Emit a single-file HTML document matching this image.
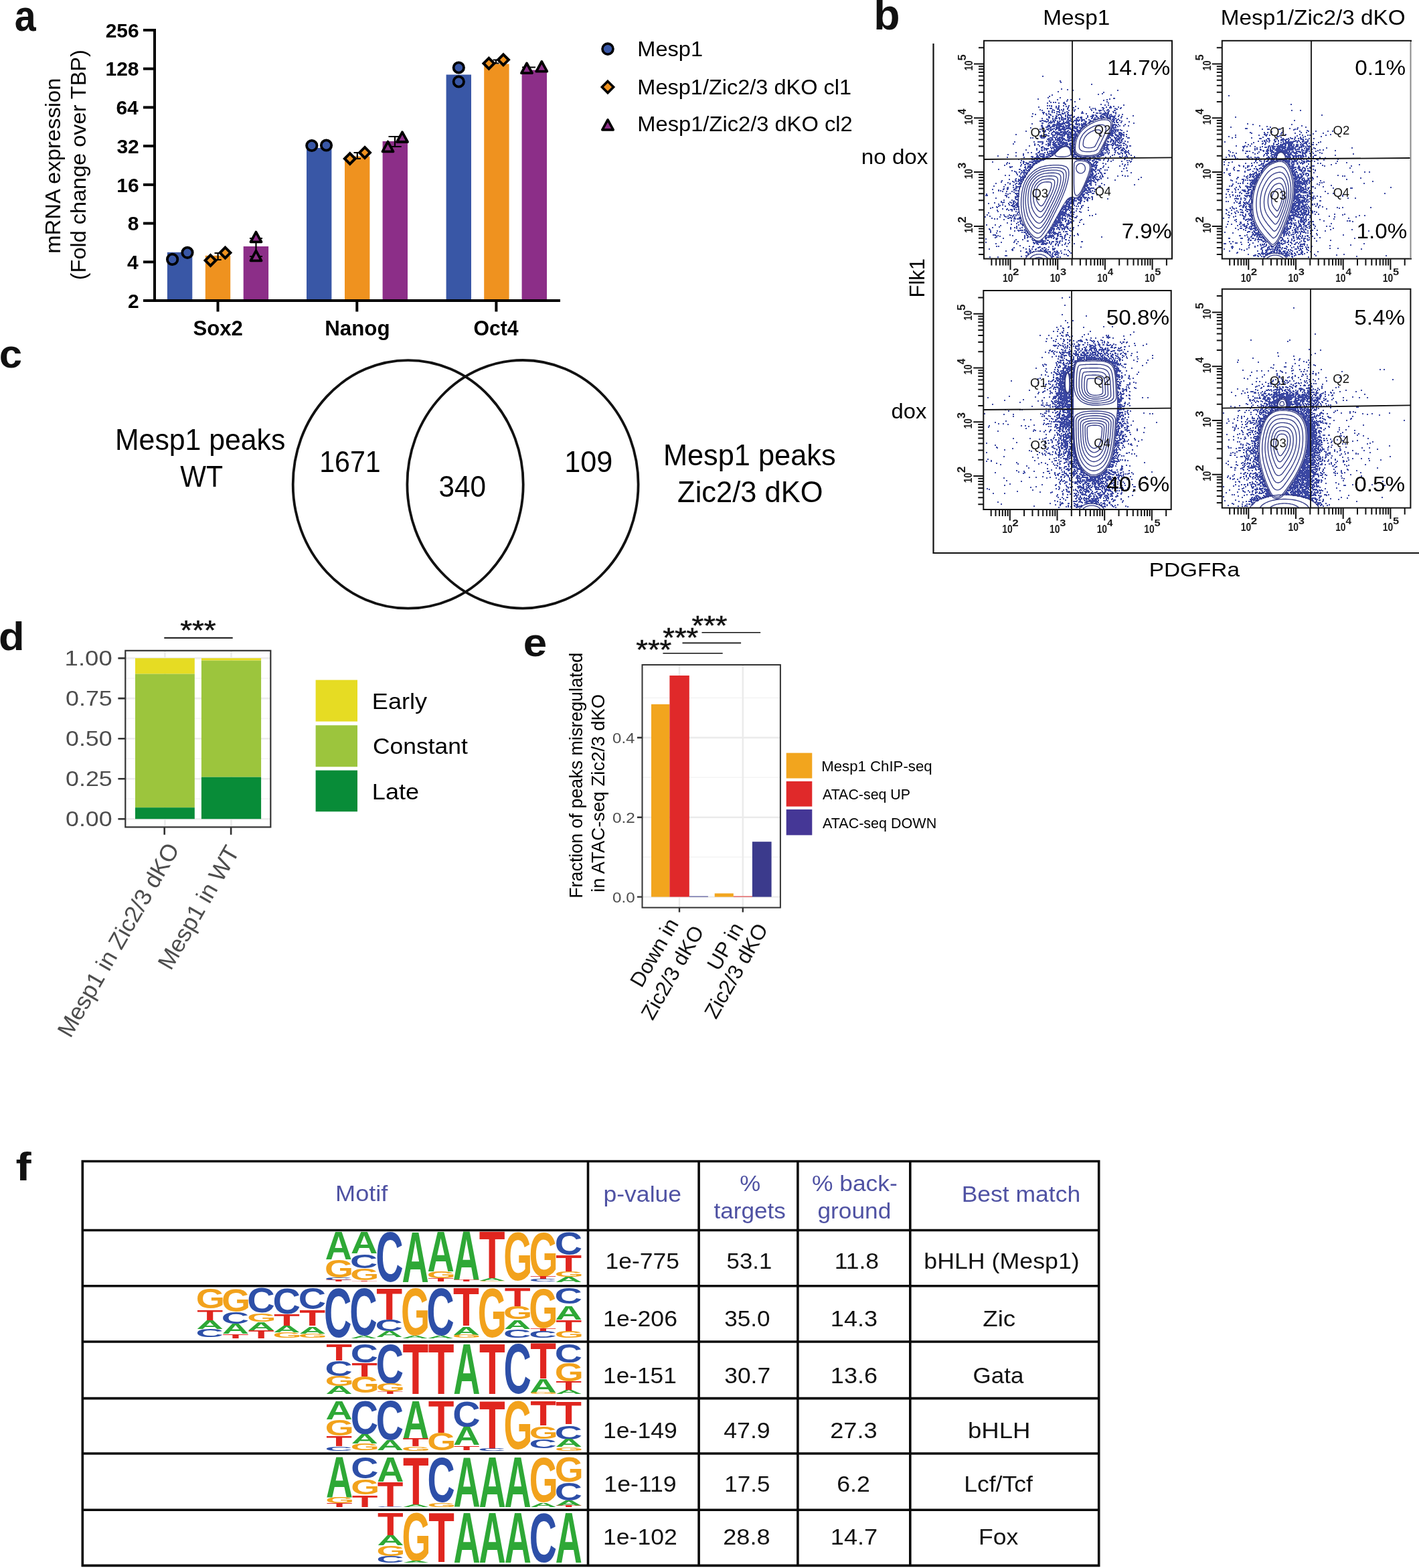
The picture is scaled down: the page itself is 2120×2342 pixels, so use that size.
<!DOCTYPE html>
<html><head><meta charset="utf-8"><title>Figure</title>
<style>html,body{margin:0;padding:0;background:#fff;width:2120px;height:2342px;overflow:hidden}svg{display:block}text{font-family:"Liberation Sans",Arial,Helvetica,sans-serif}</style>
</head><body>
<svg width="2120" height="2342" viewBox="0 0 2120 2342" font-family="'Liberation Sans', Arial, Helvetica, sans-serif">
<rect width="2120" height="2342" fill="#fff"/>
<text x="21.72" y="45.60" font-size="64.00" font-weight="bold" fill="#111" textLength="31.92" lengthAdjust="spacingAndGlyphs">a</text>
<g stroke="#000" stroke-width="4" fill="none" stroke-linecap="butt">
<path d="M231 43 V449"/>
<path d="M214 449 H837"/>
<path d="M214 45.0 H231"/>
<path d="M214 102.7 H231"/>
<path d="M214 160.4 H231"/>
<path d="M214 218.1 H231"/>
<path d="M214 275.9 H231"/>
<path d="M214 333.6 H231"/>
<path d="M214 391.3 H231"/>
<path d="M325.5 449 V465.5"/>
<path d="M533.3 449 V465.5"/>
<path d="M741.4 449 V465.5"/>
</g>
<text x="157.63" y="55.75" font-size="30.00" font-weight="bold" fill="#000">256</text>
<text x="157.47" y="113.46" font-size="30.00" font-weight="bold" fill="#000">128</text>
<text x="173.39" y="171.18" font-size="30.00" font-weight="bold" fill="#000">64</text>
<text x="174.43" y="228.89" font-size="30.00" font-weight="bold" fill="#000">32</text>
<text x="174.31" y="286.61" font-size="30.00" font-weight="bold" fill="#000">16</text>
<text x="190.84" y="344.32" font-size="30.00" font-weight="bold" fill="#000">8</text>
<text x="190.08" y="402.04" font-size="30.00" font-weight="bold" fill="#000">4</text>
<text x="191.12" y="459.75" font-size="30.00" font-weight="bold" fill="#000">2</text>
<text x="288.40" y="500.70" font-size="30.50" font-weight="bold" fill="#000" textLength="74.44" lengthAdjust="spacingAndGlyphs">Sox2</text>
<text x="485.21" y="500.70" font-size="30.50" font-weight="bold" fill="#000" textLength="97.39" lengthAdjust="spacingAndGlyphs">Nanog</text>
<text x="707.46" y="500.70" font-size="30.50" font-weight="bold" fill="#000" textLength="67.20" lengthAdjust="spacingAndGlyphs">Oct4</text>
<rect x="249.9" y="376.8" width="37.4" height="70.2" fill="#3957a6"/>
<rect x="306.8" y="381.8" width="37.4" height="65.2" fill="#ef921f"/>
<rect x="363.7" y="368.0" width="37.4" height="79.0" fill="#8c2e88"/>
<rect x="458.0" y="221.0" width="37.4" height="226.0" fill="#3957a6"/>
<rect x="515.0" y="233.5" width="37.4" height="213.5" fill="#ef921f"/>
<rect x="571.6" y="211.0" width="37.4" height="236.0" fill="#8c2e88"/>
<rect x="666.6" y="111.5" width="37.4" height="335.5" fill="#3957a6"/>
<rect x="723.2" y="95.5" width="37.4" height="351.5" fill="#ef921f"/>
<rect x="779.6" y="104.6" width="37.4" height="342.4" fill="#8c2e88"/>
<g stroke="#000" stroke-width="2.2" fill="none">
<path d="M382.5 356 V383 M373 356 H392 M373 383 H392"/>
<path d="M590 204 V219 M580.5 204 H599.7 M580.5 219 H599.7"/>
<path d="M790 100.5 V102.5 M780 100.5 H800"/>
<path d="M325.6 378 V388 M320.5 378 H330.7 M320.5 388 H330.7"/>
<path d="M533.8 228 V237 M528.5 228 H539 M528.5 237 H539"/>
<path d="M741 89.5 V94.5 M736.5 89.5 H745.5 M736.5 94.5 H745.5"/>
</g>
<circle cx="257.6" cy="387.4" r="7.7" fill="#3957a6" stroke="#000" stroke-width="3.8"/>
<circle cx="280.0" cy="377.3" r="7.7" fill="#3957a6" stroke="#000" stroke-width="3.8"/>
<path d="M314.5 381.1L322.4 389.0L314.5 396.9L306.6 389.0Z" fill="#ef921f" stroke="#000" stroke-width="4.0" stroke-linejoin="miter"/>
<path d="M336.5 369.6L344.4 377.5L336.5 385.4L328.6 377.5Z" fill="#ef921f" stroke="#000" stroke-width="4.0" stroke-linejoin="miter"/>
<path d="M382.5 346.6L390.5 361.3L374.5 361.3Z" fill="#8c2e88" stroke="#000" stroke-width="3.8" stroke-linejoin="round"/>
<path d="M382.5 374.6L390.5 389.3L374.5 389.3Z" fill="#8c2e88" stroke="#000" stroke-width="3.8" stroke-linejoin="round"/>
<circle cx="465.8" cy="217.5" r="7.7" fill="#3957a6" stroke="#000" stroke-width="3.8"/>
<circle cx="487.5" cy="217.0" r="7.7" fill="#3957a6" stroke="#000" stroke-width="3.8"/>
<path d="M522.8 229.1L530.7 237.0L522.8 244.9L514.9 237.0Z" fill="#ef921f" stroke="#000" stroke-width="4.0" stroke-linejoin="miter"/>
<path d="M545.0 220.0L552.9 227.9L545.0 235.8L537.1 227.9Z" fill="#ef921f" stroke="#000" stroke-width="4.0" stroke-linejoin="miter"/>
<path d="M579.5 211.6L587.5 226.3L571.5 226.3Z" fill="#8c2e88" stroke="#000" stroke-width="3.8" stroke-linejoin="round"/>
<path d="M601.0 197.3L609.0 212.0L593.0 212.0Z" fill="#8c2e88" stroke="#000" stroke-width="3.8" stroke-linejoin="round"/>
<circle cx="685.3" cy="101.0" r="7.7" fill="#3957a6" stroke="#000" stroke-width="3.8"/>
<circle cx="685.3" cy="122.0" r="7.7" fill="#3957a6" stroke="#000" stroke-width="3.8"/>
<path d="M730.4 86.8L738.3 94.7L730.4 102.6L722.5 94.7Z" fill="#ef921f" stroke="#000" stroke-width="4.0" stroke-linejoin="miter"/>
<path d="M752.0 81.4L759.9 89.3L752.0 97.2L744.1 89.3Z" fill="#ef921f" stroke="#000" stroke-width="4.0" stroke-linejoin="miter"/>
<path d="M787.0 94.5L795.0 109.2L779.0 109.2Z" fill="#8c2e88" stroke="#000" stroke-width="3.8" stroke-linejoin="round"/>
<path d="M809.3 92.0L817.3 106.7L801.3 106.7Z" fill="#8c2e88" stroke="#000" stroke-width="3.8" stroke-linejoin="round"/>
<g transform="translate(90.2 376.6) rotate(-90)">
<text x="-2.16" y="0.00" font-size="31.00" fill="#000" textLength="262.28" lengthAdjust="spacingAndGlyphs">mRNA expression</text>
</g>
<g transform="translate(128.0 416.2) rotate(-90)">
<text x="-2.01" y="0.00" font-size="31.00" fill="#000" textLength="344.02" lengthAdjust="spacingAndGlyphs">(Fold change over TBP)</text>
</g>
<circle cx="908.0" cy="73.1" r="8.0" fill="#3957a6" stroke="#000" stroke-width="3.6"/>
<path d="M908.0 121.4L916.6 130.0L908.0 138.6L899.4 130.0Z" fill="#ef921f" stroke="#000" stroke-width="3.6" stroke-linejoin="miter"/>
<path d="M908.0 178.9L916.2 193.9L899.8 193.9Z" fill="#8c2e88" stroke="#000" stroke-width="3.6" stroke-linejoin="round"/>
<text x="952.33" y="84.20" font-size="32.00" fill="#000" textLength="97.76" lengthAdjust="spacingAndGlyphs">Mesp1</text>
<text x="952.33" y="141.00" font-size="32.00" fill="#000" textLength="319.75" lengthAdjust="spacingAndGlyphs">Mesp1/Zic2/3 dKO cl1</text>
<text x="952.32" y="196.40" font-size="32.00" fill="#000" textLength="321.32" lengthAdjust="spacingAndGlyphs">Mesp1/Zic2/3 dKO cl2</text>
<text x="1305.36" y="44.00" font-size="64.00" font-weight="bold" fill="#111" textLength="39.28" lengthAdjust="spacingAndGlyphs">b</text>
<text x="1558.27" y="37.30" font-size="32.00" fill="#000" textLength="99.96" lengthAdjust="spacingAndGlyphs">Mesp1</text>
<text x="1823.87" y="37.30" font-size="32.00" fill="#000" textLength="275.72" lengthAdjust="spacingAndGlyphs">Mesp1/Zic2/3 dKO</text>
<text x="1286.80" y="244.50" font-size="32.00" fill="#000" textLength="99.56" lengthAdjust="spacingAndGlyphs">no dox</text>
<text x="1331.63" y="625.00" font-size="32.00" fill="#000" textLength="52.72" lengthAdjust="spacingAndGlyphs">dox</text>
<text x="1716.77" y="861.00" font-size="30.00" fill="#000" textLength="135.23" lengthAdjust="spacingAndGlyphs">PDGFRa</text>
<g transform="translate(1380.5 442) rotate(-90)">
<text x="-2.54" y="0.00" font-size="32.00" fill="#000" textLength="58.56" lengthAdjust="spacingAndGlyphs">Flk1</text>
</g>
<path d="M1394.5 65 V826 H2120" stroke="#111" stroke-width="2.2" fill="none"/>
<clipPath id="fc0"><rect x="1470.0" y="60.8" width="281.0" height="325.7"/></clipPath><g clip-path="url(#fc0)">
<path d="M1557 114h2m24 7h2m-1 2h2m44 3h2m-47 7h2m7 1h2m6 1h2m65 0h2m-91 2h2m66 1h2m-4 2h2m-8 1h2m-71 1h2m86 0h2m-94 2h2m-4 2h2m16 0h2m78 1h2m-1 0h2m-116 1h2m60 0h2m43 0h2m-80 1h2m13 0h2m3 0h2m52 0h2m-7 1h2m-83 1h2m24 0h2m10 1h2m46 0h2m-86 1h2m2 0h2m1 0h2m11 0h2m-27 1h2m15 0h2m5 0h2m65 0h2m-67 1h2m-1 1h2m51 0h2m4 1h2m3 0h2m21 0h2m-116 1h2m1 0h2m1 0h2m9 0h2m5 0h2m6 0h2m-28 1h2m5 0h2m13 0h2m12 0h2m50 0h2m3 0h2m-114 1h2m28 0h2m12 0h2m30 0h2m23 0h2m5 0h2m9 0h2m-95 1h2m1 0h2m13 0h2m6 0h2m41 0h2m-1 0h2m8 0h2m0 0h2m13 0h2m-112 1h2m2 0h2m0 0h2m22 0h2m14 0h2m20 0h2m1 0h2m11 0h2m15 0h2m6 0h2m-96 1h2m-1 0h2m-1 0h2m5 0h2m4 0h2m33 0h2m36 0h2m-1 0h2m-117 1h2m17 0h2m11 0h2m1 0h2m12 0h2m1 0h2m29 0h2m9 0h2m5 0h2m-1 0h2m-101 1h2m16 0h2m6 0h2m12 0h2m32 0h2m9 0h2m-1 0h2m0 0h2m7 0h2m9 0h2m-1 0h2m-101 1h2m3 0h2m14 0h2m15 0h2m36 0h2m5 0h2m5 0h2m-92 1h2m10 0h2m-1 0h2m0 0h2m10 0h2m21 0h2m37 0h2m5 0h2m-107 1h2m-1 0h2m-1 0h2m10 0h2m1 0h2m6 0h2m6 0h2m3 0h2m36 0h2m16 0h2m1 0h2m-1 0h2m6 0h2m1 0h2m-82 1h2m2 0h2m9 0h2m12 0h2m0 0h2m18 0h2m0 0h2m1 0h2m0 0h2m3 0h2m3 0h2m-1 0h2m9 0h2m-126 1h2m14 0h2m2 0h2m2 0h2m10 0h2m6 0h2m0 0h2m4 0h2m26 0h2m23 0h2m0 0h2m0 0h2m-1 0h2m1 0h2m9 0h2m-122 1h2m20 0h2m11 0h2m0 0h2m10 0h2m49 0h2m0 0h2m3 0h2m-1 0h2m3 0h2m15 0h2m-115 1h2m4 0h2m9 0h2m2 0h2m5 0h2m3 0h2m1 0h2m-1 0h2m-1 0h2m28 0h2m0 0h2m1 0h2m6 0h2m3 0h2m-1 0h2m1 0h2m2 0h2m12 0h2m-96 1h2m15 0h2m1 0h2m-1 0h2m24 0h2m11 0h2m5 0h2m5 0h2m1 0h2m4 0h2m3 0h2m25 0h2m-153 1h2m23 0h2m4 0h2m4 0h2m5 0h2m4 0h2m11 0h2m23 0h2m-1 0h2m0 0h2m3 0h2m-1 0h2m3 0h2m1 0h2m-1 0h2m3 0h2m-1 0h2m2 0h2m0 0h2m0 0h2m-1 0h2m0 0h2m4 0h2m3 0h2m-110 1h2m8 0h2m15 0h2m7 0h2m5 0h2m2 0h2m-1 0h2m7 0h2m12 0h2m4 0h2m1 0h2m-1 0h2m3 0h2m-1 0h2m2 0h2m2 0h2m-1 0h2m-99 1h2m-1 0h2m7 0h2m-1 0h2m2 0h2m-1 0h2m1 0h2m0 0h2m5 0h2m0 0h2m0 0h2m9 0h2m-1 0h2m1 0h2m0 0h2m14 0h2m2 0h2m3 0h2m2 0h2m10 0h2m-1 0h2m4 0h2m-1 0h2m8 0h2m-120 1h2m14 0h2m3 0h2m-1 0h2m5 0h2m3 0h2m-1 0h2m14 0h2m6 0h2m5 0h2m6 0h2m13 0h2m7 0h2m2 0h2m3 0h2m1 0h2m15 0h2m-122 1h2m7 0h2m1 0h2m5 0h2m4 0h2m-1 0h2m0 0h2m2 0h2m2 0h2m32 0h2m0 0h2m1 0h2m21 0h2m-1 0h2m6 0h2m-107 1h2m18 0h2m-1 0h2m-1 0h2m5 0h2m11 0h2m-1 0h2m-1 0h2m1 0h2m1 0h2m0 0h2m0 0h2m5 0h2m8 0h2m24 0h2m0 0h2m2 0h2m-114 1h2m-1 0h2m14 0h2m1 0h2m18 0h2m0 0h2m4 0h2m0 0h2m0 0h2m1 0h2m3 0h2m10 0h2m32 0h2m-1 0h2m2 0h2m3 0h2m-121 1h2m-1 0h2m3 0h2m0 0h2m2 0h2m2 0h2m1 0h2m-1 0h2m-1 0h2m3 0h2m1 0h2m-1 0h2m3 0h2m3 0h2m1 0h2m1 0h2m9 0h2m3 0h2m3 0h2m8 0h2m0 0h2m28 0h2m-1 0h2m10 0h2m-115 1h2m-1 0h2m4 0h2m22 0h2m-1 0h2m7 0h2m2 0h2m13 0h2m3 0h2m-1 0h2m33 0h2m2 0h2m17 0h2m-121 1h2m0 0h2m0 0h2m1 0h2m3 0h2m0 0h2m5 0h2m1 0h2m-1 0h2m2 0h2m23 0h2m3 0h2m-1 0h2m35 0h2m2 0h2m-1 0h2m3 0h2m-120 1h2m-1 0h2m7 0h2m1 0h2m9 0h2m0 0h2m2 0h2m-1 0h2m-1 0h2m0 0h2m1 0h2m0 0h2m10 0h2m9 0h2m-1 0h2m0 0h2m3 0h2m65 0h2m-154 1h2m35 0h2m-1 0h2m0 0h2m1 0h2m0 0h2m-1 0h2m0 0h2m6 0h2m7 0h2m0 0h2m1 0h2m2 0h2m2 0h2m-48 1h2m0 0h2m1 0h2m1 0h2m-1 0h2m2 0h2m8 0h2m0 0h2m-1 0h2m6 0h2m0 0h2m1 0h2m1 0h2m-1 0h2m0 0h2m-1 0h2m-1 0h2m-1 0h2m40 0h2m0 0h2m3 0h2m8 0h2m-126 1h2m7 0h2m0 0h2m3 0h2m1 0h2m-1 0h2m2 0h2m2 0h2m5 0h2m2 0h2m5 0h2m16 0h2m0 0h2m38 0h2m-1 0h2m2 0h2m-114 1h2m10 0h2m4 0h2m-1 0h2m2 0h2m1 0h2m0 0h2m3 0h2m3 0h2m0 0h2m-1 0h2m-1 0h2m12 0h2m2 0h2m0 0h2m47 0h2m4 0h2m4 0h2m5 0h2m-131 1h2m6 0h2m-1 0h2m0 0h2m2 0h2m-1 0h2m-1 0h2m-1 0h2m2 0h2m2 0h2m0 0h2m0 0h2m-1 0h2m3 0h2m9 0h2m0 0h2m1 0h2m6 0h2m-1 0h2m-1 0h2m-1 0h2m41 0h2m5 0h2m-115 1h2m-1 0h2m3 0h2m0 0h2m2 0h2m-1 0h2m6 0h2m-1 0h2m0 0h2m0 0h2m4 0h2m0 0h2m3 0h2m-1 0h2m7 0h2m2 0h2m5 0h2m-1 0h2m42 0h2m2 0h2m-128 1h2m16 0h2m10 0h2m6 0h2m1 0h2m0 0h2m3 0h2m4 0h2m3 0h2m3 0h2m2 0h2m-1 0h2m2 0h2m-1 0h2m0 0h2m-1 0h2m43 0h2m-1 0h2m-1 0h2m1 0h2m-112 1h2m8 0h2m6 0h2m2 0h2m-1 0h2m-1 0h2m0 0h2m2 0h2m0 0h2m-1 0h2m1 0h2m0 0h2m-1 0h2m0 0h2m-1 0h2m2 0h2m1 0h2m0 0h2m6 0h2m-64 1h2m8 0h2m-1 0h2m2 0h2m1 0h2m-1 0h2m3 0h2m4 0h2m0 0h2m0 0h2m1 0h2m-1 0h2m5 0h2m0 0h2m0 0h2m4 0h2m4 0h2m44 0h2m1 0h2m-1 0h2m-101 1h2m3 0h2m4 0h2m3 0h2m-1 0h2m4 0h2m0 0h2m16 0h2m-1 0h2m2 0h2m45 0h2m4 0h2m0 0h2m0 0h2m1 0h2m-118 1h2m2 0h2m6 0h2m10 0h2m0 0h2m-1 0h2m4 0h2m3 0h2m3 0h2m0 0h2m0 0h2m4 0h2m0 0h2m-1 0h2m47 0h2m1 0h2m-1 0h2m7 0h2m-145 1h2m23 0h2m1 0h2m-1 0h2m4 0h2m4 0h2m9 0h2m8 0h2m9 0h2m1 0h2m-1 0h2m0 0h2m-1 0h2m46 0h2m-1 0h2m-1 0h2m-1 0h2m1 0h2m1 0h2m12 0h2m-132 1h2m5 0h2m11 0h2m0 0h2m1 0h2m4 0h2m-1 0h2m0 0h2m0 0h2m0 0h2m-1 0h2m-1 0h2m-1 0h2m1 0h2m1 0h2m3 0h2m-1 0h2m1 0h2m55 0h2m-97 1h2m3 0h2m2 0h2m1 0h2m0 0h2m1 0h2m1 0h2m3 0h2m0 0h2m-1 0h2m0 0h2m3 0h2m3 0h2m46 0h2m0 0h2m1 0h2m5 0h2m0 0h2m3 0h2m-114 1h2m10 0h2m-1 0h2m1 0h2m6 0h2m0 0h2m12 0h2m51 0h2m1 0h2m11 0h2m-107 1h2m4 0h2m-1 0h2m2 0h2m-1 0h2m3 0h2m0 0h2m1 0h2m-1 0h2m0 0h2m1 0h2m-1 0h2m3 0h2m1 0h2m49 0h2m0 0h2m3 0h2m4 0h2m0 0h2m-1 0h2m-159 1h2m40 0h2m-1 0h2m0 0h2m7 0h2m6 0h2m0 0h2m-1 0h2m-1 0h2m0 0h2m3 0h2m4 0h2m2 0h2m1 0h2m-1 0h2m-1 0h2m1 0h2m47 0h2m-1 0h2m1 0h2m3 0h2m3 0h2m0 0h2m0 0h2m0 0h2m-1 0h2m2 0h2m-129 1h2m6 0h2m7 0h2m-1 0h2m0 0h2m6 0h2m-1 0h2m0 0h2m1 0h2m3 0h2m0 0h2m1 0h2m-1 0h2m-1 0h2m0 0h2m1 0h2m-1 0h2m48 0h2m0 0h2m0 0h2m3 0h2m0 0h2m3 0h2m0 0h2m-124 1h2m10 0h2m-1 0h2m10 0h2m6 0h2m0 0h2m-1 0h2m9 0h2m3 0h2m-1 0h2m0 0h2m50 0h2m-1 0h2m-1 0h2m6 0h2m1 0h2m3 0h2m-125 1h2m4 0h2m9 0h2m4 0h2m6 0h2m6 0h2m0 0h2m0 0h2m5 0h2m-1 0h2m48 0h2m10 0h2m-1 0h2m3 0h2m6 0h2m-130 1h2m2 0h2m0 0h2m12 0h2m2 0h2m2 0h2m0 0h2m9 0h2m0 0h2m0 0h2m1 0h2m0 0h2m0 0h2m49 0h2m5 0h2m5 0h2m-134 1h2m1 0h2m11 0h2m0 0h2m0 0h2m7 0h2m0 0h2m-1 0h2m3 0h2m3 0h2m-1 0h2m1 0h2m-1 0h2m-1 0h2m5 0h2m0 0h2m-1 0h2m-1 0h2m0 0h2m-1 0h2m-1 0h2m-1 0h2m-1 0h2m-1 0h2m-1 0h2m47 0h2m1 0h2m5 0h2m0 0h2m3 0h2m0 0h2m8 0h2m0 0h2m-139 1h2m15 0h2m3 0h2m6 0h2m0 0h2m2 0h2m-1 0h2m1 0h2m5 0h2m-1 0h2m4 0h2m-1 0h2m-1 0h2m48 0h2m8 0h2m-1 0h2m1 0h2m0 0h2m-1 0h2m3 0h2m-115 1h2m10 0h2m5 0h2m1 0h2m0 0h2m6 0h2m5 0h2m-1 0h2m-1 0h2m53 0h2m4 0h2m1 0h2m-1 0h2m4 0h2m-112 1h2m0 0h2m-1 0h2m-1 0h2m0 0h2m2 0h2m-1 0h2m0 0h2m-1 0h2m-1 0h2m-1 0h2m-1 0h2m2 0h2m1 0h2m-1 0h2m1 0h2m-1 0h2m2 0h2m2 0h2m-1 0h2m-1 0h2m52 0h2m0 0h2m5 0h2m-1 0h2m0 0h2m1 0h2m-97 1h2m0 0h2m-1 0h2m2 0h2m4 0h2m1 0h2m0 0h2m0 0h2m2 0h2m58 0h2m1 0h2m0 0h2m5 0h2m-114 1h2m1 0h2m1 0h2m3 0h2m7 0h2m0 0h2m8 0h2m-1 0h2m4 0h2m0 0h2m48 0h2m3 0h2m1 0h2m8 0h2m1 0h2m3 0h2m-167 1h2m27 0h2m4 0h2m-1 0h2m0 0h2m0 0h2m0 0h2m8 0h2m0 0h2m2 0h2m3 0h2m2 0h2m1 0h2m1 0h2m11 0h2m0 0h2m49 0h2m-1 0h2m1 0h2m3 0h2m1 0h2m1 0h2m13 0h2m-114 1h2m2 0h2m2 0h2m1 0h2m-1 0h2m-1 0h2m0 0h2m-1 0h2m-1 0h2m0 0h2m0 0h2m7 0h2m61 0h2m3 0h2m1 0h2m-1 0h2m-119 1h2m6 0h2m1 0h2m4 0h2m-1 0h2m6 0h2m0 0h2m5 0h2m-1 0h2m3 0h2m0 0h2m49 0h2m8 0h2m-1 0h2m1 0h2m5 0h2m3 0h2m0 0h2m-168 1h2m30 0h2m9 0h2m8 0h2m-1 0h2m4 0h2m5 0h2m-1 0h2m-1 0h2m2 0h2m-1 0h2m0 0h2m0 0h2m0 0h2m-1 0h2m1 0h2m-1 0h2m1 0h2m-1 0h2m-1 0h2m-1 0h2m47 0h2m9 0h2m-116 1h2m10 0h2m1 0h2m0 0h2m-1 0h2m2 0h2m0 0h2m0 0h2m-1 0h2m1 0h2m-1 0h2m5 0h2m2 0h2m-1 0h2m-1 0h2m1 0h2m-1 0h2m2 0h2m0 0h2m44 0h2m1 0h2m0 0h2m-1 0h2m1 0h2m1 0h2m2 0h2m1 0h2m10 0h2m-138 1h2m19 0h2m0 0h2m3 0h2m-1 0h2m7 0h2m0 0h2m-1 0h2m3 0h2m5 0h2m-1 0h2m1 0h2m46 0h2m-1 0h2m-1 0h2m7 0h2m-1 0h2m2 0h2m-1 0h2m-1 0h2m-1 0h2m1 0h2m-1 0h2m-1 0h2m2 0h2m-143 1h2m13 0h2m11 0h2m7 0h2m-1 0h2m-1 0h2m0 0h2m2 0h2m0 0h2m0 0h2m1 0h2m2 0h2m4 0h2m0 0h2m51 0h2m5 0h2m7 0h2m-1 0h2m10 0h2m2 0h2m-1 0h2m-133 1h2m18 0h2m-1 0h2m0 0h2m-1 0h2m0 0h2m-1 0h2m8 0h2m-1 0h2m2 0h2m0 0h2m-1 0h2m45 0h2m2 0h2m-100 1h2m12 0h2m1 0h2m1 0h2m0 0h2m-1 0h2m0 0h2m-1 0h2m-1 0h2m0 0h2m11 0h2m0 0h2m2 0h2m-1 0h2m43 0h2m1 0h2m13 0h2m0 0h2m2 0h2m-1 0h2m7 0h2m-130 1h2m-1 0h2m1 0h2m11 0h2m-1 0h2m4 0h2m18 0h2m2 0h2m46 0h2m0 0h2m-1 0h2m5 0h2m3 0h2m2 0h2m5 0h2m3 0h2m-136 1h2m10 0h2m0 0h2m0 0h2m-1 0h2m3 0h2m5 0h2m-1 0h2m1 0h2m-1 0h2m14 0h2m-1 0h2m0 0h2m-1 0h2m44 0h2m-1 0h2m13 0h2m-1 0h2m5 0h2m4 0h2m-106 1h2m1 0h2m0 0h2m0 0h2m17 0h2m2 0h2m42 0h2m-1 0h2m2 0h2m0 0h2m13 0h2m3 0h2m-1 0h2m1 0h2m-149 1h2m14 0h2m5 0h2m-1 0h2m1 0h2m1 0h2m-1 0h2m9 0h2m-1 0h2m-1 0h2m-1 0h2m1 0h2m17 0h2m3 0h2m45 0h2m-1 0h2m10 0h2m9 0h2m-121 1h2m12 0h2m2 0h2m0 0h2m0 0h2m-1 0h2m18 0h2m-1 0h2m1 0h2m42 0h2m7 0h2m8 0h2m6 0h2m-1 0h2m0 0h2m2 0h2m2 0h2m-135 1h2m13 0h2m0 0h2m-1 0h2m-1 0h2m-1 0h2m1 0h2m1 0h2m22 0h2m0 0h2m39 0h2m6 0h2m25 0h2m-130 1h2m10 0h2m4 0h2m2 0h2m24 0h2m-1 0h2m-1 0h2m-1 0h2m60 0h2m12 0h2m1 0h2m0 0h2m-169 1h2m16 0h2m3 0h2m8 0h2m-1 0h2m7 0h2m2 0h2m6 0h2m1 0h2m-1 0h2m22 0h2m-1 0h2m1 0h2m-1 0h2m38 0h2m-1 0h2m-1 0h2m1 0h2m1 0h2m1 0h2m7 0h2m2 0h2m3 0h2m4 0h2m-1 0h2m2 0h2m-120 1h2m-1 0h2m-1 0h2m-1 0h2m1 0h2m26 0h2m1 0h2m41 0h2m1 0h2m24 0h2m2 0h2m-154 1h2m17 0h2m-1 0h2m3 0h2m0 0h2m0 0h2m-1 0h2m5 0h2m2 0h2m0 0h2m0 0h2m30 0h2m-1 0h2m36 0h2m0 0h2m-1 0h2m6 0h2m13 0h2m0 0h2m2 0h2m8 0h2m-183 1h2m51 0h2m-1 0h2m2 0h2m1 0h2m3 0h2m28 0h2m0 0h2m-1 0h2m-1 0h2m0 0h2m33 0h2m-1 0h2m-1 0h2m2 0h2m14 0h2m16 0h2m-156 1h2m19 0h2m1 0h2m5 0h2m6 0h2m2 0h2m-1 0h2m28 0h2m-1 0h2m35 0h2m2 0h2m0 0h2m-1 0h2m12 0h2m26 0h2m-201 1h2m25 0h2m29 0h2m4 0h2m1 0h2m-1 0h2m5 0h2m1 0h2m-1 0h2m-1 0h2m31 0h2m3 0h2m-1 0h2m-1 0h2m26 0h2m-1 0h2m3 0h2m30 0h2m4 0h2m-144 1h2m0 0h2m6 0h2m2 0h2m-1 0h2m2 0h2m1 0h2m0 0h2m2 0h2m32 0h2m-1 0h2m-1 0h2m0 0h2m-1 0h2m1 0h2m0 0h2m-1 0h2m-1 0h2m18 0h2m2 0h2m0 0h2m-1 0h2m-1 0h2m14 0h2m12 0h2m6 0h2m1 0h2m9 0h2m-192 1h2m23 0h2m11 0h2m4 0h2m-1 0h2m0 0h2m4 0h2m3 0h2m0 0h2m41 0h2m4 0h2m-1 0h2m1 0h2m-1 0h2m0 0h2m5 0h2m3 0h2m1 0h2m14 0h2m21 0h2m-131 1h2m0 0h2m2 0h2m-1 0h2m5 0h2m-1 0h2m1 0h2m41 0h2m7 0h2m1 0h2m1 0h2m4 0h2m-1 0h2m-1 0h2m-91 1h2m5 0h2m1 0h2m1 0h2m2 0h2m-1 0h2m3 0h2m39 0h2m0 0h2m-1 0h2m-1 0h2m-1 0h2m-1 0h2m-1 0h2m0 0h2m2 0h2m-1 0h2m0 0h2m-1 0h2m0 0h2m1 0h2m0 0h2m5 0h2m12 0h2m4 0h2m23 0h2m-161 1h2m20 0h2m4 0h2m2 0h2m-1 0h2m-1 0h2m-1 0h2m-1 0h2m1 0h2m45 0h2m-1 0h2m-1 0h2m-1 0h2m1 0h2m-1 0h2m-1 0h2m-1 0h2m-1 0h2m-1 0h2m0 0h2m3 0h2m10 0h2m0 0h2m-1 0h2m-1 0h2m36 0h2m9 0h2m-151 1h2m1 0h2m2 0h2m3 0h2m2 0h2m-1 0h2m60 0h2m1 0h2m2 0h2m-1 0h2m3 0h2m-1 0h2m5 0h2m-1 0h2m-1 0h2m3 0h2m5 0h2m5 0h2m-139 1h2m19 0h2m-1 0h2m1 0h2m-1 0h2m-1 0h2m0 0h2m68 0h2m5 0h2m-1 0h2m49 0h2m1 0h2m-160 1h2m13 0h2m-1 0h2m-1 0h2m-1 0h2m0 0h2m-1 0h2m-1 0h2m0 0h2m72 0h2m4 0h2m2 0h2m-1 0h2m15 0h2m3 0h2m14 0h2m12 0h2m-209 1h2m44 0h2m-1 0h2m6 0h2m-1 0h2m-1 0h2m0 0h2m-1 0h2m2 0h2m0 0h2m0 0h2m-1 0h2m73 0h2m7 0h2m2 0h2m47 0h2m-186 1h2m18 0h2m6 0h2m7 0h2m3 0h2m-1 0h2m79 0h2m4 0h2m1 0h2m-1 0h2m44 0h2m-179 1h2m19 0h2m3 0h2m0 0h2m6 0h2m0 0h2m1 0h2m83 0h2m2 0h2m8 0h2m-146 1h2m29 0h2m0 0h2m5 0h2m-1 0h2m83 0h2m-1 0h2m1 0h2m16 0h2m23 0h2m-153 1h2m3 0h2m-1 0h2m5 0h2m-1 0h2m1 0h2m-1 0h2m85 0h2m0 0h2m-1 0h2m1 0h2m42 0h2m2 0h2m-186 1h2m129 0h2m0 0h2m-1 0h2m-1 0h2m0 0h2m-1 0h2m-116 1h2m9 0h2m-1 0h2m-1 0h2m-1 0h2m1 0h2m87 0h2m-1 0h2m1 0h2m12 0h2m22 0h2m5 0h2m-173 1h2m1 0h2m18 0h2m5 0h2m0 0h2m88 0h2m-1 0h2m-1 0h2m3 0h2m-131 1h2m-1 0h2m19 0h2m3 0h2m-1 0h2m1 0h2m0 0h2m92 0h2m10 0h2m6 0h2m-126 1h2m1 0h2m2 0h2m97 0h2m43 0h2m-145 1h2m90 0h2m3 0h2m5 0h2m-1 0h2m32 0h2m-189 1h2m29 0h2m-1 0h2m7 0h2m2 0h2m-1 0h2m91 0h2m1 0h2m1 0h2m-109 1h2m-1 0h2m4 0h2m-1 0h2m93 0h2m0 0h2m3 0h2m-1 0h2m-1 0h2m7 0h2m1 0h2m-144 1h2m12 0h2m1 0h2m0 0h2m1 0h2m-1 0h2m1 0h2m91 0h2m-1 0h2m1 0h2m6 0h2m39 0h2m-170 1h2m114 0h2m3 0h2m4 0h2m31 0h2m-160 1h2m3 0h2m3 0h2m1 0h2m97 0h2m5 0h2m-113 1h2m1 0h2m1 0h2m-1 0h2m-1 0h2m-1 0h2m95 0h2m10 0h2m-1 0h2m43 0h2m-173 1h2m9 0h2m101 0h2m6 0h2m7 0h2m-1 0h2m-128 1h2m3 0h2m1 0h2m-1 0h2m93 0h2m0 0h2m-1 0h2m4 0h2m6 0h2m-128 1h2m8 0h2m101 0h2m-133 1h2m4 0h2m21 0h2m97 0h2m0 0h2m2 0h2m-1 0h2m8 0h2m28 0h2m-156 1h2m-1 0h2m2 0h2m99 0h2m-1 0h2m-1 0h2m2 0h2m-1 0h2m6 0h2m24 0h2m9 0h2m2 0h2m-159 1h2m-1 0h2m-1 0h2m0 0h2m94 0h2m-1 0h2m2 0h2m-1 0h2m3 0h2m6 0h2m-1 0h2m-125 1h2m-1 0h2m2 0h2m-1 0h2m96 0h2m-1 0h2m1 0h2m-1 0h2m-1 0h2m-1 0h2m5 0h2m60 0h2m-179 1h2m-1 0h2m96 0h2m-1 0h2m-1 0h2m1 0h2m-1 0h2m2 0h2m6 0h2m8 0h2m-139 1h2m5 0h2m1 0h2m-1 0h2m103 0h2m1 0h2m6 0h2m-139 1h2m12 0h2m1 0h2m-1 0h2m-1 0h2m0 0h2m95 0h2m2 0h2m6 0h2m-1 0h2m-1 0h2m0 0h2m57 0h2m-186 1h2m5 0h2m0 0h2m1 0h2m95 0h2m0 0h2m0 0h2m3 0h2m29 0h2m-171 1h2m19 0h2m2 0h2m0 0h2m99 0h2m3 0h2m-1 0h2m0 0h2m5 0h2m-129 1h2m3 0h2m1 0h2m2 0h2m-1 0h2m97 0h2m0 0h2m-1 0h2m4 0h2m-140 1h2m17 0h2m10 0h2m96 0h2m-1 0h2m2 0h2m4 0h2m-132 1h2m15 0h2m-1 0h2m98 0h2m11 0h2m-151 1h2m19 0h2m8 0h2m5 0h2m100 0h2m0 0h2m14 0h2m-139 1h2m6 0h2m3 0h2m0 0h2m97 0h2m3 0h2m-128 1h2m120 0h2m-1 0h2m3 0h2m5 0h2m11 0h2m43 0h2m-183 1h2m107 0h2m-1 0h2m-1 0h2m3 0h2m-147 1h2m31 0h2m4 0h2m-1 0h2m95 0h2m0 0h2m16 0h2m0 0h2m-146 1h2m17 0h2m-1 0h2m-1 0h2m-1 0h2m-1 0h2m-1 0h2m95 0h2m1 0h2m-120 1h2m6 0h2m7 0h2m100 0h2m0 0h2m-124 1h2m10 0h2m0 0h2m2 0h2m96 0h2m3 0h2m2 0h2m0 0h2m0 0h2m-136 1h2m4 0h2m15 0h2m96 0h2m-1 0h2m-1 0h2m1 0h2m-1 0h2m0 0h2m-148 1h2m14 0h2m4 0h2m8 0h2m-1 0h2m105 0h2m11 0h2m0 0h2m-148 1h2m21 0h2m1 0h2m100 0h2m0 0h2m3 0h2m-1 0h2m-138 1h2m1 0h2m21 0h2m1 0h2m98 0h2m1 0h2m-1 0h2m2 0h2m1 0h2m-136 1h2m4 0h2m6 0h2m105 0h2m-1 0h2m7 0h2m4 0h2m-122 1h2m101 0h2m-1 0h2m5 0h2m0 0h2m0 0h2m-148 1h2m136 0h2m-1 0h2m-1 0h2m-1 0h2m-124 1h2m4 0h2m6 0h2m0 0h2m0 0h2m94 0h2m5 0h2m6 0h2m0 0h2m-162 1h2m30 0h2m14 0h2m92 0h2m-1 0h2m-1 0h2m0 0h2m-103 1h2m94 0h2m0 0h2m7 0h2m11 0h2m-168 1h2m0 0h2m25 0h2m0 0h2m14 0h2m97 0h2m-101 1h2m0 0h2m90 0h2m1 0h2m-115 1h2m11 0h2m-1 0h2m-1 0h2m0 0h2m90 0h2m-1 0h2m3 0h2m10 0h2m-1 0h2m-127 1h2m8 0h2m-1 0h2m82 0h2m7 0h2m-1 0h2m1 0h2m-1 0h2m1 0h2m0 0h2m-1 0h2m-1 0h2m1 0h2m-140 1h2m27 0h2m80 0h2m-1 0h2m-1 0h2m-1 0h2m1 0h2m-1 0h2m3 0h2m1 0h2m0 0h2m10 0h2m2 0h2m-37 1h2m1 0h2m-1 0h2m3 0h2m1 0h2m-1 0h2m9 0h2m2 0h2m28 0h2m-139 1h2m0 0h2m74 0h2m-1 0h2m0 0h2m2 0h2m0 0h2m4 0h2m-1 0h2m0 0h2m-1 0h2m7 0h2m6 0h2m-134 1h2m10 0h2m84 0h2m1 0h2m9 0h2m0 0h2m0 0h2m6 0h2m-1 0h2m-112 1h2m4 0h2m71 0h2m1 0h2m3 0h2m0 0h2m-1 0h2m-1 0h2m0 0h2m4 0h2m9 0h2m-131 1h2m16 0h2m-1 0h2m77 0h2m0 0h2m2 0h2m2 0h2m8 0h2m-1 0h2m3 0h2m-126 1h2m2 0h2m7 0h2m6 0h2m75 0h2m-1 0h2m-1 0h2m-1 0h2m3 0h2m-118 1h2m10 0h2m11 0h2m1 0h2m4 0h2m-1 0h2m70 0h2m3 0h2m0 0h2m0 0h2m0 0h2m5 0h2m0 0h2m-1 0h2m-139 1h2m28 0h2m6 0h2m2 0h2m-1 0h2m71 0h2m-1 0h2m-1 0h2m1 0h2m-1 0h2m0 0h2m11 0h2m-124 1h2m20 0h2m2 0h2m0 0h2m71 0h2m-1 0h2m0 0h2m6 0h2m4 0h2m-114 1h2m8 0h2m3 0h2m3 0h2m73 0h2m2 0h2m-1 0h2m-106 1h2m15 0h2m-1 0h2m2 0h2m1 0h2m0 0h2m68 0h2m0 0h2m7 0h2m1 0h2m11 0h2m-128 1h2m8 0h2m9 0h2m0 0h2m73 0h2m-1 0h2m-1 0h2m-1 0h2m0 0h2m0 0h2m-1 0h2m8 0h2m1 0h2m3 0h2m-129 1h2m23 0h2m-1 0h2m-1 0h2m2 0h2m0 0h2m65 0h2m2 0h2m1 0h2m2 0h2m-119 1h2m5 0h2m26 0h2m70 0h2m-1 0h2m5 0h2m2 0h2m12 0h2m8 0h2m-148 1h2m105 0h2m-1 0h2m1 0h2m-1 0h2m2 0h2m-1 0h2m0 0h2m1 0h2m-106 1h2m5 0h2m8 0h2m-1 0h2m4 0h2m63 0h2m-1 0h2m1 0h2m-1 0h2m-1 0h2m5 0h2m0 0h2m0 0h2m3 0h2m3 0h2m-112 1h2m4 0h2m0 0h2m2 0h2m1 0h2m1 0h2m62 0h2m1 0h2m-1 0h2m-1 0h2m-1 0h2m1 0h2m-1 0h2m-108 1h2m15 0h2m85 0h2m2 0h2m26 0h2m-116 1h2m71 0h2m1 0h2m2 0h2m7 0h2m5 0h2m-119 1h2m25 0h2m65 0h2m-1 0h2m0 0h2m3 0h2m5 0h2m11 0h2m-94 1h2m61 0h2m-1 0h2m0 0h2m1 0h2m0 0h2m6 0h2m1 0h2m0 0h2m8 0h2m-140 1h2m105 0h2m-1 0h2m-1 0h2m0 0h2m-1 0h2m-1 0h2m-1 0h2m6 0h2m0 0h2m-1 0h2m-84 1h2m61 0h2m0 0h2m-1 0h2m-1 0h2m0 0h2m1 0h2m-1 0h2m-13 1h2m-1 0h2m-1 0h2m-1 0h2m-1 0h2m0 0h2m0 0h2m4 0h2m6 0h2m31 0h2m-164 1h2m18 0h2m3 0h2m6 0h2m5 0h2m1 0h2m1 0h2m61 0h2m0 0h2m1 0h2m0 0h2m1 0h2m2 0h2m1 0h2m-93 1h2m-1 0h2m1 0h2m2 0h2m62 0h2m0 0h2m2 0h2m-1 0h2m0 0h2m3 0h2m30 0h2m2 0h2m-155 1h2m20 0h2m3 0h2m74 0h2m8 0h2m4 0h2m0 0h2m1 0h2m4 0h2m-139 1h2m20 0h2m7 0h2m8 0h2m1 0h2m62 0h2m1 0h2m-1 0h2m1 0h2m6 0h2m4 0h2m0 0h2m-96 1h2m-1 0h2m4 0h2m5 0h2m0 0h2m53 0h2m-1 0h2m-1 0h2m0 0h2m20 0h2m0 0h2m-128 1h2m22 0h2m-1 0h2m2 0h2m11 0h2m54 0h2m-1 0h2m2 0h2m0 0h2m-1 0h2m1 0h2m5 0h2m-114 1h2m2 0h2m23 0h2m0 0h2m1 0h2m-1 0h2m-1 0h2m0 0h2m-1 0h2m54 0h2m-1 0h2m-1 0h2m2 0h2m1 0h2m0 0h2m5 0h2m-101 1h2m76 0h2m3 0h2m-1 0h2m15 0h2m13 0h2m-107 1h2m65 0h2m1 0h2m-1 0h2m-1 0h2m-1 0h2m1 0h2m-1 0h2m3 0h2m1 0h2m16 0h2m-105 1h2m2 0h2m7 0h2m-1 0h2m50 0h2m0 0h2m-1 0h2m0 0h2m8 0h2m2 0h2m-1 0h2m5 0h2m-82 1h2m51 0h2m-1 0h2m-1 0h2m-1 0h2m1 0h2m-1 0h2m6 0h2m6 0h2m-81 1h2m53 0h2m1 0h2m0 0h2m0 0h2m1 0h2m8 0h2m1 0h2m12 0h2m-110 1h2m18 0h2m49 0h2m-1 0h2m1 0h2m0 0h2m0 0h2m12 0h2m1 0h2m-1 0h2m-85 1h2m4 0h2m52 0h2m4 0h2m7 0h2m0 0h2m-1 0h2m-88 1h2m14 0h2m46 0h2m0 0h2m-1 0h2m5 0h2m0 0h2m7 0h2m21 0h2m-147 1h2m11 0h2m33 0h2m5 0h2m43 0h2m-1 0h2m3 0h2m1 0h2m3 0h2m-1 0h2m3 0h2m-101 1h2m31 0h2m44 0h2m-1 0h2m-1 0h2m-1 0h2m1 0h2m3 0h2m-1 0h2m23 0h2m-94 1h2m52 0h2m-1 0h2m-1 0h2m0 0h2m0 0h2m3 0h2m3 0h2m2 0h2m-102 1h2m96 0h2m-1 0h2m1 0h2m-114 1h2m25 0h2m4 0h2m1 0h2m6 0h2m42 0h2m0 0h2m5 0h2m0 0h2m1 0h2m4 0h2m1 0h2m8 0h2m-87 1h2m3 0h2m47 0h2m-1 0h2m-1 0h2m10 0h2m0 0h2m0 0h2m2 0h2m2 0h2m2 0h2m-127 1h2m30 0h2m59 0h2m-1 0h2m-1 0h2m0 0h2m2 0h2m1 0h2m12 0h2m-119 1h2m50 0h2m36 0h2m3 0h2m-1 0h2m6 0h2m2 0h2m1 0h2m11 0h2m-84 1h2m1 0h2m0 0h2m0 0h2m1 0h2m36 0h2m0 0h2m1 0h2m22 0h2m-120 1h2m8 0h2m24 0h2m4 0h2m9 0h2m33 0h2m0 0h2m-1 0h2m1 0h2m24 0h2m-108 1h2m39 0h2m30 0h2m-1 0h2m-1 0h2m18 0h2m1 0h2m0 0h2m-116 1h2m45 0h2m1 0h2m0 0h2m35 0h2m2 0h2m-1 0h2m0 0h2m4 0h2m0 0h2m-97 1h2m44 0h2m30 0h2m-1 0h2m0 0h2m-1 0h2m4 0h2m-46 1h2m33 0h2m4 0h2m0 0h2m0 0h2m0 0h2m-1 0h2m11 0h2m14 0h2m-75 1h2m-1 0h2m36 0h2m2 0h2m-1 0h2m1 0h2m-1 0h2m8 0h2m13 0h2m-128 1h2m-1 0h2m0 0h2m20 0h2m23 0h2m33 0h2m1 0h2m6 0h2m10 0h2m8 0h2m7 0h2m-125 1h2m1 0h2m20 0h2m16 0h2m2 0h2m27 0h2m1 0h2m-1 0h2m-1 0h2m-1 0h2m0 0h2m0 0h2m5 0h2m8 0h2m6 0h2m4 0h2m-113 1h2m40 0h2m24 0h2m5 0h2m1 0h2m-1 0h2m-1 0h2m4 0h2m2 0h2m0 0h2m-99 1h2m40 0h2m3 0h2m1 0h2m-1 0h2m-1 0h2m23 0h2m0 0h2m0 0h2m15 0h2m2 0h2m53 0h2m-161 1h2m46 0h2m25 0h2m0 0h2m1 0h2m2 0h2m2 0h2m21 0h2m-101 1h2m30 0h2m41 0h2m2 0h2m0 0h2m5 0h2m1 0h2m-119 1h2m67 0h2m18 0h2m-1 0h2m22 0h2m13 0h2m-86 1h2m8 0h2m27 0h2m19 0h2m-1 0h2m11 0h2m-1 0h2m-52 1h2m0 0h2m-1 0h2m8 0h2m-1 0h2m-1 0h2m5 0h2m-1 0h2m29 0h2m3 0h2m-88 1h2m17 0h2m-1 0h2m9 0h2m-1 0h2m9 0h2m-1 0h2m0 0h2m20 0h2m1 0h2m-68 1h2m26 0h2m0 0h2m1 0h2m0 0h2m-1 0h2m0 0h2m7 0h2m2 0h2m0 0h2m2 0h2m0 0h2m1 0h2m31 0h2m-1 0h2m-146 1h2m21 0h2m17 0h2m27 0h2m2 0h2m2 0h2m-1 0h2m-1 0h2m24 0h2m1 0h2m13 0h2m-54 1h2m2 0h2m5 0h2m-1 0h2m0 0h2m1 0h2m-1 0h2m-1 0h2m1 0h2m1 0h2m10 0h2m7 0h2m-106 1h2m29 0h2m24 0h2m2 0h2m8 0h2m0 0h2m15 0h2m16 0h2m7 0h2m-56 1h2m3 0h2m-1 0h2m-1 0h2m-1 0h2m1 0h2m-1 0h2m5 0h2m5 0h2m2 0h2m8 0h2m-16 1h2m8 0h2m-65 1h2m55 0h2m-94 1h2m1 0h2m44 0h2m4 0h2m27 0h2m19 0h2m6 0h2m-61 1h2m8 0h2m-1 0h2m11 0h2m46 0h2m-102 1h2m12 0h2m20 0h2m-1 0h2m6 0h2m-1 0h2m-6 1h2m14 0h2m1 0h2m-100 1h2m33 0h2m18 0h2m3 0h2m2 0h2m4 0h2m8 0h2m3 0h2m10 0h2m-65 1h2m33 0h2m6 0h2m5 0h2m2 0h2m5 0h2m0 0h2m14 0h2m-80 1h2m24 0h2m19 0h2m34 0h2m-95 1h2m20 0h2m11 0h2m0 0h2m10 0h2m-1 0h2m-1 0h2m-1 0h2m0 0h2m2 0h2m-1 0h2m0 0h2m13 0h2m4 0h2m-53 1h2m8 0h2m16 0h2m-1 0h2m-1 0h2m1 0h2m-1 0h2m-1 0h2m4 0h2m-1 0h2m2 0h2m16 0h2m-67 1h2m-1 0h2m3 0h2m1 0h2m18 0h2m1 0h2m11 0h2m-1 0h2m-45 1h2m31 0h2m2 0h2m5 0h2m0 0h2m2 0h2m12 0h2m-66 1h2m28 0h2m9 0h2m-43 1h2m34 0h2m2 0h2m0 0h2m-1 0h2m9 0h2m1 0h2m-26 1h2m6 0h2m2 0h2m-81 1h2m0 0h2m27 0h2m37 0h2m21 0h2m-1 0h2m-72 1h2m46 0h2m-97 1h2m10 0h2m79 0h2m5 0h2m0 0h2m1 0h2" stroke="#3a47a2" stroke-width="2" fill="none"/>
<path d="M1544.0 356.5L1542.5 355.0L1540.9 353.3L1539.5 351.6L1538.0 349.8L1536.6 347.9L1535.2 346.0L1533.9 344.0L1532.6 341.8L1531.4 339.7L1530.2 337.5L1529.1 335.2L1528.1 333.0L1527.1 330.8L1526.2 328.5L1525.4 326.2L1524.6 324.0L1524.0 321.6L1523.4 319.3L1522.8 317.0L1522.4 314.7L1522.0 312.4L1521.7 310.1L1521.5 307.8L1521.3 305.5L1521.3 303.1L1521.2 300.9L1521.3 298.6L1521.3 296.4L1521.4 294.2L1521.6 292.1L1521.8 290.0L1522.1 288.0L1522.4 285.9L1522.8 283.9L1523.3 282.0L1523.8 280.0L1524.4 278.1L1525.1 276.2L1525.9 274.3L1526.8 272.4L1527.7 270.5L1528.7 268.7L1529.6 266.9L1530.6 265.2L1531.6 263.5L1532.7 261.8L1533.7 260.2L1534.8 258.6L1535.8 257.0L1536.9 255.5L1538.0 254.1L1539.1 252.7L1540.2 251.4L1541.2 250.2L1542.3 249.0L1543.4 247.8L1544.5 246.8L1545.6 245.7L1546.8 244.8L1548.0 243.9L1549.2 243.0L1550.5 242.2L1551.8 241.5L1553.2 240.8L1554.5 240.2L1555.9 239.6L1557.3 239.0L1558.7 238.4L1560.1 237.9L1561.5 237.3L1562.9 236.8L1564.3 236.3L1565.7 235.9L1567.1 235.2L1568.6 234.4L1570.1 233.4L1571.7 232.2L1573.3 230.9L1574.9 229.4L1576.5 227.7L1578.2 225.9L1579.9 224.2L1581.5 222.8L1583.0 221.5L1584.5 220.5L1585.9 219.6L1587.2 219.0L1588.5 218.6L1589.7 218.3L1590.9 218.2L1591.9 218.1L1592.9 218.2L1593.9 218.3L1594.7 218.6L1595.5 218.9L1596.2 219.4L1596.8 219.9L1597.4 220.6L1597.9 221.4L1598.4 222.3L1598.8 223.3L1599.2 224.5L1599.6 225.8L1599.9 227.2L1600.1 228.8L1600.4 230.2L1600.7 231.5L1601.1 232.6L1601.5 233.6L1601.9 234.5L1602.4 235.3L1602.9 235.9L1603.4 236.3L1604.1 236.8L1605.0 237.1L1606.1 237.4L1607.4 237.6L1608.9 237.8L1610.5 237.9L1612.3 238.0L1614.4 238.0L1616.3 238.1L1618.1 238.3L1619.8 238.7L1621.5 239.2L1623.0 239.7L1624.4 240.4L1625.8 241.2L1627.0 242.2L1628.1 243.2L1628.9 244.3L1629.6 245.5L1630.1 246.8L1630.3 248.2L1630.4 249.7L1630.3 251.4L1630.0 253.0L1629.6 254.8L1629.1 256.6L1628.6 258.5L1628.0 260.4L1627.3 262.4L1626.5 264.5L1625.6 266.6L1624.7 268.8L1623.7 270.9L1622.8 273.1L1621.9 275.2L1620.9 277.3L1620.0 279.4L1619.1 281.4L1618.2 283.4L1617.2 285.5L1616.3 287.3L1615.4 288.9L1614.5 290.3L1613.5 291.6L1612.6 292.6L1611.7 293.5L1610.8 294.1L1609.8 294.6L1609.0 294.9L1608.2 295.2L1607.4 295.4L1606.7 295.5L1606.1 295.5L1605.5 295.4L1604.9 295.2L1604.5 294.8L1603.9 294.6L1603.3 294.5L1602.7 294.4L1602.0 294.4L1601.2 294.5L1600.4 294.6L1599.6 294.8L1598.6 295.2L1597.7 295.6L1596.8 296.2L1595.9 296.9L1594.9 297.7L1594.0 298.7L1593.1 299.8L1592.2 301.1L1591.2 302.5L1590.3 304.0L1589.3 305.5L1588.3 307.2L1587.3 308.9L1586.3 310.6L1585.3 312.5L1584.2 314.4L1583.1 316.5L1582.0 318.5L1580.9 320.5L1579.7 322.6L1578.6 324.7L1577.4 326.8L1576.2 329.0L1575.0 331.1L1573.7 333.3L1572.5 335.4L1571.3 337.5L1570.0 339.6L1568.8 341.6L1567.5 343.6L1566.3 345.5L1565.0 347.4L1563.8 349.3L1562.5 351.0L1561.3 352.6L1560.0 354.1L1558.8 355.4L1557.5 356.6L1556.3 357.6L1555.1 358.5L1553.8 359.3L1552.6 359.8L1551.2 360.0L1549.9 359.9L1548.5 359.5L1547.0 358.8L1545.6 357.8ZM1604.7 224.5L1604.7 221.7L1604.8 219.1L1604.9 216.6L1605.2 214.2L1605.5 212.0L1605.9 210.0L1606.4 208.1L1607.0 206.3L1607.7 204.7L1608.4 203.1L1609.2 201.5L1610.1 200.0L1611.1 198.5L1612.1 197.0L1613.2 195.6L1614.4 194.2L1615.6 192.8L1616.9 191.5L1618.3 190.2L1619.7 189.0L1621.1 187.8L1622.6 186.6L1624.1 185.5L1625.7 184.5L1627.3 183.5L1628.9 182.6L1630.6 181.7L1632.2 180.9L1633.8 180.1L1635.4 179.4L1637.1 178.8L1638.7 178.2L1640.3 177.8L1641.9 177.3L1643.5 177.0L1645.0 176.7L1646.5 176.5L1648.0 176.3L1649.4 176.2L1650.8 176.2L1652.2 176.3L1653.5 176.4L1654.7 176.6L1655.8 176.9L1656.8 177.3L1657.8 177.8L1658.6 178.3L1659.4 178.9L1660.1 179.6L1660.7 180.4L1661.1 181.3L1661.5 182.3L1661.7 183.4L1661.8 184.6L1661.8 185.9L1661.6 187.2L1661.4 188.8L1661.1 190.3L1660.7 191.8L1660.2 193.4L1659.7 195.1L1659.1 196.7L1658.4 198.4L1657.7 200.1L1656.8 201.9L1656.0 203.6L1655.2 205.4L1654.4 207.1L1653.5 208.9L1652.7 210.6L1651.8 212.4L1650.9 214.1L1650.1 215.9L1649.2 217.6L1648.4 219.3L1647.5 221.0L1646.7 222.6L1645.9 224.2L1645.1 225.8L1644.4 227.3L1643.6 228.9L1642.4 230.2L1640.7 231.3L1638.5 232.3L1635.9 233.1L1632.8 233.6L1629.2 234.0L1625.1 234.2L1620.6 234.2L1616.6 233.9L1613.2 233.2L1610.4 232.1L1608.1 230.7L1606.4 229.0L1605.3 226.9ZM1541.4 350.6L1539.1 347.9L1537.0 345.1L1535.1 342.3L1533.4 339.5L1531.8 336.6L1530.5 333.6L1529.4 330.6L1528.5 327.6L1527.8 324.4L1527.2 321.4L1526.7 318.3L1526.3 315.2L1525.9 312.1L1525.7 308.9L1525.6 305.9L1525.6 302.8L1525.7 299.7L1525.8 296.6L1526.1 293.7L1526.4 290.9L1526.7 288.2L1527.1 285.6L1527.6 283.1L1528.2 280.7L1528.8 278.3L1529.5 276.1L1530.3 273.9L1531.3 271.8L1532.3 269.8L1533.4 267.9L1534.6 266.0L1535.9 264.2L1537.2 262.5L1538.7 260.9L1540.1 259.4L1541.5 258.0L1543.0 256.7L1544.5 255.5L1546.0 254.4L1547.5 253.3L1549.1 252.4L1550.7 251.5L1552.3 250.7L1554.1 250.0L1555.9 249.4L1557.7 248.9L1559.6 248.4L1561.5 248.0L1563.6 247.7L1565.6 247.4L1567.6 247.2L1569.6 247.0L1571.6 246.8L1573.6 246.7L1575.6 246.6L1577.6 246.6L1579.7 246.6L1581.6 246.7L1583.4 246.8L1585.1 247.0L1586.6 247.2L1588.1 247.5L1589.5 247.8L1590.8 248.3L1591.9 248.7L1593.0 249.3L1593.9 250.0L1594.7 250.8L1595.3 251.8L1595.9 252.8L1596.3 254.0L1596.6 255.3L1596.7 256.6L1596.8 258.1L1596.8 259.8L1596.7 261.5L1596.5 263.4L1596.2 265.3L1595.8 267.4L1595.4 269.6L1594.8 272.0L1594.2 274.3L1593.5 276.7L1592.8 279.2L1592.0 281.7L1591.1 284.2L1590.1 286.7L1589.1 289.3L1588.0 292.0L1586.9 294.6L1585.8 297.2L1584.6 299.8L1583.5 302.3L1582.3 304.9L1581.1 307.4L1579.9 309.9L1578.6 312.3L1577.4 314.9L1576.1 317.4L1574.8 320.0L1573.5 322.6L1572.2 325.3L1570.8 328.0L1569.4 330.8L1568.1 333.6L1566.6 336.3L1565.2 338.9L1563.7 341.5L1562.1 343.9L1560.5 346.3L1558.9 348.5L1557.2 350.7L1555.5 352.8L1553.7 354.3L1551.8 355.2L1549.9 355.5L1547.9 355.1L1545.8 354.2L1543.6 352.7ZM1543.1 343.9L1541.0 341.5L1539.1 339.0L1537.4 336.5L1535.9 333.9L1534.5 331.3L1533.3 328.6L1532.3 325.9L1531.5 323.2L1530.9 320.4L1530.3 317.6L1529.9 314.8L1529.5 312.0L1529.2 309.2L1529.0 306.5L1528.9 303.7L1528.9 300.9L1529.0 298.1L1529.1 295.4L1529.3 292.8L1529.6 290.2L1529.9 287.8L1530.3 285.4L1530.7 283.2L1531.2 281.0L1531.8 278.9L1532.4 276.9L1533.2 274.9L1534.0 273.0L1534.9 271.2L1535.9 269.5L1537.0 267.8L1538.1 266.2L1539.4 264.7L1540.6 263.3L1541.9 261.9L1543.2 260.6L1544.5 259.4L1545.9 258.3L1547.2 257.3L1548.6 256.4L1550.0 255.5L1551.5 254.8L1553.0 254.1L1554.5 253.4L1556.1 252.9L1557.8 252.4L1559.5 252.0L1561.2 251.6L1563.1 251.3L1564.9 251.1L1566.7 250.9L1568.5 250.7L1570.3 250.6L1572.1 250.4L1573.9 250.4L1575.7 250.3L1577.5 250.3L1579.3 250.4L1580.9 250.5L1582.4 250.7L1583.8 250.9L1585.2 251.1L1586.4 251.5L1587.5 251.8L1588.6 252.3L1589.5 252.8L1590.3 253.4L1591.1 254.2L1591.6 255.0L1592.1 255.9L1592.5 257.0L1592.8 258.1L1592.9 259.4L1593.0 260.7L1593.0 262.2L1592.9 263.8L1592.7 265.4L1592.4 267.2L1592.1 269.1L1591.7 271.1L1591.2 273.2L1590.6 275.3L1590.0 277.5L1589.3 279.7L1588.6 281.9L1587.8 284.2L1587.0 286.5L1586.0 288.8L1585.1 291.2L1584.1 293.5L1583.0 295.9L1582.0 298.2L1581.0 300.5L1579.9 302.8L1578.8 305.0L1577.7 307.3L1576.6 309.5L1575.5 311.8L1574.3 314.1L1573.2 316.4L1572.0 318.8L1570.8 321.2L1569.6 323.6L1568.3 326.1L1567.1 328.6L1565.8 331.1L1564.5 333.4L1563.1 335.7L1561.7 337.9L1560.3 340.0L1558.8 342.1L1557.3 344.0L1555.8 345.9L1554.2 347.3L1552.5 348.1L1550.8 348.3L1549.0 348.0L1547.1 347.2L1545.1 345.8ZM1544.8 337.3L1543.0 335.1L1541.3 332.9L1539.8 330.7L1538.4 328.4L1537.2 326.0L1536.1 323.7L1535.2 321.3L1534.5 318.8L1533.9 316.4L1533.4 313.9L1533.0 311.4L1532.7 308.9L1532.5 306.4L1532.3 304.0L1532.2 301.5L1532.2 299.0L1532.3 296.5L1532.4 294.1L1532.6 291.8L1532.8 289.5L1533.1 287.4L1533.4 285.3L1533.8 283.3L1534.2 281.3L1534.8 279.5L1535.3 277.7L1536.0 275.9L1536.7 274.3L1537.5 272.7L1538.4 271.1L1539.4 269.6L1540.4 268.2L1541.5 266.8L1542.6 265.6L1543.8 264.3L1544.9 263.2L1546.1 262.2L1547.3 261.2L1548.5 260.3L1549.7 259.5L1551.0 258.7L1552.2 258.0L1553.6 257.4L1555.0 256.8L1556.4 256.3L1557.9 255.9L1559.4 255.5L1560.9 255.2L1562.5 255.0L1564.2 254.7L1565.8 254.5L1567.4 254.4L1569.0 254.3L1570.6 254.2L1572.2 254.1L1573.8 254.1L1575.4 254.1L1577.0 254.1L1578.4 254.2L1579.7 254.4L1581.0 254.6L1582.2 254.8L1583.3 255.1L1584.3 255.4L1585.2 255.8L1586.1 256.3L1586.8 256.8L1587.4 257.5L1588.0 258.2L1588.4 259.1L1588.7 260.0L1589.0 261.0L1589.1 262.1L1589.1 263.3L1589.1 264.6L1589.0 266.0L1588.9 267.5L1588.7 269.1L1588.4 270.7L1588.0 272.5L1587.6 274.4L1587.1 276.3L1586.5 278.2L1585.9 280.1L1585.3 282.1L1584.6 284.1L1583.8 286.2L1583.0 288.3L1582.1 290.4L1581.2 292.5L1580.3 294.5L1579.4 296.6L1578.5 298.7L1577.5 300.7L1576.6 302.7L1575.6 304.7L1574.6 306.7L1573.6 308.7L1572.6 310.7L1571.5 312.8L1570.5 314.9L1569.4 317.1L1568.3 319.2L1567.3 321.4L1566.1 323.7L1565.0 325.8L1563.8 327.9L1562.6 330.0L1561.4 331.9L1560.1 333.8L1558.8 335.6L1557.5 337.4L1556.1 339.0L1554.7 340.2L1553.2 340.9L1551.6 341.2L1550.0 340.9L1548.3 340.2L1546.6 339.0ZM1546.7 330.0L1545.1 328.1L1543.7 326.2L1542.3 324.2L1541.2 322.3L1540.1 320.3L1539.2 318.2L1538.4 316.2L1537.8 314.0L1537.3 311.9L1536.9 309.8L1536.5 307.6L1536.3 305.5L1536.0 303.4L1535.9 301.2L1535.8 299.1L1535.8 296.9L1535.9 294.8L1536.0 292.7L1536.1 290.7L1536.3 288.8L1536.6 286.9L1536.9 285.1L1537.2 283.4L1537.6 281.7L1538.0 280.1L1538.5 278.5L1539.1 277.0L1539.7 275.6L1540.4 274.2L1541.2 272.9L1542.0 271.6L1542.9 270.4L1543.8 269.2L1544.8 268.1L1545.8 267.1L1546.8 266.1L1547.8 265.2L1548.8 264.3L1549.9 263.5L1550.9 262.8L1552.0 262.2L1553.1 261.6L1554.3 261.1L1555.4 260.6L1556.7 260.1L1557.9 259.8L1559.3 259.4L1560.6 259.2L1562.0 258.9L1563.4 258.8L1564.8 258.6L1566.2 258.5L1567.5 258.4L1568.9 258.3L1570.3 258.2L1571.7 258.2L1573.1 258.2L1574.4 258.2L1575.7 258.3L1576.8 258.4L1577.9 258.6L1578.9 258.8L1579.9 259.1L1580.8 259.3L1581.6 259.7L1582.3 260.1L1582.9 260.6L1583.5 261.1L1583.9 261.8L1584.3 262.5L1584.6 263.3L1584.8 264.2L1584.9 265.1L1584.9 266.2L1584.9 267.3L1584.8 268.5L1584.7 269.8L1584.5 271.1L1584.3 272.6L1583.9 274.1L1583.6 275.7L1583.1 277.3L1582.7 279.0L1582.1 280.7L1581.6 282.4L1581.0 284.1L1580.3 285.9L1579.6 287.7L1578.9 289.5L1578.1 291.3L1577.3 293.1L1576.5 294.9L1575.7 296.6L1574.9 298.4L1574.1 300.1L1573.2 301.8L1572.4 303.6L1571.5 305.3L1570.6 307.1L1569.8 308.8L1568.8 310.7L1567.9 312.5L1567.0 314.4L1566.1 316.3L1565.1 318.2L1564.1 320.1L1563.1 321.9L1562.1 323.7L1561.0 325.3L1559.9 327.0L1558.8 328.5L1557.6 330.0L1556.4 331.5L1555.2 332.5L1553.9 333.1L1552.6 333.3L1551.2 333.1L1549.7 332.5L1548.2 331.4ZM1548.8 322.0L1547.4 320.4L1546.2 318.8L1545.1 317.2L1544.2 315.6L1543.3 314.0L1542.6 312.3L1541.9 310.6L1541.4 308.8L1541.0 307.1L1540.6 305.3L1540.4 303.5L1540.1 301.8L1539.9 300.0L1539.8 298.2L1539.8 296.5L1539.8 294.7L1539.8 292.9L1539.9 291.2L1540.0 289.6L1540.2 288.0L1540.4 286.4L1540.6 284.9L1540.9 283.5L1541.2 282.1L1541.6 280.8L1542.0 279.5L1542.5 278.3L1543.0 277.1L1543.5 275.9L1544.2 274.8L1544.9 273.8L1545.6 272.7L1546.4 271.8L1547.2 270.9L1548.0 270.0L1548.8 269.2L1549.7 268.4L1550.5 267.7L1551.4 267.1L1552.2 266.5L1553.1 266.0L1554.0 265.5L1555.0 265.0L1556.0 264.6L1557.0 264.3L1558.0 264.0L1559.1 263.7L1560.2 263.5L1561.4 263.3L1562.5 263.1L1563.7 263.0L1564.8 262.9L1566.0 262.8L1567.1 262.7L1568.3 262.7L1569.4 262.7L1570.6 262.7L1571.6 262.7L1572.7 262.8L1573.6 262.9L1574.5 263.0L1575.4 263.2L1576.2 263.4L1576.9 263.6L1577.6 263.9L1578.1 264.2L1578.7 264.6L1579.1 265.1L1579.5 265.6L1579.8 266.2L1580.0 266.9L1580.2 267.6L1580.3 268.4L1580.3 269.3L1580.3 270.2L1580.3 271.2L1580.2 272.2L1580.0 273.4L1579.8 274.6L1579.5 275.8L1579.2 277.1L1578.9 278.5L1578.5 279.9L1578.0 281.2L1577.6 282.7L1577.1 284.1L1576.5 285.6L1575.9 287.0L1575.3 288.5L1574.7 290.0L1574.0 291.5L1573.4 293.0L1572.7 294.4L1572.1 295.9L1571.4 297.3L1570.7 298.7L1570.0 300.2L1569.3 301.6L1568.5 303.0L1567.8 304.5L1567.0 306.0L1566.3 307.6L1565.5 309.1L1564.7 310.7L1563.9 312.3L1563.1 313.8L1562.3 315.3L1561.4 316.8L1560.6 318.1L1559.6 319.5L1558.7 320.8L1557.8 322.0L1556.8 323.2L1555.8 324.1L1554.7 324.6L1553.6 324.7L1552.5 324.6L1551.3 324.0L1550.0 323.2ZM1550.8 314.0L1549.8 312.8L1548.8 311.5L1548.0 310.2L1547.2 309.0L1546.5 307.7L1545.9 306.3L1545.4 305.0L1545.0 303.6L1544.7 302.2L1544.4 300.8L1544.2 299.4L1544.0 298.0L1543.8 296.6L1543.8 295.2L1543.7 293.8L1543.7 292.4L1543.7 291.0L1543.8 289.7L1543.9 288.4L1544.0 287.1L1544.2 285.9L1544.4 284.7L1544.6 283.6L1544.9 282.5L1545.1 281.5L1545.5 280.4L1545.8 279.5L1546.2 278.5L1546.7 277.6L1547.2 276.7L1547.7 275.9L1548.3 275.1L1548.9 274.3L1549.6 273.6L1550.2 272.9L1550.9 272.3L1551.5 271.7L1552.2 271.2L1552.9 270.7L1553.6 270.2L1554.3 269.8L1555.0 269.4L1555.7 269.0L1556.5 268.7L1557.3 268.4L1558.1 268.2L1559.0 268.0L1559.9 267.8L1560.8 267.7L1561.7 267.5L1562.6 267.4L1563.5 267.3L1564.4 267.3L1565.3 267.2L1566.2 267.2L1567.1 267.2L1568.0 267.2L1568.9 267.2L1569.7 267.3L1570.5 267.3L1571.2 267.4L1571.8 267.6L1572.5 267.7L1573.0 267.9L1573.5 268.1L1574.0 268.4L1574.4 268.7L1574.8 269.1L1575.1 269.5L1575.3 270.0L1575.5 270.5L1575.6 271.1L1575.7 271.7L1575.7 272.4L1575.7 273.1L1575.7 273.9L1575.6 274.7L1575.5 275.6L1575.3 276.5L1575.1 277.5L1574.8 278.6L1574.6 279.6L1574.3 280.7L1573.9 281.8L1573.6 282.9L1573.2 284.1L1572.7 285.2L1572.3 286.4L1571.8 287.6L1571.3 288.8L1570.8 289.9L1570.3 291.1L1569.7 292.2L1569.2 293.4L1568.7 294.5L1568.1 295.6L1567.6 296.8L1567.0 297.9L1566.4 299.0L1565.8 300.2L1565.2 301.4L1564.6 302.6L1564.0 303.8L1563.4 305.1L1562.8 306.3L1562.2 307.5L1561.5 308.7L1560.8 309.9L1560.1 311.0L1559.4 312.0L1558.7 313.0L1557.9 314.0L1557.1 315.0L1556.3 315.6L1555.5 316.0L1554.6 316.2L1553.7 316.0L1552.8 315.6L1551.8 314.9ZM1552.9 306.0L1552.1 305.1L1551.4 304.2L1550.8 303.2L1550.2 302.3L1549.7 301.3L1549.3 300.4L1548.9 299.4L1548.6 298.4L1548.4 297.3L1548.2 296.3L1548.0 295.3L1547.9 294.3L1547.8 293.3L1547.7 292.2L1547.6 291.2L1547.6 290.2L1547.7 289.2L1547.7 288.2L1547.8 287.2L1547.9 286.3L1548.0 285.4L1548.2 284.5L1548.3 283.7L1548.5 282.9L1548.7 282.1L1548.9 281.4L1549.2 280.7L1549.5 280.0L1549.8 279.3L1550.2 278.7L1550.6 278.1L1551.0 277.5L1551.5 276.9L1552.0 276.4L1552.4 275.9L1552.9 275.4L1553.4 275.0L1553.9 274.6L1554.4 274.2L1554.9 273.9L1555.4 273.6L1555.9 273.3L1556.5 273.0L1557.0 272.8L1557.6 272.6L1558.2 272.4L1558.9 272.3L1559.5 272.1L1560.2 272.0L1560.8 271.9L1561.5 271.9L1562.2 271.8L1562.8 271.7L1563.5 271.7L1564.2 271.7L1564.8 271.7L1565.5 271.7L1566.1 271.7L1566.7 271.7L1567.3 271.8L1567.8 271.9L1568.3 272.0L1568.7 272.1L1569.1 272.2L1569.5 272.4L1569.9 272.6L1570.2 272.8L1570.4 273.1L1570.7 273.4L1570.8 273.7L1571.0 274.1L1571.1 274.5L1571.1 275.0L1571.1 275.5L1571.1 276.0L1571.1 276.6L1571.0 277.2L1570.9 277.8L1570.8 278.5L1570.7 279.3L1570.5 280.0L1570.3 280.8L1570.1 281.6L1569.8 282.4L1569.5 283.2L1569.2 284.1L1568.9 284.9L1568.6 285.8L1568.2 286.6L1567.9 287.5L1567.5 288.4L1567.1 289.2L1566.7 290.0L1566.3 290.9L1566.0 291.7L1565.6 292.5L1565.1 293.4L1564.7 294.2L1564.3 295.0L1563.9 295.9L1563.4 296.8L1563.0 297.6L1562.6 298.5L1562.1 299.4L1561.7 300.4L1561.2 301.3L1560.7 302.1L1560.2 303.0L1559.7 303.8L1559.2 304.5L1558.6 305.3L1558.1 306.0L1557.5 306.7L1556.9 307.2L1556.3 307.5L1555.7 307.6L1555.0 307.5L1554.3 307.2L1553.6 306.7ZM1612.0 240.0L1614.0 240.0L1615.9 240.1L1617.6 240.3L1619.3 240.6L1620.8 240.9L1622.2 241.4L1623.5 242.0L1624.7 242.6L1625.8 243.4L1626.7 244.2L1627.4 245.2L1627.9 246.3L1628.3 247.5L1628.5 248.8L1628.5 250.2L1628.4 251.7L1628.1 253.3L1627.7 255.0L1627.3 256.8L1626.7 258.6L1626.1 260.4L1625.5 262.4L1624.7 264.4L1623.9 266.4L1623.1 268.6L1622.2 270.6L1621.3 272.7L1620.4 274.7L1619.6 276.7L1618.7 278.6L1617.8 280.5L1616.9 282.3L1616.1 284.2L1615.2 285.8L1614.4 287.2L1613.5 288.5L1612.7 289.5L1611.9 290.4L1611.1 291.1L1610.4 291.6L1609.6 291.9L1608.9 292.1L1608.3 292.0L1607.7 291.9L1607.2 291.5L1606.7 291.0L1606.3 290.3L1605.9 289.5L1605.6 288.5L1605.3 287.1L1605.1 285.2L1604.9 283.0L1604.7 280.3L1604.6 277.2L1604.5 273.6L1604.5 269.7L1604.5 265.3L1604.5 261.3L1604.5 257.7L1604.5 254.5L1604.6 251.7L1604.6 249.3L1604.7 247.3L1604.7 245.6L1604.8 244.4L1605.1 243.3L1605.6 242.3L1606.4 241.6L1607.5 240.9L1608.7 240.5L1610.2 240.2ZM1577.2 228.2L1578.8 226.5L1580.3 225.0L1581.8 223.7L1583.2 222.5L1584.6 221.5L1585.9 220.6L1587.2 220.0L1588.5 219.5L1589.7 219.1L1590.9 218.9L1591.9 218.8L1592.9 218.9L1593.9 219.0L1594.7 219.3L1595.5 219.7L1596.2 220.2L1596.8 220.8L1597.4 221.5L1597.9 222.4L1598.4 223.3L1598.8 224.3L1599.1 225.4L1599.4 226.6L1599.6 227.9L1599.8 229.3L1599.5 230.5L1598.7 231.6L1597.5 232.4L1595.8 233.1L1593.6 233.7L1591.0 234.0L1587.9 234.2L1584.3 234.2L1581.4 234.0L1579.1 233.6L1577.4 232.9L1576.4 232.1L1576.0 231.0L1576.3 229.7ZM1606.5 224.0L1606.5 221.5L1606.6 219.2L1606.7 217.0L1607.0 214.9L1607.3 212.9L1607.7 211.0L1608.1 209.2L1608.7 207.5L1609.3 206.0L1610.0 204.4L1610.8 202.9L1611.6 201.5L1612.5 200.0L1613.5 198.6L1614.5 197.2L1615.7 195.9L1616.8 194.6L1618.1 193.3L1619.4 192.1L1620.7 190.9L1622.1 189.8L1623.5 188.7L1625.0 187.7L1626.5 186.7L1628.0 185.8L1629.6 184.9L1631.2 184.1L1632.7 183.3L1634.3 182.6L1635.8 181.9L1637.4 181.3L1639.0 180.8L1640.5 180.2L1642.1 179.8L1643.5 179.5L1645.0 179.2L1646.4 179.0L1647.8 178.8L1649.1 178.7L1650.4 178.7L1651.6 178.8L1652.8 178.9L1653.9 179.1L1654.9 179.4L1655.8 179.7L1656.6 180.1L1657.3 180.6L1658.0 181.2L1658.5 181.8L1659.0 182.5L1659.4 183.3L1659.6 184.2L1659.8 185.2L1659.8 186.2L1659.8 187.4L1659.6 188.6L1659.4 189.9L1659.1 191.3L1658.7 192.6L1658.2 194.1L1657.8 195.5L1657.2 197.1L1656.6 198.6L1655.9 200.2L1655.1 201.8L1654.4 203.5L1653.6 205.1L1652.8 206.8L1652.0 208.5L1651.1 210.2L1650.3 211.9L1649.4 213.6L1648.6 215.4L1647.7 217.1L1646.9 218.7L1646.0 220.3L1645.2 221.9L1644.4 223.4L1643.6 224.9L1642.9 226.3L1642.1 227.7L1641.0 228.9L1639.4 229.9L1637.3 230.8L1634.9 231.5L1632.0 232.0L1628.8 232.3L1625.1 232.5L1620.9 232.5L1617.3 232.2L1614.2 231.6L1611.7 230.7L1609.6 229.5L1608.0 227.9L1607.0 226.1ZM1612.4 220.2L1612.4 218.4L1612.4 216.7L1612.6 215.0L1612.7 213.4L1613.0 211.9L1613.3 210.5L1613.6 209.2L1614.0 207.9L1614.5 206.7L1615.0 205.6L1615.6 204.5L1616.2 203.4L1616.9 202.3L1617.6 201.2L1618.4 200.2L1619.2 199.2L1620.1 198.2L1621.1 197.2L1622.0 196.3L1623.0 195.5L1624.0 194.6L1625.1 193.8L1626.2 193.0L1627.4 192.3L1628.5 191.6L1629.7 190.9L1630.9 190.3L1632.0 189.7L1633.2 189.2L1634.4 188.7L1635.6 188.2L1636.7 187.8L1637.9 187.4L1639.0 187.1L1640.2 186.8L1641.2 186.6L1642.3 186.5L1643.3 186.4L1644.3 186.3L1645.3 186.3L1646.2 186.3L1647.1 186.4L1647.9 186.6L1648.6 186.8L1649.3 187.1L1649.9 187.4L1650.5 187.7L1651.0 188.1L1651.4 188.6L1651.7 189.1L1652.0 189.7L1652.2 190.4L1652.3 191.1L1652.4 191.9L1652.3 192.8L1652.2 193.7L1652.0 194.7L1651.8 195.7L1651.5 196.7L1651.2 197.8L1650.8 198.9L1650.4 200.0L1649.9 201.2L1649.4 202.4L1648.8 203.6L1648.3 204.8L1647.7 206.1L1647.1 207.3L1646.5 208.6L1645.9 209.9L1645.2 211.2L1644.6 212.5L1643.9 213.8L1643.3 215.1L1642.6 216.3L1642.0 217.5L1641.4 218.7L1640.8 219.8L1640.2 220.9L1639.7 222.0L1639.1 223.0L1638.2 223.9L1637.0 224.7L1635.5 225.3L1633.7 225.9L1631.5 226.2L1629.1 226.5L1626.3 226.6L1623.2 226.6L1620.5 226.4L1618.2 225.9L1616.2 225.3L1614.7 224.3L1613.5 223.2L1612.8 221.8ZM1618.2 216.5L1618.2 215.3L1618.3 214.1L1618.4 213.0L1618.5 211.9L1618.6 210.9L1618.8 210.0L1619.1 209.1L1619.3 208.3L1619.7 207.5L1620.0 206.7L1620.4 206.0L1620.8 205.2L1621.3 204.5L1621.7 203.8L1622.3 203.1L1622.8 202.5L1623.4 201.8L1624.0 201.2L1624.7 200.6L1625.3 200.0L1626.0 199.4L1626.7 198.9L1627.5 198.4L1628.2 197.9L1629.0 197.4L1629.8 196.9L1630.6 196.5L1631.4 196.1L1632.1 195.8L1632.9 195.5L1633.7 195.2L1634.5 194.9L1635.3 194.6L1636.0 194.4L1636.8 194.2L1637.5 194.1L1638.2 194.0L1638.9 193.9L1639.5 193.9L1640.2 193.9L1640.8 193.9L1641.4 194.0L1641.9 194.1L1642.4 194.2L1642.9 194.4L1643.3 194.6L1643.7 194.8L1644.0 195.1L1644.3 195.4L1644.5 195.8L1644.7 196.2L1644.8 196.6L1644.9 197.1L1644.9 197.6L1644.9 198.2L1644.8 198.8L1644.7 199.5L1644.5 200.1L1644.3 200.8L1644.1 201.5L1643.9 202.3L1643.6 203.0L1643.3 203.8L1642.9 204.6L1642.6 205.4L1642.2 206.2L1641.8 207.1L1641.4 207.9L1641.0 208.7L1640.6 209.6L1640.1 210.4L1639.7 211.3L1639.3 212.2L1638.9 213.0L1638.4 213.9L1638.0 214.7L1637.6 215.5L1637.2 216.2L1636.8 216.9L1636.4 217.7L1636.1 218.3L1635.5 218.9L1634.7 219.5L1633.7 219.9L1632.5 220.2L1631.0 220.5L1629.4 220.7L1627.5 220.8L1625.5 220.8L1623.7 220.6L1622.1 220.3L1620.8 219.8L1619.8 219.2L1619.0 218.5L1618.5 217.6ZM1621.4 251.5L1621.2 253.1L1620.8 254.6L1620.0 256.0L1619.0 257.1L1617.8 258.0L1616.4 258.6L1615.0 258.9L1613.5 258.8L1612.1 258.4L1610.8 257.6L1609.7 256.6L1608.8 255.3L1608.2 253.9L1607.8 252.3L1607.8 250.7L1608.2 249.1L1608.8 247.7L1609.7 246.4L1610.8 245.4L1612.1 244.6L1613.5 244.2L1615.0 244.1L1616.4 244.4L1617.8 245.0L1619.0 245.9L1620.0 247.0L1620.8 248.4L1621.2 249.9L1621.4 251.5ZM1531.0 392.0L1531.1 390.6L1531.3 389.3L1531.6 387.9L1532.1 386.6L1532.7 385.3L1533.4 384.1L1534.3 382.9L1535.2 381.8L1536.3 380.7L1537.5 379.7L1538.7 378.8L1540.1 378.0L1541.5 377.3L1543.0 376.6L1544.6 376.1L1546.2 375.7L1547.8 375.3L1549.5 375.1L1551.2 375.0L1552.8 375.0L1554.5 375.1L1556.2 375.3L1557.8 375.7L1559.4 376.1L1561.0 376.6L1562.5 377.3L1563.9 378.0L1565.3 378.8L1566.5 379.7L1567.7 380.7L1568.8 381.8L1569.7 382.9L1570.6 384.1L1571.3 385.3L1571.9 386.6L1572.4 387.9L1572.7 389.3L1572.9 390.6L1573.0 392.0M1536.9 392.0L1536.9 391.0L1537.1 390.0L1537.3 389.1L1537.7 388.1L1538.1 387.2L1538.6 386.3L1539.2 385.5L1539.9 384.6L1540.7 383.9L1541.5 383.2L1542.4 382.5L1543.4 381.9L1544.4 381.4L1545.5 380.9L1546.6 380.6L1547.8 380.2L1549.0 380.0L1550.2 379.8L1551.4 379.8L1552.6 379.8L1553.8 379.8L1555.0 380.0L1556.2 380.2L1557.4 380.6L1558.5 380.9L1559.6 381.4L1560.6 381.9L1561.6 382.5L1562.5 383.2L1563.3 383.9L1564.1 384.6L1564.8 385.5L1565.4 386.3L1565.9 387.2L1566.3 388.1L1566.7 389.1L1566.9 390.0L1567.1 391.0L1567.1 392.0M1542.8 392.0L1542.8 391.4L1542.9 390.8L1543.0 390.2L1543.2 389.6L1543.5 389.1L1543.8 388.5L1544.2 388.0L1544.6 387.5L1545.1 387.0L1545.6 386.6L1546.2 386.2L1546.8 385.8L1547.4 385.5L1548.0 385.2L1548.7 385.0L1549.4 384.8L1550.2 384.7L1550.9 384.6L1551.6 384.5L1552.4 384.5L1553.1 384.6L1553.8 384.7L1554.6 384.8L1555.3 385.0L1556.0 385.2L1556.6 385.5L1557.2 385.8L1557.8 386.2L1558.4 386.6L1558.9 387.0L1559.4 387.5L1559.8 388.0L1560.2 388.5L1560.5 389.1L1560.8 389.6L1561.0 390.2L1561.1 390.8L1561.2 391.4L1561.2 392.0" stroke="#323a86" stroke-width="1.35" fill="none"/>
</g>
<rect x="1470.0" y="60.8" width="281.0" height="325.7" fill="none" stroke="#111" stroke-width="2"/>
<path d="M1602.0 60.8V386.5M1470.0 238.0L1751.0 235.3" stroke="#111" stroke-width="1.8" fill="none"/>
<path d="M1462.0 380.1H1470.0M1462.0 370.1H1470.0M1462.0 362.2H1470.0M1462.0 355.8H1470.0M1462.0 350.4H1470.0M1462.0 345.7H1470.0M1462.0 341.6H1470.0M1455.0 337.9H1470.0M1462.0 313.6H1470.0M1462.0 299.3H1470.0M1462.0 289.3H1470.0M1462.0 281.4H1470.0M1462.0 275.0H1470.0M1462.0 269.6H1470.0M1462.0 264.9H1470.0M1462.0 260.8H1470.0M1455.0 257.1H1470.0M1462.0 232.8H1470.0M1462.0 218.5H1470.0M1462.0 208.5H1470.0M1462.0 200.6H1470.0M1462.0 194.2H1470.0M1462.0 188.8H1470.0M1462.0 184.1H1470.0M1462.0 180.0H1470.0M1455.0 176.3H1470.0M1462.0 152.0H1470.0M1462.0 137.7H1470.0M1462.0 127.7H1470.0M1462.0 119.8H1470.0M1462.0 113.4H1470.0M1462.0 108.0H1470.0M1462.0 103.3H1470.0M1462.0 99.2H1470.0M1455.0 95.5H1470.0M1462.0 71.2H1470.0M1481.4 386.5V396.5M1488.2 386.5V396.5M1493.8 386.5V396.5M1498.5 386.5V396.5M1502.6 386.5V396.5M1506.3 386.5V396.5M1509.5 386.5V403.0M1530.8 386.5V396.5M1543.2 386.5V396.5M1552.1 386.5V396.5M1558.9 386.5V396.5M1564.5 386.5V396.5M1569.2 386.5V396.5M1573.3 386.5V396.5M1577.0 386.5V396.5M1580.2 386.5V403.0M1601.5 386.5V396.5M1613.9 386.5V396.5M1622.8 386.5V396.5M1629.6 386.5V396.5M1635.2 386.5V396.5M1639.9 386.5V396.5M1644.0 386.5V396.5M1647.7 386.5V396.5M1650.9 386.5V403.0M1672.2 386.5V396.5M1684.6 386.5V396.5M1693.5 386.5V396.5M1700.3 386.5V396.5M1705.9 386.5V396.5M1710.6 386.5V396.5M1714.7 386.5V396.5M1718.4 386.5V396.5M1721.6 386.5V403.0M1742.9 386.5V396.5" stroke="#111" stroke-width="2" fill="none"/>
<g transform="translate(1452.7 347.1) rotate(-90)">
<text x="-0.85" y="0.00" font-size="16.50" font-weight="bold" fill="#1a1a1a" textLength="15.00" lengthAdjust="spacingAndGlyphs">10</text>
<text x="14.10" y="-10.20" font-size="16.50" font-weight="bold" fill="#1a1a1a" textLength="9.59" lengthAdjust="spacingAndGlyphs">2</text>
</g>
<g transform="translate(1452.7 266.3) rotate(-90)">
<text x="-0.85" y="0.00" font-size="16.50" font-weight="bold" fill="#1a1a1a" textLength="15.00" lengthAdjust="spacingAndGlyphs">10</text>
<text x="14.32" y="-10.20" font-size="16.50" font-weight="bold" fill="#1a1a1a" textLength="9.29" lengthAdjust="spacingAndGlyphs">3</text>
</g>
<g transform="translate(1452.7 185.5) rotate(-90)">
<text x="-0.85" y="0.00" font-size="16.50" font-weight="bold" fill="#1a1a1a" textLength="15.00" lengthAdjust="spacingAndGlyphs">10</text>
<text x="14.47" y="-10.20" font-size="16.50" font-weight="bold" fill="#1a1a1a" textLength="8.62" lengthAdjust="spacingAndGlyphs">4</text>
</g>
<g transform="translate(1452.7 104.7) rotate(-90)">
<text x="-0.85" y="0.00" font-size="16.50" font-weight="bold" fill="#1a1a1a" textLength="15.00" lengthAdjust="spacingAndGlyphs">10</text>
<text x="14.19" y="-10.20" font-size="16.50" font-weight="bold" fill="#1a1a1a" textLength="9.28" lengthAdjust="spacingAndGlyphs">5</text>
</g>
<text x="1497.93" y="421.10" font-size="16.00" font-weight="bold" fill="#1a1a1a" textLength="15.44" lengthAdjust="spacingAndGlyphs">10</text>
<text x="1513.01" y="411.20" font-size="14.00" font-weight="bold" fill="#1a1a1a" textLength="9.47" lengthAdjust="spacingAndGlyphs">2</text>
<text x="1568.63" y="421.10" font-size="16.00" font-weight="bold" fill="#1a1a1a" textLength="15.44" lengthAdjust="spacingAndGlyphs">10</text>
<text x="1583.92" y="411.20" font-size="14.00" font-weight="bold" fill="#1a1a1a" textLength="9.17" lengthAdjust="spacingAndGlyphs">3</text>
<text x="1639.33" y="421.10" font-size="16.00" font-weight="bold" fill="#1a1a1a" textLength="15.44" lengthAdjust="spacingAndGlyphs">10</text>
<text x="1654.77" y="411.20" font-size="14.00" font-weight="bold" fill="#1a1a1a" textLength="8.51" lengthAdjust="spacingAndGlyphs">4</text>
<text x="1710.03" y="421.10" font-size="16.00" font-weight="bold" fill="#1a1a1a" textLength="15.44" lengthAdjust="spacingAndGlyphs">10</text>
<text x="1725.19" y="411.20" font-size="14.00" font-weight="bold" fill="#1a1a1a" textLength="9.17" lengthAdjust="spacingAndGlyphs">5</text>
<clipPath id="fc1"><rect x="1825.8" y="60.8" width="282.2" height="325.7"/></clipPath><g clip-path="url(#fc1)">
<path d="M1835 143h2m91 13h2m-1 9h2m11 0h2m30 7h2m-131 3h2m86 5h2m-72 5h2m6 1h2m56 0h2m-50 2h2m61 0h2m-54 1h2m-56 1h2m57 0h2m51 0h2m-14 1h2m-80 1h2m0 0h2m62 0h2m-43 1h2m6 0h2m-1 0h2m-1 0h2m13 0h2m-1 0h2m21 0h2m1 0h2m-7 1h2m18 1h2m-38 1h2m23 0h2m11 0h2m9 0h2m16 0h2m5 0h2m-93 1h2m-34 1h2m19 0h2m3 0h2m3 0h2m14 0h2m27 0h2m6 0h2m-84 1h2m63 0h2m40 0h2m-89 1h2m22 0h2m46 0h2m-75 1h2m-1 0h2m1 0h2m26 0h2m19 0h2m44 0h2m-144 1h2m33 0h2m8 0h2m4 0h2m21 0h2m24 0h2m6 0h2m1 0h2m22 0h2m-91 1h2m14 0h2m2 0h2m24 0h2m-104 1h2m70 0h2m0 0h2m38 0h2m22 0h2m-130 1h2m39 0h2m25 0h2m19 0h2m6 0h2m2 0h2m-108 1h2m27 0h2m56 0h2m5 0h2m-55 1h2m0 0h2m8 0h2m0 0h2m19 0h2m6 0h2m3 0h2m-1 0h2m7 0h2m1 0h2m-1 0h2m10 0h2m5 0h2m-69 1h2m7 0h2m1 0h2m5 0h2m-1 0h2m0 0h2m2 0h2m-1 0h2m9 0h2m8 0h2m-1 0h2m0 0h2m2 0h2m-61 1h2m2 0h2m6 0h2m8 0h2m-1 0h2m-1 0h2m-1 0h2m1 0h2m4 0h2m26 0h2m-67 1h2m6 0h2m5 0h2m4 0h2m2 0h2m1 0h2m1 0h2m-1 0h2m2 0h2m9 0h2m2 0h2m5 0h2m-69 1h2m4 0h2m1 0h2m-1 0h2m1 0h2m11 0h2m2 0h2m9 0h2m10 0h2m0 0h2m1 0h2m1 0h2m3 0h2m0 0h2m4 0h2m-126 1h2m64 0h2m7 0h2m10 0h2m4 0h2m-1 0h2m-1 0h2m0 0h2m0 0h2m0 0h2m-1 0h2m12 0h2m3 0h2m0 0h2m18 0h2m-114 1h2m10 0h2m16 0h2m21 0h2m5 0h2m-1 0h2m4 0h2m1 0h2m5 0h2m3 0h2m5 0h2m10 0h2m6 0h2m-85 1h2m2 0h2m10 0h2m5 0h2m6 0h2m0 0h2m0 0h2m-1 0h2m-1 0h2m-1 0h2m-1 0h2m-1 0h2m0 0h2m-1 0h2m-1 0h2m15 0h2m0 0h2m0 0h2m2 0h2m1 0h2m-91 1h2m14 0h2m15 0h2m12 0h2m-1 0h2m1 0h2m2 0h2m1 0h2m-1 0h2m-1 0h2m13 0h2m5 0h2m-89 1h2m23 0h2m11 0h2m2 0h2m0 0h2m2 0h2m-1 0h2m-1 0h2m0 0h2m1 0h2m5 0h2m4 0h2m2 0h2m0 0h2m2 0h2m1 0h2m-1 0h2m11 0h2m0 0h2m3 0h2m-56 1h2m-1 0h2m5 0h2m2 0h2m-1 0h2m0 0h2m-1 0h2m-1 0h2m21 0h2m-108 1h2m11 0h2m6 0h2m26 0h2m-1 0h2m1 0h2m0 0h2m6 0h2m-1 0h2m-1 0h2m0 0h2m-1 0h2m-1 0h2m2 0h2m3 0h2m-1 0h2m-1 0h2m0 0h2m-1 0h2m1 0h2m2 0h2m-1 0h2m-1 0h2m3 0h2m-1 0h2m-1 0h2m0 0h2m6 0h2m-101 1h2m0 0h2m2 0h2m10 0h2m9 0h2m7 0h2m4 0h2m0 0h2m0 0h2m1 0h2m-1 0h2m2 0h2m0 0h2m0 0h2m-1 0h2m7 0h2m1 0h2m-1 0h2m3 0h2m0 0h2m8 0h2m1 0h2m1 0h2m0 0h2m-1 0h2m-76 1h2m5 0h2m0 0h2m4 0h2m3 0h2m4 0h2m-1 0h2m0 0h2m0 0h2m0 0h2m-1 0h2m1 0h2m-1 0h2m1 0h2m-1 0h2m0 0h2m2 0h2m-1 0h2m7 0h2m-1 0h2m-1 0h2m0 0h2m4 0h2m-95 1h2m18 0h2m15 0h2m4 0h2m-1 0h2m-1 0h2m4 0h2m0 0h2m2 0h2m0 0h2m-1 0h2m-1 0h2m-1 0h2m3 0h2m-1 0h2m0 0h2m0 0h2m1 0h2m0 0h2m4 0h2m13 0h2m5 0h2m17 0h2m36 0h2m-147 1h2m21 0h2m4 0h2m1 0h2m-1 0h2m0 0h2m0 0h2m3 0h2m0 0h2m-1 0h2m1 0h2m0 0h2m3 0h2m0 0h2m1 0h2m12 0h2m1 0h2m0 0h2m0 0h2m7 0h2m-89 1h2m3 0h2m9 0h2m6 0h2m3 0h2m0 0h2m1 0h2m-1 0h2m1 0h2m9 0h2m-1 0h2m0 0h2m0 0h2m1 0h2m1 0h2m0 0h2m-1 0h2m2 0h2m6 0h2m1 0h2m2 0h2m-105 1h2m16 0h2m6 0h2m-1 0h2m7 0h2m0 0h2m1 0h2m-1 0h2m4 0h2m-1 0h2m0 0h2m0 0h2m1 0h2m0 0h2m3 0h2m-1 0h2m-1 0h2m0 0h2m-1 0h2m0 0h2m0 0h2m-1 0h2m-1 0h2m3 0h2m7 0h2m-1 0h2m4 0h2m0 0h2m3 0h2m11 0h2m3 0h2m-143 1h2m19 0h2m28 0h2m-1 0h2m3 0h2m0 0h2m4 0h2m4 0h2m-1 0h2m0 0h2m-1 0h2m0 0h2m1 0h2m0 0h2m0 0h2m1 0h2m20 0h2m1 0h2m1 0h2m-1 0h2m15 0h2m24 0h2m-135 1h2m0 0h2m1 0h2m19 0h2m2 0h2m4 0h2m-1 0h2m0 0h2m7 0h2m-1 0h2m0 0h2m0 0h2m1 0h2m-1 0h2m-1 0h2m-1 0h2m0 0h2m1 0h2m4 0h2m3 0h2m-1 0h2m-1 0h2m0 0h2m8 0h2m0 0h2m1 0h2m1 0h2m5 0h2m-130 1h2m41 0h2m11 0h2m4 0h2m-1 0h2m0 0h2m3 0h2m-1 0h2m0 0h2m1 0h2m1 0h2m0 0h2m0 0h2m0 0h2m1 0h2m-1 0h2m1 0h2m0 0h2m3 0h2m2 0h2m0 0h2m1 0h2m12 0h2m-120 1h2m28 0h2m26 0h2m1 0h2m1 0h2m-1 0h2m0 0h2m-1 0h2m10 0h2m1 0h2m6 0h2m-1 0h2m-1 0h2m-1 0h2m5 0h2m2 0h2m1 0h2m-1 0h2m-1 0h2m18 0h2m-127 1h2m12 0h2m16 0h2m10 0h2m0 0h2m0 0h2m2 0h2m4 0h2m-1 0h2m0 0h2m9 0h2m0 0h2m-1 0h2m-1 0h2m-1 0h2m-1 0h2m1 0h2m-1 0h2m3 0h2m0 0h2m0 0h2m6 0h2m0 0h2m7 0h2m3 0h2m11 0h2m-102 1h2m30 0h2m15 0h2m-1 0h2m0 0h2m-1 0h2m6 0h2m12 0h2m6 0h2m62 0h2m-188 1h2m51 0h2m2 0h2m5 0h2m0 0h2m-1 0h2m-1 0h2m0 0h2m0 0h2m10 0h2m2 0h2m-1 0h2m1 0h2m-1 0h2m5 0h2m8 0h2m11 0h2m-117 1h2m47 0h2m9 0h2m0 0h2m-1 0h2m-1 0h2m10 0h2m5 0h2m2 0h2m3 0h2m2 0h2m-1 0h2m0 0h2m2 0h2m2 0h2m11 0h2m0 0h2m27 0h2m-160 1h2m2 0h2m22 0h2m21 0h2m9 0h2m6 0h2m12 0h2m-1 0h2m1 0h2m6 0h2m-1 0h2m0 0h2m0 0h2m5 0h2m11 0h2m-115 1h2m16 0h2m30 0h2m4 0h2m1 0h2m1 0h2m13 0h2m-1 0h2m-1 0h2m-1 0h2m0 0h2m3 0h2m6 0h2m1 0h2m2 0h2m-1 0h2m1 0h2m9 0h2m-132 1h2m30 0h2m3 0h2m4 0h2m2 0h2m-1 0h2m14 0h2m3 0h2m-1 0h2m1 0h2m-1 0h2m-1 0h2m14 0h2m-1 0h2m-1 0h2m-1 0h2m0 0h2m3 0h2m1 0h2m-1 0h2m4 0h2m-1 0h2m9 0h2m15 0h2m-128 1h2m18 0h2m9 0h2m2 0h2m10 0h2m-1 0h2m1 0h2m1 0h2m-1 0h2m4 0h2m14 0h2m1 0h2m-1 0h2m3 0h2m-1 0h2m5 0h2m4 0h2m8 0h2m4 0h2m16 0h2m-133 1h2m20 0h2m19 0h2m2 0h2m5 0h2m-1 0h2m1 0h2m13 0h2m-1 0h2m2 0h2m1 0h2m12 0h2m0 0h2m16 0h2m-128 1h2m13 0h2m1 0h2m13 0h2m7 0h2m2 0h2m4 0h2m8 0h2m0 0h2m-1 0h2m-1 0h2m1 0h2m11 0h2m4 0h2m0 0h2m-1 0h2m2 0h2m4 0h2m1 0h2m-1 0h2m-1 0h2m2 0h2m2 0h2m13 0h2m30 0h2m-170 1h2m43 0h2m-1 0h2m16 0h2m2 0h2m0 0h2m5 0h2m1 0h2m-1 0h2m4 0h2m2 0h2m2 0h2m-1 0h2m1 0h2m2 0h2m-1 0h2m1 0h2m29 0h2m7 0h2m-98 1h2m5 0h2m3 0h2m3 0h2m-1 0h2m-1 0h2m0 0h2m2 0h2m0 0h2m6 0h2m-1 0h2m-1 0h2m-1 0h2m0 0h2m-1 0h2m-1 0h2m-1 0h2m7 0h2m-1 0h2m-1 0h2m7 0h2m6 0h2m0 0h2m2 0h2m-1 0h2m-86 1h2m6 0h2m6 0h2m0 0h2m4 0h2m-1 0h2m0 0h2m-1 0h2m-1 0h2m13 0h2m1 0h2m1 0h2m3 0h2m0 0h2m0 0h2m0 0h2m8 0h2m0 0h2m1 0h2m0 0h2m-1 0h2m0 0h2m5 0h2m32 0h2m-171 1h2m10 0h2m46 0h2m6 0h2m-1 0h2m-1 0h2m-1 0h2m-1 0h2m18 0h2m-1 0h2m-1 0h2m0 0h2m-1 0h2m-1 0h2m1 0h2m-1 0h2m8 0h2m5 0h2m2 0h2m-118 1h2m36 0h2m2 0h2m16 0h2m0 0h2m-1 0h2m29 0h2m1 0h2m3 0h2m4 0h2m-1 0h2m2 0h2m61 0h2m-153 1h2m7 0h2m13 0h2m1 0h2m5 0h2m0 0h2m26 0h2m16 0h2m2 0h2m20 0h2m2 0h2m21 0h2m-113 1h2m-1 0h2m-1 0h2m4 0h2m1 0h2m29 0h2m1 0h2m1 0h2m3 0h2m-1 0h2m5 0h2m7 0h2m-128 1h2m53 0h2m5 0h2m-1 0h2m-1 0h2m31 0h2m3 0h2m-1 0h2m-1 0h2m54 0h2m40 0h2m-198 1h2m14 0h2m18 0h2m8 0h2m-1 0h2m4 0h2m36 0h2m3 0h2m43 0h2m-126 1h2m4 0h2m4 0h2m0 0h2m2 0h2m14 0h2m0 0h2m0 0h2m-1 0h2m35 0h2m0 0h2m0 0h2m6 0h2m-1 0h2m10 0h2m6 0h2m0 0h2m14 0h2m38 0h2m-163 1h2m16 0h2m49 0h2m3 0h2m6 0h2m-1 0h2m9 0h2m-110 1h2m18 0h2m22 0h2m-1 0h2m39 0h2m-1 0h2m1 0h2m0 0h2m2 0h2m0 0h2m3 0h2m8 0h2m-1 0h2m-99 1h2m20 0h2m0 0h2m1 0h2m38 0h2m-1 0h2m-1 0h2m0 0h2m-1 0h2m4 0h2m8 0h2m6 0h2m-1 0h2m57 0h2m-186 1h2m8 0h2m29 0h2m1 0h2m3 0h2m2 0h2m42 0h2m-1 0h2m-1 0h2m7 0h2m3 0h2m2 0h2m2 0h2m3 0h2m-93 1h2m9 0h2m6 0h2m42 0h2m2 0h2m-1 0h2m5 0h2m5 0h2m10 0h2m-131 1h2m9 0h2m18 0h2m0 0h2m10 0h2m-1 0h2m5 0h2m53 0h2m2 0h2m18 0h2m-118 1h2m0 0h2m31 0h2m0 0h2m42 0h2m0 0h2m0 0h2m7 0h2m3 0h2m0 0h2m2 0h2m0 0h2m7 0h2m-107 1h2m10 0h2m7 0h2m47 0h2m0 0h2m-1 0h2m2 0h2m6 0h2m1 0h2m6 0h2m0 0h2m-100 1h2m15 0h2m6 0h2m45 0h2m2 0h2m10 0h2m71 0h2m16 0h2m5 0h2m-219 1h2m44 0h2m7 0h2m45 0h2m1 0h2m2 0h2m6 0h2m15 0h2m-127 1h2m34 0h2m1 0h2m2 0h2m52 0h2m14 0h2m0 0h2m-119 1h2m30 0h2m2 0h2m4 0h2m52 0h2m0 0h2m6 0h2m0 0h2m1 0h2m-1 0h2m1 0h2m2 0h2m-90 1h2m-1 0h2m0 0h2m1 0h2m3 0h2m-1 0h2m-1 0h2m-1 0h2m-1 0h2m48 0h2m1 0h2m-1 0h2m1 0h2m3 0h2m1 0h2m2 0h2m-116 1h2m-1 0h2m28 0h2m6 0h2m1 0h2m-1 0h2m-1 0h2m50 0h2m4 0h2m-1 0h2m13 0h2m42 0h2m-142 1h2m3 0h2m6 0h2m4 0h2m54 0h2m0 0h2m6 0h2m0 0h2m5 0h2m4 0h2m45 0h2m1 0h2m-149 1h2m4 0h2m1 0h2m1 0h2m1 0h2m0 0h2m-1 0h2m54 0h2m0 0h2m-1 0h2m-1 0h2m26 0h2m-121 1h2m-1 0h2m15 0h2m4 0h2m5 0h2m53 0h2m3 0h2m-1 0h2m-1 0h2m-1 0h2m0 0h2m14 0h2m-100 1h2m-1 0h2m10 0h2m-1 0h2m-1 0h2m54 0h2m-1 0h2m-1 0h2m0 0h2m1 0h2m0 0h2m3 0h2m4 0h2m1 0h2m1 0h2m71 0h2m-187 1h2m24 0h2m57 0h2m-1 0h2m0 0h2m-1 0h2m-1 0h2m2 0h2m2 0h2m7 0h2m5 0h2m-108 1h2m0 0h2m14 0h2m0 0h2m-1 0h2m58 0h2m2 0h2m2 0h2m2 0h2m61 0h2m-175 1h2m20 0h2m1 0h2m1 0h2m1 0h2m0 0h2m4 0h2m55 0h2m3 0h2m4 0h2m1 0h2m2 0h2m-1 0h2m-1 0h2m-1 0h2m2 0h2m-121 1h2m15 0h2m8 0h2m1 0h2m0 0h2m0 0h2m-1 0h2m-1 0h2m56 0h2m1 0h2m0 0h2m-1 0h2m4 0h2m2 0h2m20 0h2m-104 1h2m0 0h2m0 0h2m-1 0h2m-1 0h2m56 0h2m-1 0h2m1 0h2m1 0h2m0 0h2m3 0h2m-1 0h2m0 0h2m-1 0h2m2 0h2m92 0h2m-206 1h2m8 0h2m11 0h2m-1 0h2m63 0h2m0 0h2m0 0h2m6 0h2m-1 0h2m0 0h2m0 0h2m1 0h2m20 0h2m-111 1h2m1 0h2m0 0h2m0 0h2m56 0h2m-1 0h2m3 0h2m0 0h2m-1 0h2m-1 0h2m0 0h2m1 0h2m1 0h2m2 0h2m14 0h2m1 0h2m-127 1h2m1 0h2m2 0h2m5 0h2m2 0h2m1 0h2m0 0h2m0 0h2m57 0h2m2 0h2m1 0h2m0 0h2m0 0h2m0 0h2m-1 0h2m2 0h2m2 0h2m80 0h2m-198 1h2m24 0h2m2 0h2m0 0h2m-1 0h2m57 0h2m-1 0h2m-1 0h2m1 0h2m1 0h2m1 0h2m-1 0h2m0 0h2m0 0h2m1 0h2m13 0h2m-102 1h2m0 0h2m62 0h2m-1 0h2m5 0h2m2 0h2m2 0h2m19 0h2m-132 1h2m94 0h2m0 0h2m0 0h2m8 0h2m36 0h2m-154 1h2m1 0h2m10 0h2m7 0h2m0 0h2m4 0h2m-1 0h2m0 0h2m61 0h2m-1 0h2m-1 0h2m-1 0h2m-1 0h2m2 0h2m-1 0h2m5 0h2m6 0h2m-96 1h2m0 0h2m5 0h2m59 0h2m-1 0h2m1 0h2m-1 0h2m-1 0h2m0 0h2m-1 0h2m4 0h2m8 0h2m-1 0h2m-1 0h2m13 0h2m-132 1h2m4 0h2m8 0h2m2 0h2m-1 0h2m-1 0h2m1 0h2m-1 0h2m61 0h2m-1 0h2m-1 0h2m0 0h2m2 0h2m-1 0h2m0 0h2m7 0h2m120 0h2m-216 1h2m6 0h2m64 0h2m-1 0h2m2 0h2m-1 0h2m-1 0h2m4 0h2m1 0h2m9 0h2m25 0h2m24 0h2m0 0h2m-177 1h2m26 0h2m60 0h2m1 0h2m-1 0h2m6 0h2m-1 0h2m1 0h2m2 0h2m2 0h2m-128 1h2m-1 0h2m-1 0h2m-1 0h2m12 0h2m13 0h2m0 0h2m0 0h2m1 0h2m-1 0h2m61 0h2m2 0h2m-1 0h2m-1 0h2m-1 0h2m-1 0h2m3 0h2m0 0h2m-107 1h2m8 0h2m0 0h2m0 0h2m4 0h2m4 0h2m61 0h2m0 0h2m-1 0h2m1 0h2m1 0h2m0 0h2m-1 0h2m4 0h2m-97 1h2m0 0h2m3 0h2m3 0h2m65 0h2m2 0h2m-1 0h2m-1 0h2m-1 0h2m0 0h2m9 0h2m-124 1h2m22 0h2m0 0h2m1 0h2m4 0h2m63 0h2m-1 0h2m0 0h2m-1 0h2m3 0h2m2 0h2m0 0h2m-1 0h2m3 0h2m22 0h2m-141 1h2m3 0h2m5 0h2m14 0h2m-1 0h2m63 0h2m2 0h2m-1 0h2m1 0h2m0 0h2m3 0h2m-100 1h2m11 0h2m-1 0h2m68 0h2m0 0h2m7 0h2m0 0h2m-1 0h2m-1 0h2m0 0h2m1 0h2m0 0h2m1 0h2m-108 1h2m5 0h2m0 0h2m-1 0h2m2 0h2m0 0h2m61 0h2m20 0h2m26 0h2m6 0h2m75 0h2m-239 1h2m35 0h2m-1 0h2m63 0h2m3 0h2m0 0h2m13 0h2m-122 1h2m3 0h2m26 0h2m62 0h2m3 0h2m-1 0h2m-1 0h2m-1 0h2m9 0h2m-1 0h2m-114 1h2m5 0h2m1 0h2m6 0h2m1 0h2m0 0h2m0 0h2m0 0h2m64 0h2m1 0h2m0 0h2m2 0h2m1 0h2m1 0h2m54 0h2m-162 1h2m1 0h2m1 0h2m7 0h2m5 0h2m-1 0h2m63 0h2m-1 0h2m0 0h2m4 0h2m-1 0h2m1 0h2m4 0h2m-1 0h2m0 0h2m5 0h2m3 0h2m36 0h2m-170 1h2m23 0h2m2 0h2m65 0h2m-1 0h2m0 0h2m0 0h2m6 0h2m9 0h2m-1 0h2m12 0h2m24 0h2m-169 1h2m35 0h2m68 0h2m-1 0h2m-1 0h2m0 0h2m0 0h2m0 0h2m0 0h2m2 0h2m6 0h2m-1 0h2m-117 1h2m5 0h2m3 0h2m73 0h2m-1 0h2m0 0h2m0 0h2m-1 0h2m5 0h2m0 0h2m10 0h2m2 0h2m47 0h2m9 0h2m-182 1h2m1 0h2m0 0h2m9 0h2m5 0h2m66 0h2m-1 0h2m0 0h2m8 0h2m-1 0h2m-1 0h2m4 0h2m3 0h2m-110 1h2m14 0h2m62 0h2m3 0h2m0 0h2m-1 0h2m5 0h2m3 0h2m-96 1h2m5 0h2m68 0h2m-1 0h2m-1 0h2m1 0h2m1 0h2m-1 0h2m-1 0h2m3 0h2m0 0h2m4 0h2m-116 1h2m22 0h2m61 0h2m6 0h2m-1 0h2m1 0h2m-1 0h2m1 0h2m21 0h2m-1 0h2m-143 1h2m1 0h2m16 0h2m11 0h2m2 0h2m63 0h2m-1 0h2m1 0h2m1 0h2m0 0h2m-1 0h2m1 0h2m2 0h2m2 0h2m-110 1h2m3 0h2m3 0h2m2 0h2m2 0h2m69 0h2m1 0h2m0 0h2m0 0h2m1 0h2m1 0h2m-1 0h2m1 0h2m-112 1h2m6 0h2m6 0h2m2 0h2m4 0h2m62 0h2m2 0h2m1 0h2m-1 0h2m0 0h2m-1 0h2m-96 1h2m0 0h2m4 0h2m2 0h2m-1 0h2m3 0h2m61 0h2m-1 0h2m-1 0h2m-1 0h2m-1 0h2m2 0h2m0 0h2m2 0h2m20 0h2m-109 1h2m2 0h2m-1 0h2m-1 0h2m63 0h2m-1 0h2m-1 0h2m-1 0h2m3 0h2m4 0h2m-1 0h2m2 0h2m0 0h2m6 0h2m1 0h2m-108 1h2m7 0h2m63 0h2m0 0h2m-1 0h2m3 0h2m0 0h2m6 0h2m9 0h2m5 0h2m-116 1h2m3 0h2m7 0h2m-1 0h2m62 0h2m0 0h2m-1 0h2m0 0h2m-1 0h2m6 0h2m0 0h2m-1 0h2m20 0h2m-122 1h2m3 0h2m3 0h2m2 0h2m0 0h2m61 0h2m0 0h2m3 0h2m0 0h2m-1 0h2m1 0h2m-1 0h2m-1 0h2m-1 0h2m3 0h2m1 0h2m9 0h2m-127 1h2m15 0h2m1 0h2m4 0h2m-1 0h2m61 0h2m3 0h2m6 0h2m0 0h2m0 0h2m-1 0h2m19 0h2m4 0h2m-121 1h2m2 0h2m4 0h2m-1 0h2m62 0h2m1 0h2m2 0h2m0 0h2m1 0h2m4 0h2m1 0h2m1 0h2m12 0h2m26 0h2m6 0h2m40 0h2m-212 1h2m2 0h2m3 0h2m13 0h2m5 0h2m59 0h2m0 0h2m0 0h2m2 0h2m0 0h2m0 0h2m1 0h2m2 0h2m0 0h2m-1 0h2m3 0h2m42 0h2m-159 1h2m86 0h2m4 0h2m-1 0h2m1 0h2m3 0h2m5 0h2m26 0h2m-152 1h2m19 0h2m-1 0h2m7 0h2m-1 0h2m0 0h2m0 0h2m-1 0h2m-1 0h2m59 0h2m1 0h2m1 0h2m-1 0h2m0 0h2m-1 0h2m3 0h2m0 0h2m-117 1h2m5 0h2m14 0h2m3 0h2m4 0h2m0 0h2m59 0h2m1 0h2m-1 0h2m-1 0h2m1 0h2m4 0h2m3 0h2m0 0h2m-1 0h2m1 0h2m1 0h2m-112 1h2m18 0h2m59 0h2m-1 0h2m4 0h2m5 0h2m-1 0h2m2 0h2m1 0h2m7 0h2m-99 1h2m-1 0h2m2 0h2m61 0h2m-1 0h2m1 0h2m0 0h2m0 0h2m1 0h2m4 0h2m1 0h2m-1 0h2m1 0h2m4 0h2m1 0h2m-130 1h2m7 0h2m3 0h2m2 0h2m-1 0h2m0 0h2m70 0h2m3 0h2m-1 0h2m2 0h2m-1 0h2m2 0h2m3 0h2m0 0h2m3 0h2m9 0h2m-112 1h2m9 0h2m60 0h2m0 0h2m1 0h2m9 0h2m0 0h2m5 0h2m4 0h2m-131 1h2m6 0h2m4 0h2m18 0h2m64 0h2m1 0h2m0 0h2m1 0h2m3 0h2m-1 0h2m0 0h2m0 0h2m-91 1h2m3 0h2m1 0h2m64 0h2m-1 0h2m-1 0h2m1 0h2m-1 0h2m1 0h2m-1 0h2m3 0h2m0 0h2m-1 0h2m0 0h2m8 0h2m3 0h2m22 0h2m13 0h2m-176 1h2m16 0h2m1 0h2m72 0h2m-1 0h2m-1 0h2m0 0h2m2 0h2m-1 0h2m-1 0h2m1 0h2m1 0h2m1 0h2m1 0h2m0 0h2m50 0h2m-171 1h2m18 0h2m2 0h2m4 0h2m-1 0h2m0 0h2m-1 0h2m54 0h2m0 0h2m-1 0h2m-1 0h2m0 0h2m-1 0h2m-1 0h2m1 0h2m3 0h2m2 0h2m3 0h2m3 0h2m72 0h2m6 0h2m-195 1h2m10 0h2m8 0h2m58 0h2m3 0h2m1 0h2m9 0h2m9 0h2m26 0h2m-145 1h2m14 0h2m-1 0h2m8 0h2m54 0h2m0 0h2m8 0h2m0 0h2m-1 0h2m8 0h2m41 0h2m30 0h2m-192 1h2m32 0h2m55 0h2m4 0h2m6 0h2m-1 0h2m0 0h2m0 0h2m-1 0h2m2 0h2m4 0h2m-131 1h2m28 0h2m66 0h2m-1 0h2m-1 0h2m-1 0h2m-1 0h2m0 0h2m-1 0h2m9 0h2m-1 0h2m4 0h2m62 0h2m-159 1h2m-1 0h2m4 0h2m1 0h2m1 0h2m53 0h2m0 0h2m3 0h2m10 0h2m1 0h2m9 0h2m32 0h2m-148 1h2m13 0h2m-1 0h2m2 0h2m-1 0h2m-1 0h2m57 0h2m-1 0h2m-1 0h2m11 0h2m3 0h2m-1 0h2m0 0h2m2 0h2m2 0h2m11 0h2m-129 1h2m14 0h2m3 0h2m1 0h2m-1 0h2m54 0h2m1 0h2m-1 0h2m3 0h2m6 0h2m0 0h2m2 0h2m1 0h2m5 0h2m-37 1h2m4 0h2m8 0h2m3 0h2m0 0h2m29 0h2m33 0h2m1 0h2m-1 0h2m-184 1h2m10 0h2m15 0h2m6 0h2m-1 0h2m68 0h2m0 0h2m0 0h2m2 0h2m4 0h2m2 0h2m-1 0h2m57 0h2m-170 1h2m-1 0h2m14 0h2m52 0h2m-1 0h2m1 0h2m10 0h2m2 0h2m1 0h2m0 0h2m4 0h2m-88 1h2m-1 0h2m2 0h2m47 0h2m3 0h2m0 0h2m1 0h2m1 0h2m18 0h2m1 0h2m-107 1h2m8 0h2m5 0h2m-1 0h2m-1 0h2m48 0h2m-1 0h2m-1 0h2m-1 0h2m2 0h2m1 0h2m6 0h2m5 0h2m-1 0h2m38 0h2m-157 1h2m4 0h2m10 0h2m5 0h2m4 0h2m3 0h2m-1 0h2m1 0h2m47 0h2m4 0h2m-1 0h2m2 0h2m7 0h2m2 0h2m5 0h2m-1 0h2m-1 0h2m4 0h2m-107 1h2m12 0h2m1 0h2m60 0h2m4 0h2m4 0h2m13 0h2m-116 1h2m8 0h2m2 0h2m6 0h2m0 0h2m0 0h2m46 0h2m9 0h2m5 0h2m1 0h2m4 0h2m0 0h2m4 0h2m-106 1h2m3 0h2m-1 0h2m0 0h2m5 0h2m3 0h2m51 0h2m0 0h2m6 0h2m2 0h2m0 0h2m-1 0h2m10 0h2m7 0h2m15 0h2m3 0h2m-157 1h2m33 0h2m1 0h2m50 0h2m-1 0h2m15 0h2m6 0h2m1 0h2m-91 1h2m-1 0h2m10 0h2m0 0h2m41 0h2m6 0h2m3 0h2m3 0h2m-1 0h2m4 0h2m6 0h2m2 0h2m-113 1h2m5 0h2m0 0h2m4 0h2m3 0h2m1 0h2m2 0h2m48 0h2m0 0h2m1 0h2m6 0h2m1 0h2m15 0h2m6 0h2m26 0h2m-126 1h2m1 0h2m1 0h2m-1 0h2m-1 0h2m41 0h2m0 0h2m2 0h2m-1 0h2m8 0h2m5 0h2m0 0h2m0 0h2m1 0h2m-102 1h2m6 0h2m9 0h2m5 0h2m1 0h2m38 0h2m1 0h2m0 0h2m8 0h2m0 0h2m1 0h2m10 0h2m35 0h2m30 0h2m-161 1h2m13 0h2m-1 0h2m40 0h2m2 0h2m6 0h2m15 0h2m9 0h2m0 0h2m5 0h2m-97 1h2m-1 0h2m4 0h2m36 0h2m0 0h2m1 0h2m10 0h2m-1 0h2m6 0h2m8 0h2m2 0h2m20 0h2m63 0h2m-182 1h2m0 0h2m11 0h2m36 0h2m1 0h2m3 0h2m7 0h2m-1 0h2m0 0h2m1 0h2m1 0h2m0 0h2m1 0h2m-121 1h2m32 0h2m5 0h2m1 0h2m-1 0h2m4 0h2m36 0h2m11 0h2m3 0h2m8 0h2m0 0h2m-109 1h2m32 0h2m0 0h2m0 0h2m35 0h2m1 0h2m1 0h2m-1 0h2m1 0h2m6 0h2m2 0h2m2 0h2m6 0h2m1 0h2m3 0h2m-89 1h2m6 0h2m36 0h2m2 0h2m34 0h2m7 0h2m-96 1h2m1 0h2m-1 0h2m0 0h2m1 0h2m-1 0h2m34 0h2m4 0h2m4 0h2m0 0h2m8 0h2m-82 1h2m6 0h2m2 0h2m-1 0h2m3 0h2m-1 0h2m0 0h2m-1 0h2m31 0h2m-1 0h2m1 0h2m5 0h2m6 0h2m29 0h2m37 0h2m-157 1h2m-1 0h2m5 0h2m12 0h2m3 0h2m1 0h2m34 0h2m6 0h2m13 0h2m3 0h2m5 0h2m-1 0h2m-86 1h2m6 0h2m38 0h2m12 0h2m9 0h2m1 0h2m2 0h2m2 0h2m5 0h2m-99 1h2m3 0h2m7 0h2m1 0h2m0 0h2m0 0h2m0 0h2m43 0h2m-1 0h2m2 0h2m1 0h2m123 0h2m-183 1h2m1 0h2m-1 0h2m24 0h2m-1 0h2m22 0h2m4 0h2m9 0h2m14 0h2m-138 1h2m-1 0h2m15 0h2m0 0h2m8 0h2m3 0h2m0 0h2m5 0h2m5 0h2m-1 0h2m26 0h2m6 0h2m7 0h2m5 0h2m3 0h2m1 0h2m0 0h2m12 0h2m58 0h2m-160 1h2m8 0h2m11 0h2m25 0h2m12 0h2m6 0h2m1 0h2m-1 0h2m9 0h2m-90 1h2m12 0h2m0 0h2m-1 0h2m0 0h2m-1 0h2m29 0h2m-1 0h2m11 0h2m16 0h2m6 0h2m-93 1h2m1 0h2m-1 0h2m4 0h2m8 0h2m3 0h2m22 0h2m-1 0h2m8 0h2m3 0h2m2 0h2m18 0h2m32 0h2m-103 1h2m1 0h2m22 0h2m2 0h2m0 0h2m11 0h2m9 0h2m2 0h2m17 0h2m-132 1h2m3 0h2m36 0h2m5 0h2m-1 0h2m3 0h2m25 0h2m3 0h2m22 0h2m-1 0h2m-98 1h2m9 0h2m24 0h2m17 0h2m-1 0h2m7 0h2m1 0h2m-1 0h2m2 0h2m-1 0h2m7 0h2m2 0h2m-98 1h2m0 0h2m22 0h2m36 0h2m-1 0h2m-1 0h2m1 0h2m3 0h2m14 0h2m-109 1h2m0 0h2m6 0h2m48 0h2m17 0h2m-1 0h2m0 0h2m1 0h2m-1 0h2m1 0h2m10 0h2m8 0h2m6 0h2m-1 0h2m87 0h2m-185 1h2m10 0h2m14 0h2m1 0h2m1 0h2m1 0h2m22 0h2m7 0h2m7 0h2m-1 0h2m6 0h2m0 0h2m-1 0h2m-1 0h2m-62 1h2m20 0h2m1 0h2m29 0h2m4 0h2m2 0h2m63 0h2m-154 1h2m11 0h2m3 0h2m6 0h2m5 0h2m6 0h2m1 0h2m-1 0h2m-1 0h2m14 0h2m57 0h2m-148 1h2m32 0h2m13 0h2m4 0h2m1 0h2m-1 0h2m20 0h2m15 0h2m1 0h2m0 0h2m0 0h2m12 0h2m-122 1h2m0 0h2m31 0h2m11 0h2m10 0h2m0 0h2m2 0h2m-1 0h2m0 0h2m1 0h2m9 0h2m8 0h2m16 0h2m1 0h2m-90 1h2m17 0h2m-1 0h2m6 0h2m0 0h2m7 0h2m4 0h2m0 0h2m1 0h2m12 0h2m7 0h2m14 0h2m2 0h2m-120 1h2m63 0h2m1 0h2m8 0h2m0 0h2m17 0h2m1 0h2m1 0h2m4 0h2m33 0h2m10 0h2m-172 1h2m21 0h2m9 0h2m19 0h2m-1 0h2m7 0h2m1 0h2m1 0h2m-1 0h2m-1 0h2m1 0h2m1 0h2m5 0h2m5 0h2m11 0h2m0 0h2m13 0h2m80 0h2m-181 1h2m36 0h2m0 0h2m1 0h2m4 0h2m-1 0h2m2 0h2m1 0h2m11 0h2m1 0h2m13 0h2m-1 0h2m7 0h2m-96 1h2m25 0h2m3 0h2m14 0h2m2 0h2m12 0h2m2 0h2m10 0h2m12 0h2m-120 1h2m40 0h2m12 0h2m6 0h2m-1 0h2m0 0h2m2 0h2m3 0h2m3 0h2m0 0h2m9 0h2m12 0h2m-61 1h2m4 0h2m5 0h2m-1 0h2m1 0h2m6 0h2m-1 0h2m-1 0h2m2 0h2m4 0h2m2 0h2m9 0h2m5 0h2m-1 0h2m10 0h2m9 0h2m-122 1h2m40 0h2m5 0h2m0 0h2m1 0h2m-1 0h2m2 0h2m1 0h2m1 0h2m3 0h2m2 0h2m-1 0h2m12 0h2m4 0h2m0 0h2m5 0h2m-107 1h2m35 0h2m0 0h2m4 0h2m1 0h2m-1 0h2m0 0h2m-1 0h2m5 0h2m5 0h2m-1 0h2m2 0h2m0 0h2m6 0h2m-1 0h2m2 0h2m-56 1h2m0 0h2m1 0h2m2 0h2m-1 0h2m2 0h2m0 0h2m-1 0h2m12 0h2m4 0h2m2 0h2m0 0h2m1 0h2m7 0h2m7 0h2m-1 0h2m2 0h2m-86 1h2m20 0h2m2 0h2m-1 0h2m-1 0h2m34 0h2m0 0h2m7 0h2m0 0h2m2 0h2m16 0h2m42 0h2m-135 1h2m-1 0h2m5 0h2m6 0h2m0 0h2m25 0h2m0 0h2m0 0h2m-1 0h2m9 0h2m59 0h2m-126 1h2m0 0h2m2 0h2m40 0h2m3 0h2m6 0h2m30 0h2m103 0h2m-193 1h2m3 0h2m1 0h2m33 0h2m5 0h2m-1 0h2m94 0h2m-98 1h2m22 0h2" stroke="#3a47a2" stroke-width="2" fill="none"/>
<path d="M1902.5 241.5L1900.7 242.1L1899.0 242.9L1897.4 243.8L1895.7 244.9L1894.1 246.1L1892.5 247.4L1890.9 248.9L1889.4 250.5L1887.8 252.2L1886.3 254.1L1884.9 256.1L1883.4 258.2L1882.0 260.5L1880.6 262.9L1879.2 265.5L1877.9 268.2L1876.6 271.0L1875.4 273.9L1874.3 276.8L1873.3 279.8L1872.5 282.9L1871.7 286.0L1871.0 289.1L1870.5 292.3L1870.1 295.6L1869.8 298.8L1869.6 302.0L1869.4 305.2L1869.4 308.3L1869.6 311.5L1869.8 314.6L1870.1 317.6L1870.5 320.7L1871.0 323.6L1871.7 326.4L1872.5 329.1L1873.3 331.7L1874.3 334.2L1875.4 336.6L1876.6 338.9L1877.9 341.0L1879.3 343.2L1880.7 345.3L1882.2 347.4L1883.7 349.4L1885.3 351.4L1886.9 353.4L1888.6 355.4L1890.3 357.4L1891.9 359.2L1893.4 360.8L1894.7 362.2L1895.9 363.5L1897.0 364.7L1897.9 365.7L1898.7 366.5L1899.3 367.1L1900.0 367.6L1900.8 367.8L1901.6 367.8L1902.5 367.6L1903.4 367.1L1904.4 366.5L1905.4 365.6L1906.5 364.6L1907.6 363.2L1908.7 361.7L1909.9 359.9L1911.1 357.8L1912.3 355.5L1913.6 353.0L1914.9 350.2L1916.1 347.1L1917.4 344.0L1918.7 340.8L1920.0 337.5L1921.3 334.2L1922.6 330.7L1923.9 327.2L1925.2 323.6L1926.5 319.9L1927.7 316.3L1928.8 312.7L1929.7 309.2L1930.6 305.7L1931.4 302.3L1932.0 298.9L1932.6 295.6L1933.0 292.3L1933.4 289.1L1933.6 286.0L1933.7 282.9L1933.7 279.8L1933.6 276.8L1933.4 273.9L1933.0 271.0L1932.6 268.2L1932.1 265.5L1931.5 262.9L1930.9 260.5L1930.3 258.2L1929.6 256.1L1928.8 254.1L1928.0 252.2L1927.2 250.5L1926.3 248.9L1925.5 247.4L1924.6 246.1L1923.7 244.9L1922.9 243.8L1922.0 242.9L1921.1 242.1L1920.3 241.5L1919.4 240.9L1918.4 240.4L1917.5 240.0L1916.5 239.7L1915.5 239.4L1914.5 239.3L1913.4 239.2L1912.3 239.2L1911.1 239.3L1909.9 239.4L1908.6 239.7L1907.2 240.0L1905.7 240.4L1904.1 240.9ZM1906.9 233.5L1907.5 232.1L1908.1 230.8L1908.7 229.7L1909.4 228.7L1910.2 228.0L1911.0 227.4L1911.9 226.9L1912.8 226.7L1913.8 226.6L1914.7 226.7L1915.6 227.0L1916.5 227.5L1917.3 228.2L1918.1 229.1L1918.8 230.3L1919.5 231.6L1920.1 233.2L1920.4 234.5L1920.4 235.7L1920.0 236.7L1919.2 237.4L1918.1 238.0L1916.6 238.4L1914.8 238.6L1912.6 238.6L1910.8 238.4L1909.3 238.1L1908.1 237.5L1907.3 236.8L1906.8 235.9L1906.7 234.8ZM1902.8 243.5L1901.2 244.1L1899.6 244.9L1898.0 245.8L1896.5 246.8L1895.0 247.9L1893.5 249.2L1892.1 250.6L1890.7 252.0L1889.3 253.7L1887.9 255.4L1886.6 257.3L1885.2 259.3L1883.9 261.5L1882.6 263.8L1881.2 266.2L1879.9 268.8L1878.6 271.5L1877.4 274.3L1876.3 277.1L1875.3 280.0L1874.5 283.0L1873.7 286.1L1873.0 289.2L1872.5 292.4L1872.1 295.6L1871.8 298.8L1871.6 302.0L1871.4 305.1L1871.4 308.2L1871.6 311.2L1871.8 314.2L1872.1 317.2L1872.5 320.1L1873.0 322.9L1873.7 325.6L1874.4 328.2L1875.2 330.7L1876.2 333.1L1877.2 335.4L1878.4 337.6L1879.6 339.7L1880.9 341.8L1882.3 343.8L1883.7 345.8L1885.1 347.8L1886.6 349.7L1888.1 351.7L1889.7 353.6L1891.3 355.4L1892.8 357.1L1894.2 358.7L1895.4 360.1L1896.5 361.3L1897.5 362.4L1898.3 363.2L1899.0 364.0L1899.6 364.5L1900.2 364.9L1900.9 365.1L1901.6 365.1L1902.3 364.9L1903.1 364.5L1904.0 364.0L1904.8 363.2L1905.8 362.3L1906.7 361.1L1907.7 359.7L1908.8 358.0L1909.9 356.0L1911.0 353.8L1912.2 351.4L1913.4 348.7L1914.6 345.8L1915.9 342.8L1917.1 339.6L1918.4 336.4L1919.6 333.1L1920.9 329.7L1922.1 326.2L1923.4 322.6L1924.6 318.9L1925.8 315.3L1926.8 311.7L1927.8 308.3L1928.6 304.9L1929.4 301.5L1930.0 298.3L1930.6 295.1L1931.0 291.9L1931.4 288.9L1931.6 285.8L1931.7 282.9L1931.7 280.0L1931.6 277.1L1931.4 274.3L1931.0 271.5L1930.6 268.8L1930.1 266.2L1929.6 263.8L1929.0 261.5L1928.4 259.3L1927.8 257.3L1927.1 255.4L1926.4 253.7L1925.6 252.0L1924.9 250.6L1924.1 249.2L1923.3 247.9L1922.5 246.8L1921.8 245.8L1921.0 244.9L1920.2 244.1L1919.3 243.5L1918.5 242.9L1917.6 242.4L1916.8 242.0L1915.9 241.7L1914.9 241.4L1914.0 241.3L1913.0 241.2L1912.0 241.2L1910.9 241.3L1909.8 241.4L1908.5 241.7L1907.2 242.0L1905.8 242.4L1904.4 242.9ZM1903.9 250.9L1902.5 251.5L1901.1 252.1L1899.7 252.9L1898.4 253.8L1897.1 254.7L1895.9 255.8L1894.6 257.0L1893.4 258.3L1892.3 259.7L1891.1 261.2L1889.9 262.8L1888.7 264.5L1887.6 266.4L1886.4 268.4L1885.3 270.5L1884.2 272.7L1883.0 275.0L1882.0 277.4L1881.1 279.8L1880.2 282.4L1879.5 284.9L1878.8 287.5L1878.3 290.2L1877.8 293.0L1877.4 295.7L1877.2 298.5L1877.0 301.2L1876.9 303.9L1876.9 306.6L1877.0 309.2L1877.2 311.8L1877.4 314.3L1877.8 316.8L1878.3 319.2L1878.8 321.5L1879.4 323.8L1880.2 325.9L1881.0 328.0L1881.9 330.0L1882.8 331.9L1883.9 333.6L1885.0 335.4L1886.2 337.2L1887.4 338.9L1888.6 340.6L1889.9 342.3L1891.2 343.9L1892.6 345.6L1894.0 347.2L1895.3 348.7L1896.4 350.0L1897.5 351.2L1898.4 352.2L1899.3 353.1L1900.0 353.9L1900.6 354.5L1901.1 355.0L1901.6 355.3L1902.2 355.5L1902.8 355.5L1903.4 355.3L1904.1 355.0L1904.8 354.5L1905.6 353.9L1906.4 353.1L1907.2 352.1L1908.1 350.8L1909.0 349.4L1909.9 347.7L1910.9 345.8L1911.9 343.7L1912.9 341.4L1914.0 338.9L1915.1 336.3L1916.2 333.6L1917.2 330.8L1918.3 328.0L1919.4 325.0L1920.5 322.0L1921.5 318.9L1922.6 315.8L1923.6 312.7L1924.5 309.6L1925.3 306.6L1926.1 303.7L1926.7 300.8L1927.3 298.0L1927.7 295.3L1928.1 292.6L1928.4 289.9L1928.6 287.3L1928.7 284.8L1928.7 282.3L1928.6 279.8L1928.4 277.4L1928.1 275.0L1927.7 272.7L1927.3 270.5L1926.9 268.4L1926.4 266.4L1925.9 264.5L1925.3 262.8L1924.7 261.2L1924.1 259.7L1923.5 258.3L1922.8 257.0L1922.2 255.8L1921.5 254.7L1920.8 253.8L1920.2 252.9L1919.5 252.1L1918.8 251.5L1918.1 250.9L1917.4 250.4L1916.6 250.0L1915.9 249.6L1915.1 249.4L1914.3 249.2L1913.5 249.0L1912.6 248.9L1911.8 248.9L1910.8 249.0L1909.8 249.2L1908.8 249.4L1907.7 249.6L1906.5 250.0L1905.2 250.4ZM1905.0 258.9L1903.8 259.3L1902.7 259.9L1901.6 260.5L1900.5 261.2L1899.4 262.0L1898.4 262.9L1897.4 263.9L1896.4 264.9L1895.4 266.1L1894.4 267.3L1893.5 268.7L1892.5 270.1L1891.5 271.6L1890.6 273.3L1889.7 275.0L1888.7 276.8L1887.8 278.8L1886.9 280.7L1886.2 282.7L1885.5 284.8L1884.8 286.9L1884.3 289.1L1883.9 291.3L1883.5 293.6L1883.2 295.9L1882.9 298.2L1882.8 300.4L1882.7 302.6L1882.7 304.8L1882.8 307.0L1882.9 309.1L1883.2 311.2L1883.5 313.3L1883.8 315.3L1884.3 317.2L1884.8 319.0L1885.4 320.8L1886.1 322.5L1886.8 324.1L1887.6 325.7L1888.5 327.2L1889.4 328.6L1890.4 330.1L1891.4 331.5L1892.4 332.9L1893.5 334.3L1894.5 335.7L1895.7 337.0L1896.8 338.3L1897.9 339.6L1898.8 340.7L1899.7 341.6L1900.5 342.5L1901.2 343.3L1901.8 343.9L1902.3 344.4L1902.7 344.8L1903.1 345.1L1903.6 345.2L1904.1 345.2L1904.6 345.1L1905.2 344.8L1905.8 344.4L1906.4 343.9L1907.1 343.2L1907.8 342.4L1908.5 341.3L1909.2 340.1L1910.0 338.8L1910.8 337.2L1911.6 335.5L1912.5 333.6L1913.4 331.5L1914.3 329.3L1915.1 327.1L1916.0 324.8L1916.9 322.5L1917.8 320.1L1918.7 317.6L1919.6 315.0L1920.5 312.4L1921.3 309.8L1922.0 307.3L1922.7 304.9L1923.3 302.4L1923.8 300.1L1924.3 297.7L1924.7 295.5L1925.0 293.3L1925.3 291.1L1925.4 288.9L1925.5 286.8L1925.5 284.8L1925.4 282.7L1925.3 280.7L1925.0 278.8L1924.7 276.8L1924.3 275.0L1924.0 273.3L1923.6 271.6L1923.2 270.1L1922.7 268.7L1922.2 267.3L1921.7 266.1L1921.2 264.9L1920.6 263.9L1920.1 262.9L1919.5 262.0L1919.0 261.2L1918.4 260.5L1917.9 259.9L1917.3 259.3L1916.7 258.9L1916.1 258.4L1915.5 258.1L1914.9 257.8L1914.2 257.6L1913.6 257.4L1912.9 257.3L1912.2 257.2L1911.5 257.2L1910.7 257.3L1909.9 257.4L1909.0 257.6L1908.1 257.8L1907.1 258.1L1906.1 258.4ZM1906.1 266.8L1905.2 267.2L1904.3 267.6L1903.4 268.1L1902.6 268.7L1901.7 269.3L1900.9 270.0L1900.1 270.8L1899.3 271.6L1898.5 272.5L1897.8 273.5L1897.0 274.5L1896.3 275.7L1895.5 276.9L1894.8 278.2L1894.0 279.5L1893.3 281.0L1892.5 282.5L1891.9 284.1L1891.3 285.7L1890.7 287.3L1890.2 289.0L1889.8 290.7L1889.4 292.4L1889.1 294.2L1888.9 296.0L1888.7 297.8L1888.6 299.6L1888.5 301.3L1888.5 303.1L1888.6 304.8L1888.7 306.4L1888.9 308.1L1889.1 309.7L1889.4 311.3L1889.8 312.8L1890.2 314.3L1890.7 315.7L1891.2 317.0L1891.8 318.3L1892.4 319.5L1893.1 320.7L1893.8 321.8L1894.6 323.0L1895.4 324.1L1896.2 325.2L1897.0 326.3L1897.9 327.4L1898.8 328.5L1899.7 329.5L1900.5 330.5L1901.3 331.3L1902.0 332.1L1902.6 332.8L1903.1 333.4L1903.6 333.9L1904.0 334.3L1904.3 334.6L1904.6 334.8L1905.0 334.9L1905.4 334.9L1905.8 334.8L1906.3 334.6L1906.7 334.3L1907.2 333.9L1907.8 333.3L1908.3 332.7L1908.9 331.9L1909.4 330.9L1910.1 329.8L1910.7 328.6L1911.3 327.2L1912.0 325.7L1912.7 324.1L1913.4 322.4L1914.1 320.6L1914.8 318.8L1915.5 317.0L1916.2 315.1L1916.9 313.1L1917.6 311.1L1918.3 309.0L1919.0 307.0L1919.6 305.0L1920.1 303.1L1920.6 301.2L1921.0 299.3L1921.3 297.5L1921.7 295.7L1921.9 293.9L1922.1 292.2L1922.2 290.5L1922.3 288.9L1922.3 287.2L1922.2 285.6L1922.1 284.1L1921.9 282.5L1921.7 281.0L1921.4 279.5L1921.1 278.2L1920.8 276.9L1920.4 275.7L1920.1 274.5L1919.7 273.5L1919.3 272.5L1918.9 271.6L1918.5 270.8L1918.0 270.0L1917.6 269.3L1917.2 268.7L1916.7 268.1L1916.3 267.6L1915.8 267.2L1915.4 266.8L1914.9 266.5L1914.4 266.2L1913.9 266.0L1913.4 265.8L1912.9 265.7L1912.4 265.6L1911.8 265.5L1911.3 265.5L1910.6 265.6L1910.0 265.7L1909.3 265.8L1908.6 266.0L1907.8 266.2L1907.0 266.5ZM1907.2 274.8L1906.6 275.0L1905.9 275.3L1905.3 275.7L1904.6 276.1L1904.0 276.6L1903.4 277.1L1902.8 277.7L1902.3 278.3L1901.7 278.9L1901.1 279.7L1900.6 280.4L1900.0 281.3L1899.5 282.1L1898.9 283.1L1898.4 284.1L1897.8 285.1L1897.3 286.3L1896.8 287.4L1896.4 288.6L1896.0 289.8L1895.6 291.0L1895.3 292.2L1895.0 293.5L1894.8 294.8L1894.6 296.1L1894.5 297.5L1894.4 298.8L1894.4 300.0L1894.4 301.3L1894.4 302.5L1894.5 303.8L1894.6 305.0L1894.8 306.2L1895.0 307.3L1895.3 308.4L1895.6 309.5L1895.9 310.5L1896.3 311.5L1896.7 312.5L1897.2 313.4L1897.7 314.2L1898.3 315.1L1898.8 315.9L1899.4 316.7L1900.0 317.5L1900.6 318.3L1901.2 319.1L1901.8 319.9L1902.5 320.7L1903.1 321.4L1903.7 322.0L1904.2 322.6L1904.6 323.1L1905.0 323.5L1905.4 323.9L1905.7 324.2L1905.9 324.4L1906.2 324.5L1906.4 324.6L1906.7 324.6L1907.0 324.5L1907.4 324.4L1907.7 324.2L1908.1 323.9L1908.4 323.5L1908.8 323.0L1909.2 322.4L1909.7 321.7L1910.1 320.9L1910.6 320.0L1911.1 319.0L1911.6 317.9L1912.1 316.7L1912.6 315.5L1913.1 314.2L1913.6 312.9L1914.1 311.5L1914.6 310.1L1915.1 308.7L1915.7 307.2L1916.2 305.7L1916.6 304.2L1917.1 302.7L1917.5 301.3L1917.8 299.9L1918.1 298.6L1918.4 297.2L1918.6 295.9L1918.8 294.6L1918.9 293.4L1919.0 292.1L1919.1 290.9L1919.1 289.7L1919.0 288.5L1918.9 287.4L1918.8 286.3L1918.6 285.1L1918.4 284.1L1918.2 283.1L1918.0 282.1L1917.7 281.3L1917.5 280.4L1917.2 279.7L1916.9 278.9L1916.6 278.3L1916.3 277.7L1916.0 277.1L1915.6 276.6L1915.3 276.1L1915.0 275.7L1914.7 275.3L1914.3 275.0L1914.0 274.8L1913.7 274.5L1913.3 274.3L1913.0 274.2L1912.6 274.0L1912.2 273.9L1911.8 273.9L1911.4 273.8L1911.0 273.8L1910.6 273.9L1910.1 273.9L1909.6 274.0L1909.0 274.2L1908.5 274.3L1907.9 274.5ZM1908.3 282.2L1907.8 282.4L1907.4 282.6L1907.0 282.8L1906.6 283.1L1906.2 283.4L1905.8 283.7L1905.4 284.1L1905.0 284.5L1904.6 284.9L1904.3 285.4L1903.9 285.9L1903.5 286.5L1903.2 287.0L1902.8 287.7L1902.5 288.3L1902.1 289.0L1901.7 289.8L1901.4 290.5L1901.1 291.3L1900.9 292.1L1900.6 292.9L1900.4 293.7L1900.2 294.5L1900.1 295.4L1900.0 296.3L1899.9 297.1L1899.8 298.0L1899.8 298.8L1899.8 299.7L1899.8 300.5L1899.9 301.3L1900.0 302.1L1900.1 302.9L1900.2 303.6L1900.4 304.4L1900.6 305.1L1900.8 305.7L1901.1 306.4L1901.4 307.0L1901.7 307.6L1902.0 308.2L1902.4 308.7L1902.7 309.3L1903.1 309.8L1903.5 310.3L1903.9 310.9L1904.3 311.4L1904.7 311.9L1905.2 312.4L1905.6 312.9L1905.9 313.3L1906.3 313.7L1906.6 314.0L1906.8 314.3L1907.1 314.5L1907.3 314.7L1907.4 314.9L1907.6 315.0L1907.8 315.0L1907.9 315.0L1908.1 315.0L1908.4 314.9L1908.6 314.7L1908.8 314.5L1909.1 314.3L1909.3 313.9L1909.6 313.6L1909.9 313.1L1910.2 312.6L1910.5 312.0L1910.8 311.3L1911.1 310.6L1911.5 309.8L1911.8 309.0L1912.1 308.1L1912.5 307.3L1912.8 306.4L1913.2 305.5L1913.5 304.5L1913.8 303.5L1914.2 302.5L1914.5 301.6L1914.8 300.6L1915.0 299.7L1915.2 298.8L1915.5 297.9L1915.6 297.0L1915.8 296.1L1915.9 295.3L1916.0 294.4L1916.0 293.6L1916.1 292.8L1916.1 292.0L1916.0 291.3L1916.0 290.5L1915.9 289.8L1915.8 289.0L1915.6 288.3L1915.5 287.7L1915.3 287.0L1915.2 286.5L1915.0 285.9L1914.8 285.4L1914.6 284.9L1914.4 284.5L1914.2 284.1L1914.0 283.7L1913.8 283.4L1913.6 283.1L1913.4 282.8L1913.2 282.6L1913.0 282.4L1912.7 282.2L1912.5 282.0L1912.3 281.9L1912.0 281.8L1911.8 281.7L1911.6 281.6L1911.3 281.6L1911.0 281.6L1910.8 281.6L1910.5 281.6L1910.2 281.6L1909.8 281.7L1909.5 281.8L1909.1 281.9L1908.7 282.0ZM1906.9 234.0L1907.5 232.6L1908.1 231.5L1908.7 230.4L1909.4 229.6L1910.2 228.9L1911.0 228.3L1911.9 227.9L1912.8 227.7L1913.8 227.6L1914.7 227.6L1915.6 227.9L1916.5 228.4L1917.3 229.1L1918.1 229.9L1918.8 231.0L1919.5 232.2L1920.1 233.6L1920.4 234.9L1920.4 235.9L1920.0 236.8L1919.2 237.5L1918.1 238.1L1916.6 238.4L1914.8 238.6L1912.6 238.6L1910.8 238.4L1909.3 238.1L1908.1 237.6L1907.3 236.9L1906.8 236.1L1906.7 235.1ZM1887.0 389.0L1887.1 388.1L1887.2 387.2L1887.5 386.4L1887.9 385.5L1888.4 384.7L1889.1 383.9L1889.8 383.1L1890.6 382.4L1891.5 381.7L1892.5 381.1L1893.6 380.5L1894.8 379.9L1896.0 379.5L1897.3 379.1L1898.6 378.7L1900.0 378.4L1901.4 378.2L1902.8 378.1L1904.3 378.0L1905.7 378.0L1907.2 378.1L1908.6 378.2L1910.0 378.4L1911.4 378.7L1912.7 379.1L1914.0 379.5L1915.2 379.9L1916.4 380.5L1917.5 381.1L1918.5 381.7L1919.4 382.4L1920.2 383.1L1920.9 383.9L1921.6 384.7L1922.1 385.5L1922.5 386.4L1922.8 387.2L1922.9 388.1L1923.0 389.0M1892.0 389.0L1892.1 388.4L1892.2 387.7L1892.4 387.1L1892.7 386.5L1893.1 385.9L1893.5 385.3L1894.0 384.8L1894.6 384.2L1895.3 383.7L1896.0 383.3L1896.8 382.9L1897.6 382.5L1898.5 382.1L1899.4 381.8L1900.4 381.6L1901.4 381.4L1902.4 381.2L1903.4 381.1L1904.5 381.1L1905.5 381.1L1906.6 381.1L1907.6 381.2L1908.6 381.4L1909.6 381.6L1910.6 381.8L1911.5 382.1L1912.4 382.5L1913.2 382.9L1914.0 383.3L1914.7 383.7L1915.4 384.2L1916.0 384.8L1916.5 385.3L1916.9 385.9L1917.3 386.5L1917.6 387.1L1917.8 387.7L1917.9 388.4L1918.0 389.0" stroke="#323a86" stroke-width="1.35" fill="none"/>
</g>
<rect x="1825.8" y="60.8" width="282.2" height="325.7" fill="none" stroke="#111" stroke-width="2"/>
<path d="M1959.0 60.8V386.5M1825.8 238.0L2108.0 236.0" stroke="#111" stroke-width="1.8" fill="none"/>
<path d="M1817.8 380.1H1825.8M1817.8 370.1H1825.8M1817.8 362.2H1825.8M1817.8 355.8H1825.8M1817.8 350.4H1825.8M1817.8 345.7H1825.8M1817.8 341.6H1825.8M1810.8 337.9H1825.8M1817.8 313.6H1825.8M1817.8 299.3H1825.8M1817.8 289.3H1825.8M1817.8 281.4H1825.8M1817.8 275.0H1825.8M1817.8 269.6H1825.8M1817.8 264.9H1825.8M1817.8 260.8H1825.8M1810.8 257.1H1825.8M1817.8 232.8H1825.8M1817.8 218.5H1825.8M1817.8 208.5H1825.8M1817.8 200.6H1825.8M1817.8 194.2H1825.8M1817.8 188.8H1825.8M1817.8 184.1H1825.8M1817.8 180.0H1825.8M1810.8 176.3H1825.8M1817.8 152.0H1825.8M1817.8 137.7H1825.8M1817.8 127.7H1825.8M1817.8 119.8H1825.8M1817.8 113.4H1825.8M1817.8 108.0H1825.8M1817.8 103.3H1825.8M1817.8 99.2H1825.8M1810.8 95.5H1825.8M1817.8 71.2H1825.8M1837.2 386.5V396.5M1844.0 386.5V396.5M1849.6 386.5V396.5M1854.3 386.5V396.5M1858.4 386.5V396.5M1862.1 386.5V396.5M1865.3 386.5V403.0M1886.6 386.5V396.5M1899.0 386.5V396.5M1907.9 386.5V396.5M1914.7 386.5V396.5M1920.3 386.5V396.5M1925.0 386.5V396.5M1929.1 386.5V396.5M1932.8 386.5V396.5M1936.0 386.5V403.0M1957.3 386.5V396.5M1969.7 386.5V396.5M1978.6 386.5V396.5M1985.4 386.5V396.5M1991.0 386.5V396.5M1995.7 386.5V396.5M1999.8 386.5V396.5M2003.5 386.5V396.5M2006.7 386.5V403.0M2028.0 386.5V396.5M2040.4 386.5V396.5M2049.3 386.5V396.5M2056.1 386.5V396.5M2061.7 386.5V396.5M2066.4 386.5V396.5M2070.5 386.5V396.5M2074.2 386.5V396.5M2077.4 386.5V403.0M2098.7 386.5V396.5" stroke="#111" stroke-width="2" fill="none"/>
<g transform="translate(1808.5 347.1) rotate(-90)">
<text x="-0.85" y="0.00" font-size="16.50" font-weight="bold" fill="#1a1a1a" textLength="15.00" lengthAdjust="spacingAndGlyphs">10</text>
<text x="14.10" y="-10.20" font-size="16.50" font-weight="bold" fill="#1a1a1a" textLength="9.59" lengthAdjust="spacingAndGlyphs">2</text>
</g>
<g transform="translate(1808.5 266.3) rotate(-90)">
<text x="-0.85" y="0.00" font-size="16.50" font-weight="bold" fill="#1a1a1a" textLength="15.00" lengthAdjust="spacingAndGlyphs">10</text>
<text x="14.32" y="-10.20" font-size="16.50" font-weight="bold" fill="#1a1a1a" textLength="9.29" lengthAdjust="spacingAndGlyphs">3</text>
</g>
<g transform="translate(1808.5 185.5) rotate(-90)">
<text x="-0.85" y="0.00" font-size="16.50" font-weight="bold" fill="#1a1a1a" textLength="15.00" lengthAdjust="spacingAndGlyphs">10</text>
<text x="14.47" y="-10.20" font-size="16.50" font-weight="bold" fill="#1a1a1a" textLength="8.62" lengthAdjust="spacingAndGlyphs">4</text>
</g>
<g transform="translate(1808.5 104.7) rotate(-90)">
<text x="-0.85" y="0.00" font-size="16.50" font-weight="bold" fill="#1a1a1a" textLength="15.00" lengthAdjust="spacingAndGlyphs">10</text>
<text x="14.19" y="-10.20" font-size="16.50" font-weight="bold" fill="#1a1a1a" textLength="9.28" lengthAdjust="spacingAndGlyphs">5</text>
</g>
<text x="1853.73" y="421.10" font-size="16.00" font-weight="bold" fill="#1a1a1a" textLength="15.44" lengthAdjust="spacingAndGlyphs">10</text>
<text x="1868.81" y="411.20" font-size="14.00" font-weight="bold" fill="#1a1a1a" textLength="9.47" lengthAdjust="spacingAndGlyphs">2</text>
<text x="1924.43" y="421.10" font-size="16.00" font-weight="bold" fill="#1a1a1a" textLength="15.44" lengthAdjust="spacingAndGlyphs">10</text>
<text x="1939.72" y="411.20" font-size="14.00" font-weight="bold" fill="#1a1a1a" textLength="9.17" lengthAdjust="spacingAndGlyphs">3</text>
<text x="1995.13" y="421.10" font-size="16.00" font-weight="bold" fill="#1a1a1a" textLength="15.44" lengthAdjust="spacingAndGlyphs">10</text>
<text x="2010.57" y="411.20" font-size="14.00" font-weight="bold" fill="#1a1a1a" textLength="8.51" lengthAdjust="spacingAndGlyphs">4</text>
<text x="2065.83" y="421.10" font-size="16.00" font-weight="bold" fill="#1a1a1a" textLength="15.44" lengthAdjust="spacingAndGlyphs">10</text>
<text x="2080.99" y="411.20" font-size="14.00" font-weight="bold" fill="#1a1a1a" textLength="9.17" lengthAdjust="spacingAndGlyphs">5</text>
<path d="M2108.0 62.3V385.5" stroke="#fff" stroke-width="2.4"/>
<path d="M2107.5 62.0V385.5" stroke="#8a8a8a" stroke-width="2"/>
<clipPath id="fc2"><rect x="1469.3" y="434.0" width="280.4" height="327.0"/></clipPath><g clip-path="url(#fc2)">
<path d="M1597 444h2m-13 1h2m2 11h2m-6 14h2m34 2h2m-33 7h2m9 0h2m-10 3h2m-12 5h2m10 1h2m50 0h2m11 0h2m-85 1h2m15 0h2m21 0h2m-33 1h2m11 0h2m-14 1h2m-10 1h2m6 2h2m-17 1h2m4 0h2m47 0h2m-44 1h2m105 0h2m-108 1h2m5 0h2m-13 1h2m40 1h2m-35 1h2m0 0h2m23 0h2m67 0h2m-137 1h2m11 0h2m17 0h2m8 0h2m55 0h2m1 0h2m-78 1h2m6 0h2m3 0h2m7 0h2m75 0h2m-83 1h2m17 0h2m35 0h2m0 0h2m-57 1h2m45 0h2m4 0h2m2 0h2m-89 1h2m57 0h2m5 0h2m17 0h2m5 0h2m-101 1h2m19 0h2m-9 1h2m9 0h2m4 0h2m26 0h2m55 0h2m-92 1h2m6 0h2m-1 0h2m13 0h2m-1 0h2m7 0h2m3 0h2m14 0h2m-73 1h2m14 0h2m12 0h2m5 0h2m-1 0h2m0 0h2m0 0h2m13 0h2m1 0h2m11 0h2m-86 1h2m12 0h2m10 0h2m7 0h2m15 0h2m0 0h2m13 0h2m1 0h2m3 0h2m8 0h2m-43 1h2m44 0h2m17 0h2m2 0h2m-1 0h2m3 0h2m-91 1h2m4 0h2m18 0h2m2 0h2m7 0h2m5 0h2m4 0h2m1 0h2m4 0h2m25 0h2m-104 1h2m5 0h2m86 0h2m17 0h2m-99 1h2m1 0h2m-1 0h2m1 0h2m4 0h2m23 0h2m4 0h2m10 0h2m8 0h2m47 0h2m-132 1h2m6 0h2m20 0h2m3 0h2m-1 0h2m4 0h2m1 0h2m11 0h2m0 0h2m3 0h2m-1 0h2m3 0h2m3 0h2m6 0h2m-95 1h2m0 0h2m0 0h2m5 0h2m1 0h2m5 0h2m3 0h2m10 0h2m15 0h2m-1 0h2m0 0h2m3 0h2m15 0h2m-1 0h2m0 0h2m3 0h2m32 0h2m10 0h2m-134 1h2m3 0h2m5 0h2m14 0h2m1 0h2m-1 0h2m0 0h2m0 0h2m16 0h2m2 0h2m0 0h2m5 0h2m16 0h2m24 0h2m-100 1h2m1 0h2m1 0h2m4 0h2m20 0h2m3 0h2m0 0h2m48 0h2m-1 0h2m-85 1h2m7 0h2m11 0h2m8 0h2m1 0h2m1 0h2m6 0h2m-1 0h2m13 0h2m0 0h2m2 0h2m-1 0h2m6 0h2m-97 1h2m9 0h2m1 0h2m11 0h2m3 0h2m8 0h2m7 0h2m0 0h2m-1 0h2m1 0h2m8 0h2m3 0h2m1 0h2m8 0h2m4 0h2m1 0h2m-67 1h2m6 0h2m10 0h2m0 0h2m2 0h2m0 0h2m12 0h2m19 0h2m-88 1h2m10 0h2m12 0h2m3 0h2m2 0h2m-1 0h2m4 0h2m-1 0h2m7 0h2m3 0h2m0 0h2m0 0h2m0 0h2m-1 0h2m-1 0h2m-1 0h2m1 0h2m23 0h2m-113 1h2m17 0h2m2 0h2m16 0h2m-1 0h2m9 0h2m-1 0h2m-1 0h2m4 0h2m3 0h2m1 0h2m2 0h2m-1 0h2m1 0h2m0 0h2m-1 0h2m6 0h2m11 0h2m3 0h2m-1 0h2m-110 1h2m3 0h2m16 0h2m7 0h2m4 0h2m7 0h2m4 0h2m0 0h2m2 0h2m2 0h2m4 0h2m10 0h2m3 0h2m0 0h2m5 0h2m0 0h2m5 0h2m-1 0h2m-104 1h2m-1 0h2m2 0h2m19 0h2m0 0h2m0 0h2m5 0h2m29 0h2m-1 0h2m4 0h2m12 0h2m-1 0h2m22 0h2m-125 1h2m15 0h2m2 0h2m2 0h2m0 0h2m1 0h2m7 0h2m5 0h2m2 0h2m-1 0h2m3 0h2m-1 0h2m3 0h2m6 0h2m0 0h2m-1 0h2m-1 0h2m2 0h2m-1 0h2m6 0h2m3 0h2m22 0h2m19 0h2m-134 1h2m5 0h2m8 0h2m4 0h2m2 0h2m0 0h2m-1 0h2m-1 0h2m7 0h2m8 0h2m1 0h2m3 0h2m-1 0h2m1 0h2m1 0h2m-1 0h2m-1 0h2m0 0h2m-1 0h2m2 0h2m10 0h2m11 0h2m-83 1h2m1 0h2m7 0h2m5 0h2m2 0h2m9 0h2m3 0h2m-1 0h2m5 0h2m8 0h2m-1 0h2m-1 0h2m0 0h2m2 0h2m-1 0h2m1 0h2m3 0h2m5 0h2m-1 0h2m6 0h2m3 0h2m0 0h2m7 0h2m-118 1h2m11 0h2m9 0h2m4 0h2m0 0h2m-1 0h2m0 0h2m-1 0h2m2 0h2m3 0h2m-1 0h2m-1 0h2m6 0h2m0 0h2m3 0h2m1 0h2m14 0h2m4 0h2m6 0h2m2 0h2m-90 1h2m0 0h2m7 0h2m8 0h2m0 0h2m0 0h2m2 0h2m-1 0h2m2 0h2m-1 0h2m5 0h2m-1 0h2m3 0h2m-1 0h2m-1 0h2m2 0h2m2 0h2m2 0h2m1 0h2m10 0h2m17 0h2m-94 1h2m-1 0h2m-1 0h2m-1 0h2m7 0h2m3 0h2m-1 0h2m5 0h2m-1 0h2m-1 0h2m0 0h2m-1 0h2m0 0h2m0 0h2m-1 0h2m2 0h2m2 0h2m3 0h2m-1 0h2m6 0h2m-1 0h2m4 0h2m-1 0h2m3 0h2m-1 0h2m4 0h2m8 0h2m11 0h2m30 0h2m-146 1h2m2 0h2m1 0h2m3 0h2m6 0h2m0 0h2m9 0h2m14 0h2m2 0h2m6 0h2m0 0h2m2 0h2m13 0h2m-1 0h2m5 0h2m0 0h2m7 0h2m-109 1h2m8 0h2m3 0h2m15 0h2m4 0h2m1 0h2m5 0h2m1 0h2m-1 0h2m5 0h2m2 0h2m-1 0h2m8 0h2m-1 0h2m1 0h2m4 0h2m2 0h2m0 0h2m19 0h2m14 0h2m-144 1h2m26 0h2m0 0h2m11 0h2m8 0h2m1 0h2m-1 0h2m-1 0h2m0 0h2m-1 0h2m0 0h2m1 0h2m1 0h2m0 0h2m0 0h2m-1 0h2m-1 0h2m-1 0h2m-1 0h2m-1 0h2m-1 0h2m5 0h2m5 0h2m-1 0h2m9 0h2m-1 0h2m6 0h2m4 0h2m-92 1h2m1 0h2m8 0h2m2 0h2m7 0h2m0 0h2m0 0h2m-1 0h2m0 0h2m3 0h2m4 0h2m0 0h2m0 0h2m-1 0h2m0 0h2m0 0h2m0 0h2m0 0h2m1 0h2m0 0h2m2 0h2m3 0h2m7 0h2m1 0h2m1 0h2m9 0h2m36 0h2m-143 1h2m27 0h2m0 0h2m-1 0h2m-1 0h2m0 0h2m5 0h2m-1 0h2m0 0h2m0 0h2m-1 0h2m-1 0h2m-1 0h2m1 0h2m-1 0h2m-1 0h2m0 0h2m1 0h2m1 0h2m-1 0h2m-1 0h2m2 0h2m0 0h2m0 0h2m4 0h2m2 0h2m34 0h2m-109 1h2m5 0h2m1 0h2m-1 0h2m5 0h2m2 0h2m3 0h2m1 0h2m-1 0h2m0 0h2m-1 0h2m1 0h2m2 0h2m0 0h2m-1 0h2m-1 0h2m7 0h2m1 0h2m0 0h2m3 0h2m13 0h2m0 0h2m-92 1h2m1 0h2m0 0h2m3 0h2m6 0h2m-1 0h2m5 0h2m0 0h2m-1 0h2m-1 0h2m-1 0h2m1 0h2m3 0h2m21 0h2m1 0h2m-1 0h2m2 0h2m-1 0h2m-1 0h2m4 0h2m1 0h2m-1 0h2m9 0h2m15 0h2m19 0h2m-132 1h2m9 0h2m-1 0h2m0 0h2m5 0h2m-1 0h2m-1 0h2m0 0h2m-1 0h2m39 0h2m3 0h2m-1 0h2m2 0h2m5 0h2m2 0h2m-95 1h2m16 0h2m1 0h2m-1 0h2m52 0h2m-1 0h2m1 0h2m3 0h2m2 0h2m28 0h2m-119 1h2m-1 0h2m-1 0h2m3 0h2m13 0h2m-1 0h2m0 0h2m49 0h2m-1 0h2m0 0h2m0 0h2m-1 0h2m-1 0h2m0 0h2m0 0h2m-93 1h2m2 0h2m1 0h2m2 0h2m4 0h2m1 0h2m-1 0h2m-1 0h2m59 0h2m0 0h2m-1 0h2m0 0h2m45 0h2m-127 1h2m3 0h2m3 0h2m-1 0h2m1 0h2m59 0h2m0 0h2m0 0h2m0 0h2m0 0h2m1 0h2m-115 1h2m16 0h2m9 0h2m4 0h2m7 0h2m56 0h2m9 0h2m4 0h2m-1 0h2m-1 0h2m-126 1h2m3 0h2m24 0h2m75 0h2m1 0h2m0 0h2m-1 0h2m-1 0h2m-96 1h2m2 0h2m6 0h2m0 0h2m8 0h2m59 0h2m-1 0h2m9 0h2m29 0h2m-150 1h2m23 0h2m5 0h2m-1 0h2m-1 0h2m1 0h2m2 0h2m63 0h2m0 0h2m-88 1h2m1 0h2m6 0h2m4 0h2m-1 0h2m64 0h2m2 0h2m7 0h2m-103 1h2m2 0h2m-1 0h2m6 0h2m4 0h2m1 0h2m-1 0h2m0 0h2m0 0h2m75 0h2m-135 1h2m38 0h2m0 0h2m0 0h2m-1 0h2m-1 0h2m-1 0h2m0 0h2m0 0h2m-1 0h2m65 0h2m-1 0h2m0 0h2m-1 0h2m18 0h2m-130 1h2m29 0h2m2 0h2m3 0h2m-1 0h2m62 0h2m-94 1h2m2 0h2m7 0h2m3 0h2m0 0h2m0 0h2m0 0h2m-1 0h2m-1 0h2m64 0h2m-1 0h2m0 0h2m-92 1h2m5 0h2m-1 0h2m2 0h2m0 0h2m7 0h2m62 0h2m2 0h2m-112 1h2m21 0h2m0 0h2m0 0h2m7 0h2m-1 0h2m66 0h2m0 0h2m0 0h2m1 0h2m7 0h2m-110 1h2m3 0h2m3 0h2m2 0h2m-1 0h2m-1 0h2m-1 0h2m1 0h2m-1 0h2m-1 0h2m2 0h2m1 0h2m62 0h2m3 0h2m-111 1h2m9 0h2m5 0h2m4 0h2m-1 0h2m0 0h2m9 0h2m0 0h2m63 0h2m30 0h2m-132 1h2m4 0h2m7 0h2m4 0h2m6 0h2m66 0h2m6 0h2m-100 1h2m-1 0h2m2 0h2m1 0h2m0 0h2m0 0h2m11 0h2m-25 1h2m0 0h2m1 0h2m5 0h2m4 0h2m-1 0h2m-1 0h2m1 0h2m64 0h2m28 0h2m-145 1h2m4 0h2m10 0h2m3 0h2m3 0h2m-1 0h2m2 0h2m-1 0h2m-1 0h2m-1 0h2m5 0h2m-1 0h2m-1 0h2m-1 0h2m66 0h2m0 0h2m7 0h2m-98 1h2m0 0h2m-1 0h2m0 0h2m77 0h2m1 0h2m2 0h2m9 0h2m-123 1h2m16 0h2m-1 0h2m0 0h2m-1 0h2m-1 0h2m-1 0h2m7 0h2m-1 0h2m-1 0h2m0 0h2m64 0h2m-1 0h2m0 0h2m-100 1h2m8 0h2m1 0h2m0 0h2m-1 0h2m-1 0h2m6 0h2m1 0h2m66 0h2m-1 0h2m0 0h2m1 0h2m-1 0h2m8 0h2m-115 1h2m3 0h2m-1 0h2m2 0h2m1 0h2m-1 0h2m-1 0h2m-1 0h2m-1 0h2m8 0h2m-1 0h2m68 0h2m-120 1h2m22 0h2m0 0h2m-1 0h2m5 0h2m-1 0h2m-1 0h2m-1 0h2m7 0h2m74 0h2m8 0h2m5 0h2m-144 1h2m30 0h2m-1 0h2m-1 0h2m0 0h2m0 0h2m-1 0h2m-1 0h2m77 0h2m16 0h2m-116 1h2m3 0h2m1 0h2m-1 0h2m2 0h2m-1 0h2m-1 0h2m-1 0h2m-1 0h2m76 0h2m2 0h2m-102 1h2m6 0h2m1 0h2m2 0h2m1 0h2m8 0h2m-1 0h2m-93 1h2m54 0h2m3 0h2m3 0h2m1 0h2m-1 0h2m2 0h2m1 0h2m12 0h2m75 0h2m-114 1h2m1 0h2m4 0h2m-1 0h2m4 0h2m0 0h2m0 0h2m-1 0h2m79 0h2m-1 0h2m-1 0h2m2 0h2m-92 1h2m1 0h2m-1 0h2m-1 0h2m11 0h2m68 0h2m19 0h2m-145 1h2m26 0h2m2 0h2m1 0h2m-1 0h2m-1 0h2m-1 0h2m-1 0h2m8 0h2m-1 0h2m-1 0h2m84 0h2m7 0h2m-140 1h2m6 0h2m12 0h2m1 0h2m0 0h2m0 0h2m-1 0h2m82 0h2m-1 0h2m-113 1h2m4 0h2m7 0h2m3 0h2m-1 0h2m0 0h2m2 0h2m9 0h2m67 0h2m16 0h2m-128 1h2m9 0h2m3 0h2m2 0h2m-1 0h2m0 0h2m-1 0h2m2 0h2m9 0h2m-1 0h2m-1 0h2m67 0h2m10 0h2m0 0h2m-106 1h2m-1 0h2m2 0h2m-1 0h2m10 0h2m1 0h2m66 0h2m0 0h2m-1 0h2m-104 1h2m11 0h2m2 0h2m-16 1h2m1 0h2m0 0h2m2 0h2m-1 0h2m-1 0h2m-1 0h2m-1 0h2m-1 0h2m-1 0h2m8 0h2m69 0h2m10 0h2m1 0h2m-118 1h2m3 0h2m0 0h2m1 0h2m-1 0h2m2 0h2m-1 0h2m-1 0h2m-1 0h2m1 0h2m9 0h2m66 0h2m0 0h2m21 0h2m-136 1h2m5 0h2m12 0h2m-1 0h2m-1 0h2m1 0h2m-1 0h2m1 0h2m9 0h2m-1 0h2m66 0h2m0 0h2m12 0h2m8 0h2m-125 1h2m6 0h2m0 0h2m0 0h2m-1 0h2m0 0h2m9 0h2m0 0h2m68 0h2m-1 0h2m2 0h2m-1 0h2m3 0h2m-120 1h2m10 0h2m3 0h2m1 0h2m-1 0h2m0 0h2m-1 0h2m0 0h2m9 0h2m77 0h2m0 0h2m-147 1h2m42 0h2m-1 0h2m1 0h2m-1 0h2m-1 0h2m10 0h2m0 0h2m-1 0h2m74 0h2m-120 1h2m6 0h2m15 0h2m1 0h2m0 0h2m6 0h2m-1 0h2m-1 0h2m-1 0h2m73 0h2m4 0h2m-126 1h2m16 0h2m3 0h2m-1 0h2m1 0h2m2 0h2m-1 0h2m-1 0h2m5 0h2m69 0h2m6 0h2m8 0h2m-138 1h2m4 0h2m10 0h2m10 0h2m0 0h2m3 0h2m-1 0h2m-1 0h2m-1 0h2m7 0h2m0 0h2m65 0h2m-1 0h2m1 0h2m-104 1h2m5 0h2m0 0h2m-1 0h2m-1 0h2m0 0h2m-1 0h2m-1 0h2m0 0h2m-1 0h2m-1 0h2m-1 0h2m5 0h2m0 0h2m0 0h2m65 0h2m2 0h2m-125 1h2m16 0h2m7 0h2m-1 0h2m1 0h2m0 0h2m2 0h2m-1 0h2m-1 0h2m-1 0h2m-1 0h2m-1 0h2m0 0h2m3 0h2m0 0h2m71 0h2m2 0h2m-100 1h2m0 0h2m-1 0h2m0 0h2m2 0h2m-1 0h2m1 0h2m1 0h2m-1 0h2m-1 0h2m1 0h2m66 0h2m1 0h2m1 0h2m0 0h2m-101 1h2m0 0h2m1 0h2m-1 0h2m3 0h2m-1 0h2m0 0h2m2 0h2m-1 0h2m1 0h2m0 0h2m82 0h2m-109 1h2m-1 0h2m3 0h2m0 0h2m0 0h2m-1 0h2m0 0h2m-1 0h2m1 0h2m3 0h2m66 0h2m-1 0h2m2 0h2m6 0h2m3 0h2m-182 1h2m66 0h2m0 0h2m4 0h2m0 0h2m-1 0h2m0 0h2m1 0h2m-1 0h2m-1 0h2m2 0h2m-1 0h2m2 0h2m-58 1h2m19 0h2m4 0h2m0 0h2m0 0h2m2 0h2m-1 0h2m-1 0h2m-1 0h2m2 0h2m-1 0h2m0 0h2m-1 0h2m1 0h2m-1 0h2m1 0h2m-1 0h2m-1 0h2m70 0h2m-1 0h2m-201 1h2m82 0h2m15 0h2m7 0h2m3 0h2m-1 0h2m1 0h2m0 0h2m-1 0h2m-1 0h2m-1 0h2m-1 0h2m68 0h2m2 0h2m-1 0h2m29 0h2m6 0h2m-143 1h2m-1 0h2m-1 0h2m-1 0h2m2 0h2m0 0h2m0 0h2m-1 0h2m-1 0h2m0 0h2m2 0h2m1 0h2m-1 0h2m-1 0h2m0 0h2m-1 0h2m73 0h2m-1 0h2m-1 0h2m7 0h2m-116 1h2m11 0h2m-1 0h2m-1 0h2m-1 0h2m0 0h2m0 0h2m-1 0h2m3 0h2m0 0h2m0 0h2m66 0h2m0 0h2m-1 0h2m-1 0h2m-1 0h2m10 0h2m-161 1h2m50 0h2m1 0h2m0 0h2m0 0h2m-1 0h2m-1 0h2m7 0h2m-1 0h2m0 0h2m-1 0h2m70 0h2m-176 1h2m54 0h2m19 0h2m7 0h2m1 0h2m-1 0h2m-1 0h2m0 0h2m-1 0h2m1 0h2m1 0h2m-1 0h2m67 0h2m-1 0h2m-1 0h2m-124 1h2m4 0h2m12 0h2m3 0h2m3 0h2m5 0h2m2 0h2m-1 0h2m1 0h2m3 0h2m-1 0h2m-1 0h2m69 0h2m-1 0h2m-105 1h2m5 0h2m2 0h2m0 0h2m0 0h2m1 0h2m2 0h2m1 0h2m0 0h2m-1 0h2m-1 0h2m-1 0h2m-1 0h2m66 0h2m0 0h2m-151 1h2m47 0h2m1 0h2m-1 0h2m-1 0h2m1 0h2m0 0h2m2 0h2m4 0h2m0 0h2m3 0h2m-1 0h2m0 0h2m66 0h2m-1 0h2m-1 0h2m6 0h2m-125 1h2m4 0h2m15 0h2m0 0h2m0 0h2m-1 0h2m0 0h2m-1 0h2m0 0h2m0 0h2m-1 0h2m5 0h2m84 0h2m-116 1h2m-1 0h2m4 0h2m-1 0h2m-1 0h2m2 0h2m5 0h2m-1 0h2m5 0h2m-1 0h2m-1 0h2m75 0h2m-1 0h2m-200 1h2m91 0h2m5 0h2m2 0h2m0 0h2m1 0h2m0 0h2m0 0h2m-1 0h2m-1 0h2m-1 0h2m-1 0h2m1 0h2m66 0h2m-1 0h2m0 0h2m9 0h2m-131 1h2m0 0h2m3 0h2m0 0h2m2 0h2m7 0h2m3 0h2m-1 0h2m1 0h2m2 0h2m2 0h2m0 0h2m-1 0h2m0 0h2m1 0h2m67 0h2m2 0h2m-111 1h2m13 0h2m-1 0h2m-1 0h2m-1 0h2m1 0h2m2 0h2m4 0h2m1 0h2m-1 0h2m-1 0h2m69 0h2m4 0h2m6 0h2m-148 1h2m16 0h2m11 0h2m1 0h2m-1 0h2m1 0h2m0 0h2m-1 0h2m2 0h2m0 0h2m-1 0h2m0 0h2m0 0h2m0 0h2m0 0h2m0 0h2m-1 0h2m68 0h2m-1 0h2m3 0h2m0 0h2m-112 1h2m2 0h2m4 0h2m9 0h2m1 0h2m-1 0h2m-1 0h2m0 0h2m-1 0h2m2 0h2m-1 0h2m67 0h2m-1 0h2m-1 0h2m-1 0h2m-99 1h2m1 0h2m1 0h2m1 0h2m-1 0h2m8 0h2m2 0h2m-1 0h2m66 0h2m1 0h2m-99 1h2m0 0h2m1 0h2m2 0h2m7 0h2m-1 0h2m4 0h2m75 0h2m-118 1h2m4 0h2m9 0h2m0 0h2m17 0h2m68 0h2m4 0h2m-1 0h2m-178 1h2m20 0h2m1 0h2m58 0h2m1 0h2m-1 0h2m0 0h2m-1 0h2m-1 0h2m0 0h2m-1 0h2m0 0h2m-1 0h2m0 0h2m67 0h2m-1 0h2m-1 0h2m-1 0h2m2 0h2m-114 1h2m7 0h2m6 0h2m3 0h2m-1 0h2m3 0h2m-1 0h2m0 0h2m3 0h2m66 0h2m12 0h2m-180 1h2m54 0h2m-1 0h2m22 0h2m-1 0h2m4 0h2m-1 0h2m-1 0h2m0 0h2m69 0h2m-1 0h2m16 0h2m-124 1h2m11 0h2m2 0h2m2 0h2m5 0h2m1 0h2m2 0h2m-1 0h2m66 0h2m8 0h2m1 0h2m-113 1h2m3 0h2m3 0h2m4 0h2m-1 0h2m0 0h2m2 0h2m-1 0h2m-1 0h2m1 0h2m-1 0h2m-1 0h2m67 0h2m0 0h2m-1 0h2m0 0h2m-118 1h2m0 0h2m12 0h2m4 0h2m9 0h2m4 0h2m1 0h2m65 0h2m0 0h2m-1 0h2m-1 0h2m1 0h2m6 0h2m22 0h2m-240 1h2m82 0h2m25 0h2m-1 0h2m-1 0h2m11 0h2m-1 0h2m-1 0h2m-1 0h2m0 0h2m66 0h2m-1 0h2m8 0h2m35 0h2m2 0h2m-224 1h2m12 0h2m42 0h2m20 0h2m7 0h2m5 0h2m0 0h2m-1 0h2m0 0h2m69 0h2m-1 0h2m6 0h2m3 0h2m-107 1h2m0 0h2m2 0h2m1 0h2m3 0h2m0 0h2m-1 0h2m-1 0h2m0 0h2m73 0h2m0 0h2m-120 1h2m5 0h2m10 0h2m6 0h2m-1 0h2m-1 0h2m-1 0h2m5 0h2m2 0h2m67 0h2m0 0h2m1 0h2m-163 1h2m41 0h2m1 0h2m7 0h2m5 0h2m5 0h2m5 0h2m0 0h2m-1 0h2m0 0h2m1 0h2m0 0h2m-1 0h2m0 0h2m68 0h2m3 0h2m-98 1h2m6 0h2m0 0h2m0 0h2m0 0h2m1 0h2m1 0h2m-1 0h2m67 0h2m0 0h2m10 0h2m-109 1h2m1 0h2m-1 0h2m1 0h2m0 0h2m-1 0h2m5 0h2m-1 0h2m2 0h2m67 0h2m9 0h2m-120 1h2m6 0h2m7 0h2m-1 0h2m1 0h2m-1 0h2m-1 0h2m-1 0h2m4 0h2m-1 0h2m-1 0h2m72 0h2m0 0h2m4 0h2m-114 1h2m6 0h2m10 0h2m0 0h2m0 0h2m0 0h2m0 0h2m0 0h2m3 0h2m-1 0h2m0 0h2m67 0h2m2 0h2m-1 0h2m0 0h2m-151 1h2m8 0h2m35 0h2m0 0h2m11 0h2m2 0h2m3 0h2m0 0h2m64 0h2m0 0h2m3 0h2m6 0h2m-126 1h2m24 0h2m-1 0h2m1 0h2m-1 0h2m1 0h2m2 0h2m2 0h2m65 0h2m-168 1h2m63 0h2m7 0h2m3 0h2m7 0h2m4 0h2m1 0h2m68 0h2m6 0h2m-1 0h2m12 0h2m-124 1h2m1 0h2m-1 0h2m-1 0h2m1 0h2m0 0h2m0 0h2m0 0h2m1 0h2m-1 0h2m0 0h2m-1 0h2m-1 0h2m-1 0h2m1 0h2m-1 0h2m-1 0h2m-1 0h2m0 0h2m-1 0h2m72 0h2m5 0h2m-199 1h2m94 0h2m0 0h2m-1 0h2m-1 0h2m0 0h2m-1 0h2m2 0h2m-1 0h2m1 0h2m-1 0h2m-1 0h2m-1 0h2m67 0h2m-1 0h2m0 0h2m-1 0h2m52 0h2m-170 1h2m25 0h2m-1 0h2m0 0h2m1 0h2m1 0h2m0 0h2m-1 0h2m79 0h2m3 0h2m-195 1h2m5 0h2m64 0h2m0 0h2m1 0h2m13 0h2m1 0h2m-1 0h2m1 0h2m0 0h2m0 0h2m1 0h2m-1 0h2m-1 0h2m-1 0h2m-1 0h2m64 0h2m2 0h2m0 0h2m2 0h2m1 0h2m-178 1h2m51 0h2m2 0h2m12 0h2m0 0h2m3 0h2m-1 0h2m0 0h2m2 0h2m5 0h2m1 0h2m-1 0h2m72 0h2m-133 1h2m33 0h2m2 0h2m4 0h2m-1 0h2m0 0h2m0 0h2m-1 0h2m3 0h2m0 0h2m66 0h2m4 0h2m11 0h2m-214 1h2m46 0h2m4 0h2m43 0h2m5 0h2m-1 0h2m1 0h2m-1 0h2m4 0h2m0 0h2m0 0h2m1 0h2m-1 0h2m65 0h2m-1 0h2m2 0h2m-1 0h2m0 0h2m4 0h2m-149 1h2m28 0h2m1 0h2m6 0h2m4 0h2m-1 0h2m0 0h2m2 0h2m1 0h2m-1 0h2m-1 0h2m3 0h2m68 0h2m-1 0h2m12 0h2m-211 1h2m97 0h2m5 0h2m4 0h2m1 0h2m0 0h2m3 0h2m-1 0h2m67 0h2m1 0h2m2 0h2m6 0h2m-107 1h2m0 0h2m1 0h2m2 0h2m-1 0h2m1 0h2m3 0h2m-1 0h2m-1 0h2m0 0h2m77 0h2m-1 0h2m27 0h2m-179 1h2m44 0h2m2 0h2m8 0h2m2 0h2m3 0h2m67 0h2m0 0h2m9 0h2m-103 1h2m0 0h2m1 0h2m2 0h2m7 0h2m0 0h2m65 0h2m27 0h2m-156 1h2m23 0h2m23 0h2m0 0h2m-1 0h2m1 0h2m65 0h2m1 0h2m8 0h2m0 0h2m-138 1h2m13 0h2m5 0h2m5 0h2m3 0h2m0 0h2m2 0h2m-1 0h2m7 0h2m4 0h2m63 0h2m15 0h2m0 0h2m10 0h2m-210 1h2m51 0h2m8 0h2m28 0h2m7 0h2m2 0h2m2 0h2m0 0h2m63 0h2m-1 0h2m0 0h2m2 0h2m-1 0h2m6 0h2m-126 1h2m6 0h2m13 0h2m3 0h2m-1 0h2m-1 0h2m2 0h2m5 0h2m65 0h2m1 0h2m3 0h2m0 0h2m-101 1h2m17 0h2m2 0h2m64 0h2m-1 0h2m-1 0h2m3 0h2m11 0h2m19 0h2m-119 1h2m3 0h2m-1 0h2m-1 0h2m2 0h2m64 0h2m2 0h2m1 0h2m-98 1h2m-1 0h2m3 0h2m4 0h2m1 0h2m2 0h2m67 0h2m0 0h2m-109 1h2m15 0h2m1 0h2m4 0h2m0 0h2m-1 0h2m1 0h2m-1 0h2m4 0h2m64 0h2m0 0h2m2 0h2m-1 0h2m4 0h2m6 0h2m-115 1h2m2 0h2m1 0h2m4 0h2m1 0h2m-1 0h2m0 0h2m-1 0h2m4 0h2m0 0h2m63 0h2m0 0h2m-1 0h2m0 0h2m2 0h2m-96 1h2m0 0h2m-1 0h2m-1 0h2m-1 0h2m1 0h2m4 0h2m-1 0h2m0 0h2m65 0h2m3 0h2m2 0h2m0 0h2m-88 1h2m1 0h2m2 0h2m-1 0h2m-1 0h2m-1 0h2m73 0h2m2 0h2m-1 0h2m-110 1h2m8 0h2m2 0h2m0 0h2m0 0h2m0 0h2m-1 0h2m-1 0h2m-1 0h2m1 0h2m-1 0h2m68 0h2m3 0h2m-116 1h2m17 0h2m1 0h2m2 0h2m4 0h2m0 0h2m0 0h2m0 0h2m-1 0h2m0 0h2m61 0h2m-155 1h2m23 0h2m20 0h2m11 0h2m8 0h2m7 0h2m0 0h2m5 0h2m0 0h2m63 0h2m2 0h2m2 0h2m-1 0h2m15 0h2m-144 1h2m3 0h2m25 0h2m2 0h2m2 0h2m4 0h2m2 0h2m-1 0h2m67 0h2m0 0h2m3 0h2m-112 1h2m-1 0h2m4 0h2m-1 0h2m2 0h2m4 0h2m-1 0h2m-1 0h2m-1 0h2m5 0h2m4 0h2m68 0h2m10 0h2m8 0h2m8 0h2m-142 1h2m18 0h2m1 0h2m0 0h2m-1 0h2m5 0h2m66 0h2m1 0h2m0 0h2m6 0h2m-120 1h2m8 0h2m8 0h2m10 0h2m0 0h2m1 0h2m0 0h2m1 0h2m62 0h2m-1 0h2m-1 0h2m6 0h2m1 0h2m1 0h2m15 0h2m-123 1h2m7 0h2m0 0h2m-1 0h2m0 0h2m8 0h2m62 0h2m9 0h2m-162 1h2m40 0h2m9 0h2m12 0h2m2 0h2m-1 0h2m0 0h2m3 0h2m1 0h2m1 0h2m62 0h2m0 0h2m-1 0h2m-1 0h2m1 0h2m-203 1h2m87 0h2m2 0h2m12 0h2m0 0h2m2 0h2m2 0h2m2 0h2m7 0h2m60 0h2m-1 0h2m3 0h2m1 0h2m0 0h2m-93 1h2m0 0h2m3 0h2m0 0h2m2 0h2m0 0h2m0 0h2m-1 0h2m60 0h2m1 0h2m-1 0h2m14 0h2m2 0h2m-111 1h2m3 0h2m3 0h2m0 0h2m0 0h2m5 0h2m0 0h2m62 0h2m19 0h2m-204 1h2m52 0h2m35 0h2m7 0h2m3 0h2m1 0h2m5 0h2m-1 0h2m-1 0h2m60 0h2m0 0h2m1 0h2m-1 0h2m4 0h2m11 0h2m-119 1h2m9 0h2m2 0h2m-1 0h2m2 0h2m-1 0h2m5 0h2m66 0h2m6 0h2m19 0h2m-140 1h2m9 0h2m7 0h2m7 0h2m-1 0h2m-1 0h2m4 0h2m0 0h2m0 0h2m0 0h2m61 0h2m-180 1h2m61 0h2m18 0h2m8 0h2m-1 0h2m1 0h2m3 0h2m2 0h2m2 0h2m3 0h2m64 0h2m-1 0h2m7 0h2m-192 1h2m74 0h2m6 0h2m6 0h2m4 0h2m3 0h2m6 0h2m-1 0h2m-1 0h2m0 0h2m58 0h2m10 0h2m-166 1h2m61 0h2m8 0h2m-1 0h2m5 0h2m3 0h2m-1 0h2m1 0h2m-1 0h2m62 0h2m2 0h2m-110 1h2m-1 0h2m12 0h2m2 0h2m7 0h2m3 0h2m0 0h2m4 0h2m65 0h2m-173 1h2m76 0h2m2 0h2m5 0h2m1 0h2m2 0h2m3 0h2m-1 0h2m-1 0h2m59 0h2m0 0h2m0 0h2m3 0h2m16 0h2m-156 1h2m21 0h2m21 0h2m16 0h2m-1 0h2m0 0h2m61 0h2m-129 1h2m40 0h2m-1 0h2m8 0h2m1 0h2m-1 0h2m4 0h2m59 0h2m-104 1h2m8 0h2m2 0h2m4 0h2m4 0h2m1 0h2m-1 0h2m1 0h2m6 0h2m-1 0h2m58 0h2m1 0h2m-196 1h2m77 0h2m27 0h2m12 0h2m0 0h2m-1 0h2m1 0h2m0 0h2m61 0h2m-1 0h2m-1 0h2m-1 0h2m15 0h2m-132 1h2m7 0h2m0 0h2m7 0h2m4 0h2m5 0h2m0 0h2m2 0h2m1 0h2m0 0h2m2 0h2m-1 0h2m57 0h2m2 0h2m12 0h2m-1 0h2m-125 1h2m15 0h2m3 0h2m1 0h2m1 0h2m5 0h2m-1 0h2m5 0h2m-1 0h2m-1 0h2m56 0h2m3 0h2m20 0h2m2 0h2m-147 1h2m6 0h2m9 0h2m1 0h2m7 0h2m3 0h2m9 0h2m0 0h2m2 0h2m1 0h2m-1 0h2m55 0h2m7 0h2m-113 1h2m17 0h2m-1 0h2m0 0h2m4 0h2m3 0h2m2 0h2m0 0h2m-1 0h2m3 0h2m54 0h2m2 0h2m2 0h2m-78 1h2m-1 0h2m2 0h2m0 0h2m-1 0h2m1 0h2m-1 0h2m58 0h2m-1 0h2m1 0h2m3 0h2m1 0h2m17 0h2m-200 1h2m80 0h2m4 0h2m8 0h2m4 0h2m-1 0h2m-1 0h2m57 0h2m-124 1h2m37 0h2m11 0h2m7 0h2m-1 0h2m0 0h2m-1 0h2m53 0h2m-1 0h2m4 0h2m-121 1h2m25 0h2m5 0h2m8 0h2m0 0h2m1 0h2m61 0h2m2 0h2m-94 1h2m12 0h2m-1 0h2m-1 0h2m-1 0h2m0 0h2m2 0h2m5 0h2m55 0h2m1 0h2m2 0h2m-195 1h2m90 0h2m34 0h2m0 0h2m-1 0h2m53 0h2m-1 0h2m5 0h2m-90 1h2m8 0h2m0 0h2m0 0h2m10 0h2m-1 0h2m60 0h2m1 0h2m1 0h2m2 0h2m-202 1h2m63 0h2m28 0h2m0 0h2m25 0h2m0 0h2m0 0h2m53 0h2m-1 0h2m14 0h2m2 0h2m-213 1h2m5 0h2m102 0h2m13 0h2m0 0h2m0 0h2m3 0h2m50 0h2m0 0h2m-1 0h2m-1 0h2m0 0h2m-1 0h2m-1 0h2m0 0h2m-1 0h2m-102 1h2m9 0h2m8 0h2m-1 0h2m1 0h2m0 0h2m0 0h2m2 0h2m-1 0h2m1 0h2m49 0h2m-1 0h2m0 0h2m4 0h2m-152 1h2m35 0h2m33 0h2m15 0h2m-1 0h2m52 0h2m-1 0h2m-1 0h2m43 0h2m-223 1h2m71 0h2m16 0h2m8 0h2m7 0h2m1 0h2m-1 0h2m0 0h2m2 0h2m0 0h2m-92 1h2m29 0h2m20 0h2m7 0h2m-1 0h2m10 0h2m-1 0h2m1 0h2m0 0h2m-1 0h2m2 0h2m1 0h2m47 0h2m7 0h2m-175 1h2m68 0h2m29 0h2m4 0h2m7 0h2m45 0h2m1 0h2m-1 0h2m-1 0h2m-89 1h2m1 0h2m22 0h2m0 0h2m1 0h2m1 0h2m-1 0h2m69 0h2m-151 1h2m44 0h2m15 0h2m3 0h2m0 0h2m5 0h2m0 0h2m42 0h2m0 0h2m1 0h2m-1 0h2m2 0h2m7 0h2m10 0h2m-99 1h2m0 0h2m2 0h2m2 0h2m3 0h2m0 0h2m47 0h2m1 0h2m0 0h2m13 0h2m-96 1h2m18 0h2m-1 0h2m0 0h2m5 0h2m41 0h2m0 0h2m1 0h2m13 0h2m-141 1h2m39 0h2m5 0h2m3 0h2m16 0h2m0 0h2m1 0h2m0 0h2m59 0h2m-113 1h2m16 0h2m10 0h2m-1 0h2m1 0h2m10 0h2m1 0h2m59 0h2m-1 0h2m-1 0h2m-86 1h2m-1 0h2m9 0h2m3 0h2m0 0h2m0 0h2m0 0h2m-47 1h2m13 0h2m8 0h2m-1 0h2m-1 0h2m6 0h2m1 0h2m5 0h2m35 0h2m-1 0h2m1 0h2m2 0h2m6 0h2m3 0h2m0 0h2m-159 1h2m75 0h2m17 0h2m1 0h2m32 0h2m-1 0h2m4 0h2m0 0h2m24 0h2m-159 1h2m13 0h2m18 0h2m0 0h2m21 0h2m12 0h2m0 0h2m-1 0h2m1 0h2m3 0h2m-1 0h2m34 0h2m7 0h2m-141 1h2m63 0h2m26 0h2m-1 0h2m-1 0h2m32 0h2m-1 0h2m-1 0h2m-1 0h2m0 0h2m4 0h2m0 0h2m0 0h2m2 0h2m6 0h2m41 0h2m-236 1h2m42 0h2m26 0h2m15 0h2m12 0h2m11 0h2m0 0h2m1 0h2m5 0h2m-1 0h2m-1 0h2m-1 0h2m0 0h2m27 0h2m-1 0h2m-1 0h2m-1 0h2m-1 0h2m3 0h2m4 0h2m-1 0h2m-1 0h2m-1 0h2m6 0h2m14 0h2m-164 1h2m37 0h2m13 0h2m6 0h2m0 0h2m3 0h2m0 0h2m7 0h2m10 0h2m25 0h2m-1 0h2m-1 0h2m4 0h2m0 0h2m6 0h2m6 0h2m11 0h2m-113 1h2m3 0h2m10 0h2m8 0h2m0 0h2m0 0h2m4 0h2m-1 0h2m3 0h2m2 0h2m26 0h2m5 0h2m-1 0h2m-1 0h2m9 0h2m6 0h2m1 0h2m1 0h2m6 0h2m-115 1h2m5 0h2m0 0h2m3 0h2m19 0h2m-1 0h2m5 0h2m21 0h2m1 0h2m1 0h2m0 0h2m6 0h2m0 0h2m2 0h2m-93 1h2m2 0h2m11 0h2m0 0h2m2 0h2m-1 0h2m1 0h2m-1 0h2m3 0h2m5 0h2m0 0h2m0 0h2m1 0h2m-1 0h2m-1 0h2m15 0h2m1 0h2m-1 0h2m3 0h2m14 0h2m-1 0h2m0 0h2m0 0h2m0 0h2m1 0h2m-89 1h2m11 0h2m3 0h2m1 0h2m3 0h2m-1 0h2m8 0h2m11 0h2m-1 0h2m-1 0h2m-1 0h2m1 0h2m8 0h2m-101 1h2m25 0h2m-1 0h2m8 0h2m12 0h2m1 0h2m13 0h2m1 0h2m1 0h2m0 0h2m1 0h2m-1 0h2m1 0h2m7 0h2m1 0h2m-1 0h2m0 0h2m-1 0h2m11 0h2m2 0h2m1 0h2m8 0h2m20 0h2m-175 1h2m8 0h2m19 0h2m14 0h2m3 0h2m10 0h2m5 0h2m6 0h2m0 0h2m0 0h2m0 0h2m0 0h2m2 0h2m0 0h2m-1 0h2m-1 0h2m2 0h2m-1 0h2m-1 0h2m-1 0h2m-1 0h2m0 0h2m2 0h2m1 0h2m3 0h2m5 0h2m6 0h2m-172 1h2m62 0h2m12 0h2m18 0h2m8 0h2m1 0h2m-1 0h2m1 0h2m6 0h2m-1 0h2m3 0h2m-1 0h2m0 0h2m1 0h2m0 0h2m1 0h2m1 0h2m1 0h2m1 0h2m0 0h2m3 0h2m-1 0h2m0 0h2m3 0h2m-1 0h2m4 0h2m-75 1h2m1 0h2m7 0h2m1 0h2m9 0h2m-1 0h2m3 0h2m0 0h2m3 0h2m2 0h2m1 0h2m-1 0h2m0 0h2m3 0h2m4 0h2m0 0h2m3 0h2m1 0h2m1 0h2m-91 1h2m2 0h2m26 0h2m11 0h2m0 0h2m0 0h2m0 0h2m-1 0h2m-1 0h2m0 0h2m3 0h2m3 0h2m4 0h2m-1 0h2m1 0h2m-1 0h2m0 0h2m14 0h2m6 0h2m5 0h2m-107 1h2m10 0h2m10 0h2m5 0h2m-1 0h2m0 0h2m1 0h2m0 0h2m-1 0h2m0 0h2m1 0h2m0 0h2m-1 0h2m0 0h2m-1 0h2m1 0h2m2 0h2m9 0h2m3 0h2m1 0h2m7 0h2m-170 1h2m79 0h2m3 0h2m7 0h2m9 0h2m-1 0h2m1 0h2m2 0h2m5 0h2m0 0h2m1 0h2m0 0h2m0 0h2m0 0h2m-1 0h2m0 0h2m0 0h2m10 0h2m0 0h2m7 0h2m7 0h2m-149 1h2m56 0h2m2 0h2m23 0h2m0 0h2m1 0h2m1 0h2m1 0h2m1 0h2m-1 0h2m-1 0h2m4 0h2m1 0h2m2 0h2m1 0h2m0 0h2m0 0h2m1 0h2m7 0h2m12 0h2m-85 1h2m0 0h2m7 0h2m1 0h2m0 0h2m-1 0h2m0 0h2m3 0h2m3 0h2m-1 0h2m9 0h2m0 0h2m1 0h2m-1 0h2m0 0h2m3 0h2m22 0h2m6 0h2m-97 1h2m28 0h2m8 0h2m7 0h2m1 0h2m0 0h2m1 0h2m-1 0h2m1 0h2m-1 0h2m0 0h2m3 0h2m7 0h2m1 0h2m8 0h2m-85 1h2m13 0h2m0 0h2m4 0h2m5 0h2m2 0h2m0 0h2m7 0h2m2 0h2m1 0h2m0 0h2m0 0h2m-1 0h2m4 0h2m3 0h2m1 0h2m16 0h2m5 0h2m-180 1h2m73 0h2m12 0h2m10 0h2m6 0h2m-1 0h2m5 0h2m4 0h2m0 0h2m0 0h2m-1 0h2m2 0h2m-1 0h2m-1 0h2m5 0h2m2 0h2m4 0h2m8 0h2m2 0h2m-119 1h2m19 0h2m21 0h2m15 0h2m-1 0h2m2 0h2m11 0h2m5 0h2m19 0h2m26 0h2m8 0h2m-203 1h2m74 0h2m14 0h2m23 0h2m5 0h2m-1 0h2m1 0h2m10 0h2m-1 0h2m2 0h2m-1 0h2m3 0h2m0 0h2m-1 0h2m7 0h2m0 0h2m8 0h2m3 0h2m-71 1h2m0 0h2m12 0h2m2 0h2m1 0h2m-1 0h2m11 0h2m1 0h2m-106 1h2m32 0h2m10 0h2m6 0h2m6 0h2m-1 0h2m0 0h2m-1 0h2m-1 0h2m2 0h2m2 0h2m1 0h2m-1 0h2m8 0h2m-1 0h2m3 0h2m-1 0h2m0 0h2m1 0h2m1 0h2m-1 0h2m-1 0h2m3 0h2m5 0h2m26 0h2m0 0h2m-158 1h2m54 0h2m1 0h2m-1 0h2m11 0h2m-1 0h2m-1 0h2m0 0h2m8 0h2m1 0h2m-1 0h2m3 0h2m1 0h2m0 0h2m4 0h2m1 0h2m4 0h2m11 0h2m6 0h2m-96 1h2m11 0h2m13 0h2m3 0h2m-1 0h2m0 0h2m3 0h2m-1 0h2m10 0h2m-1 0h2m1 0h2m4 0h2m8 0h2m5 0h2m2 0h2m-1 0h2m-1 0h2m1 0h2m10 0h2m-212 1h2m101 0h2m38 0h2m3 0h2m3 0h2m11 0h2m4 0h2m1 0h2m1 0h2m2 0h2m3 0h2m12 0h2m0 0h2m6 0h2m-210 1h2m102 0h2m9 0h2m12 0h2m5 0h2m4 0h2m-1 0h2m0 0h2m4 0h2m6 0h2m0 0h2m-1 0h2m-1 0h2m-1 0h2m0 0h2m5 0h2m1 0h2m1 0h2m-116 1h2m44 0h2m3 0h2m8 0h2m1 0h2m6 0h2m-1 0h2m6 0h2m-1 0h2m3 0h2m19 0h2m0 0h2m0 0h2m2 0h2m21 0h2m-75 1h2m2 0h2m4 0h2m2 0h2m-1 0h2m0 0h2m18 0h2m8 0h2m0 0h2m9 0h2m1 0h2m2 0h2m3 0h2m-163 1h2m65 0h2m5 0h2m1 0h2m11 0h2m9 0h2m-1 0h2m1 0h2m-1 0h2m-1 0h2m3 0h2m5 0h2m6 0h2m2 0h2m-1 0h2m6 0h2m31 0h2m-141 1h2m16 0h2m22 0h2m0 0h2m14 0h2m1 0h2m4 0h2m1 0h2m-1 0h2m9 0h2m7 0h2m2 0h2m9 0h2m3 0h2m-99 1h2m39 0h2m1 0h2m-1 0h2m5 0h2m7 0h2m3 0h2m6 0h2m3 0h2m-1 0h2m24 0h2m-194 1h2m15 0h2m85 0h2m15 0h2m1 0h2m8 0h2m11 0h2m0 0h2m5 0h2m0 0h2m11 0h2m4 0h2m0 0h2m5 0h2m3 0h2m-78 1h2m6 0h2m7 0h2m3 0h2m6 0h2m2 0h2m6 0h2m5 0h2m0 0h2m7 0h2m14 0h2m-97 1h2m6 0h2m5 0h2m14 0h2m4 0h2m0 0h2m-1 0h2m0 0h2m4 0h2m6 0h2m5 0h2m-1 0h2m-1 0h2m-1 0h2m8 0h2m3 0h2m-56 1h2m0 0h2m12 0h2m17 0h2m2 0h2m4 0h2m0 0h2m13 0h2m21 0h2m-115 1h2m24 0h2m2 0h2m3 0h2m10 0h2m-1 0h2m-1 0h2m-1 0h2m-1 0h2m2 0h2m2 0h2m4 0h2m-1 0h2m3 0h2m-1 0h2m6 0h2m0 0h2m-1 0h2m6 0h2m-37 1h2m2 0h2m4 0h2m7 0h2m-1 0h2m10 0h2m-1 0h2m16 0h2m-107 1h2m4 0h2m5 0h2m-1 0h2m12 0h2m3 0h2m4 0h2m5 0h2m-1 0h2m9 0h2m2 0h2m7 0h2m2 0h2m-46 1h2m2 0h2m2 0h2m1 0h2m2 0h2m5 0h2m5 0h2m1 0h2m3 0h2m4 0h2m-68 1h2m16 0h2m-1 0h2m6 0h2m1 0h2m1 0h2m1 0h2m-1 0h2m3 0h2m0 0h2m1 0h2m-1 0h2m0 0h2m-1 0h2m11 0h2m1 0h2m4 0h2m11 0h2m-93 1h2m26 0h2m0 0h2m7 0h2m7 0h2m-1 0h2m2 0h2m22 0h2m12 0h2m-85 1h2m7 0h2m11 0h2m4 0h2m5 0h2m-1 0h2m-1 0h2m1 0h2m-1 0h2m0 0h2m1 0h2m1 0h2m10 0h2m9 0h2m0 0h2m-92 1h2m31 0h2m10 0h2m1 0h2m1 0h2m-1 0h2m0 0h2m0 0h2m1 0h2m-1 0h2m0 0h2m1 0h2m6 0h2m-1 0h2m-1 0h2m2 0h2m7 0h2m12 0h2m-100 1h2m22 0h2m0 0h2m0 0h2m3 0h2m-1 0h2m7 0h2m-1 0h2m-1 0h2m-1 0h2m-1 0h2m-1 0h2m-1 0h2m0 0h2m1 0h2m-1 0h2m2 0h2m22 0h2m-174 1h2m91 0h2m26 0h2m1 0h2m-1 0h2m5 0h2m-1 0h2m7 0h2m2 0h2m1 0h2m16 0h2m17 0h2m-92 1h2m28 0h2m2 0h2m-1 0h2m6 0h2m0 0h2m4 0h2m1 0h2m2 0h2m3 0h2m5 0h2m-90 1h2m15 0h2m0 0h2m6 0h2m-1 0h2m6 0h2m17 0h2m0 0h2m-1 0h2m6 0h2m0 0h2m9 0h2m8 0h2m-164 1h2m86 0h2m-1 0h2m20 0h2m1 0h2m26 0h2m-1 0h2m2 0h2m5 0h2m-1 0h2m-76 1h2m22 0h2m5 0h2m36 0h2m6 0h2m4 0h2m8 0h2m-88 1h2m10 0h2m7 0h2m3 0h2m4 0h2m26 0h2m8 0h2m6 0h2m2 0h2m-123 1h2m59 0h2m1 0h2m-1 0h2m1 0h2m-1 0h2m-1 0h2m29 0h2m2 0h2m-1 0h2m9 0h2m18 0h2m-91 1h2m1 0h2m2 0h2m8 0h2m0 0h2m2 0h2m30 0h2m1 0h2m11 0h2m19 0h2m-105 1h2m24 0h2m-1 0h2m37 0h2m17 0h2" stroke="#3a47a2" stroke-width="2" fill="none"/>
<path d="M1608.9 538.8L1610.6 538.6L1612.3 538.4L1614.0 538.2L1615.9 538.0L1617.8 537.8L1619.7 537.7L1621.8 537.6L1623.9 537.5L1626.0 537.3L1628.2 537.3L1630.4 537.2L1632.5 537.2L1634.7 537.2L1636.9 537.2L1639.0 537.3L1641.2 537.3L1643.4 537.5L1645.5 537.6L1647.5 537.9L1649.4 538.2L1651.3 538.5L1653.0 539.0L1654.7 539.5L1656.3 540.1L1657.8 540.7L1659.2 541.5L1660.5 542.4L1661.6 543.5L1662.7 544.7L1663.6 546.0L1664.4 547.5L1665.0 549.1L1665.6 550.9L1666.1 552.8L1666.5 554.9L1667.0 557.1L1667.4 559.5L1667.7 562.0L1668.0 564.8L1668.2 567.6L1668.5 570.7L1668.7 573.7L1668.8 576.8L1669.0 579.9L1669.2 583.1L1669.3 586.3L1669.4 589.5L1669.6 592.7L1669.6 595.9L1669.7 599.0L1669.7 602.0L1669.7 604.9L1669.7 607.6L1669.6 610.2L1669.4 612.7L1669.3 615.0L1669.0 617.3L1668.8 619.5L1668.7 621.6L1668.5 623.8L1668.3 626.0L1668.2 628.2L1668.1 630.3L1667.9 632.4L1667.9 634.6L1667.7 636.8L1667.6 639.2L1667.4 641.8L1667.2 644.5L1666.9 647.3L1666.7 650.3L1666.4 653.4L1666.0 656.6L1665.7 659.8L1665.3 663.0L1664.8 666.1L1664.3 669.1L1663.8 672.1L1663.2 675.0L1662.6 677.9L1662.0 680.7L1661.2 683.4L1660.4 686.0L1659.5 688.5L1658.5 690.9L1657.5 693.2L1656.3 695.4L1655.1 697.5L1653.8 699.4L1652.4 701.3L1650.9 702.9L1649.4 704.5L1647.7 705.9L1646.0 707.2L1644.2 708.3L1642.4 709.3L1640.4 710.2L1638.5 710.8L1636.6 711.3L1634.7 711.5L1632.9 711.5L1631.1 711.3L1629.3 710.8L1627.5 710.2L1625.8 709.3L1624.1 708.3L1622.5 707.2L1620.9 705.9L1619.4 704.5L1617.9 702.9L1616.5 701.3L1615.1 699.4L1613.9 697.5L1612.6 695.4L1611.5 693.2L1610.4 690.9L1609.5 688.5L1608.6 686.0L1607.8 683.4L1607.0 680.7L1606.4 677.9L1605.8 675.0L1605.3 672.0L1604.8 668.9L1604.4 665.7L1604.1 662.5L1603.9 659.2L1603.7 655.8L1603.6 652.2L1603.5 648.6L1603.4 644.7L1603.3 640.6L1603.3 636.4L1603.2 631.9L1603.2 627.3L1603.2 622.5L1603.2 617.5L1603.2 612.2L1603.2 606.5L1603.2 600.6L1603.2 594.3L1603.2 587.7L1603.2 580.8L1603.2 573.6L1603.2 566.0L1603.4 559.4L1603.8 553.7L1604.4 548.9L1605.2 545.0L1606.3 542.0L1607.5 540.0ZM1596.2 556.3L1596.8 557.2L1597.2 558.1L1597.6 559.2L1597.9 560.4L1598.2 561.7L1598.4 563.2L1598.6 564.8L1598.7 566.6L1598.8 568.4L1598.8 570.2L1598.9 572.0L1598.9 573.7L1598.9 575.3L1598.9 576.9L1598.8 578.4L1598.8 579.8L1598.7 581.2L1598.6 582.4L1598.4 583.5L1598.2 584.5L1597.9 585.3L1597.6 586.0L1597.2 586.5L1596.8 586.9L1596.2 587.1L1595.8 587.3L1595.2 587.3L1594.8 587.2L1594.2 587.0L1593.8 586.7L1593.2 586.3L1592.8 585.8L1592.2 585.2L1591.8 584.4L1591.4 583.3L1591.1 582.1L1590.8 580.7L1590.6 579.0L1590.5 577.2L1590.4 575.1L1590.3 572.9L1590.4 570.7L1590.5 568.7L1590.7 566.7L1590.9 564.9L1591.2 563.1L1591.6 561.5L1592.1 560.0L1592.6 558.5L1593.2 557.4L1593.7 556.5L1594.2 555.9L1594.7 555.6L1595.2 555.6L1595.7 555.8ZM1609.7 540.3L1611.1 540.2L1612.7 540.0L1614.3 539.8L1616.1 539.7L1617.9 539.6L1619.8 539.5L1621.8 539.4L1623.9 539.3L1626.0 539.2L1628.2 539.2L1630.4 539.1L1632.5 539.1L1634.7 539.1L1636.9 539.1L1639.0 539.2L1641.2 539.2L1643.4 539.3L1645.5 539.4L1647.4 539.6L1649.3 539.9L1651.1 540.3L1652.8 540.8L1654.3 541.3L1655.8 541.9L1657.2 542.6L1658.5 543.4L1659.6 544.3L1660.7 545.3L1661.6 546.4L1662.4 547.6L1663.1 548.9L1663.8 550.2L1664.2 551.8L1664.7 553.4L1665.1 555.3L1665.5 557.4L1665.9 559.7L1666.2 562.1L1666.4 564.8L1666.7 567.6L1666.8 570.7L1667.0 573.7L1667.2 576.7L1667.3 579.7L1667.4 582.7L1667.5 585.7L1667.6 588.7L1667.7 591.7L1667.8 594.6L1666.8 597.2L1664.9 599.4L1662.0 601.3L1658.0 602.8L1653.1 603.9L1647.2 604.6L1640.2 605.0L1632.3 605.0L1625.3 604.0L1619.4 602.0L1614.4 599.0L1610.5 595.0L1607.5 590.0L1605.5 584.0L1604.5 577.0L1604.5 569.0L1604.7 562.0L1605.1 555.9L1605.6 550.9L1606.3 546.8L1607.3 543.6L1608.4 541.5ZM1612.7 545.3L1614.0 545.1L1615.4 544.9L1616.9 544.8L1618.4 544.7L1620.0 544.6L1621.7 544.5L1623.4 544.4L1625.2 544.3L1627.1 544.3L1629.0 544.2L1631.0 544.2L1632.9 544.2L1634.8 544.2L1636.7 544.2L1638.6 544.2L1640.5 544.3L1642.4 544.3L1644.2 544.4L1646.0 544.6L1647.6 544.9L1649.2 545.2L1650.7 545.6L1652.1 546.1L1653.4 546.6L1654.6 547.2L1655.7 547.9L1656.7 548.7L1657.6 549.6L1658.4 550.6L1659.2 551.6L1659.8 552.7L1660.3 554.0L1660.8 555.3L1661.2 556.8L1661.6 558.4L1661.9 560.3L1662.2 562.3L1662.5 564.4L1662.7 566.8L1662.9 569.3L1663.1 571.9L1663.2 574.6L1663.3 577.3L1663.5 579.9L1663.6 582.6L1663.7 585.2L1663.8 587.8L1663.8 590.4L1663.9 593.0L1663.1 595.3L1661.4 597.3L1658.8 598.9L1655.3 600.2L1651.0 601.2L1645.7 601.8L1639.6 602.2L1632.6 602.2L1626.5 601.3L1621.3 599.5L1616.9 596.9L1613.4 593.4L1610.8 589.0L1609.1 583.7L1608.2 577.5L1608.2 570.5L1608.4 564.3L1608.7 559.0L1609.2 554.5L1609.8 550.9L1610.6 548.2L1611.6 546.3ZM1616.1 550.6L1617.2 550.4L1618.3 550.3L1619.6 550.2L1620.9 550.1L1622.2 550.0L1623.7 549.9L1625.2 549.8L1626.7 549.8L1628.3 549.7L1630.0 549.7L1631.6 549.7L1633.2 549.7L1634.8 549.7L1636.5 549.7L1638.1 549.7L1639.7 549.7L1641.4 549.8L1642.9 549.9L1644.4 550.1L1645.8 550.3L1647.1 550.6L1648.4 550.9L1649.6 551.3L1650.7 551.8L1651.7 552.3L1652.7 552.9L1653.5 553.5L1654.3 554.3L1655.0 555.1L1655.6 556.0L1656.2 557.0L1656.6 558.0L1657.0 559.1L1657.4 560.4L1657.7 561.8L1658.0 563.4L1658.2 565.1L1658.4 566.9L1658.6 568.9L1658.8 571.0L1659.0 573.3L1659.1 575.6L1659.2 577.9L1659.3 580.1L1659.4 582.4L1659.5 584.6L1659.6 586.8L1659.6 589.1L1659.7 591.3L1659.0 593.2L1657.5 594.9L1655.3 596.3L1652.3 597.4L1648.6 598.2L1644.2 598.8L1639.0 599.1L1633.0 599.1L1627.8 598.3L1623.4 596.8L1619.6 594.6L1616.7 591.6L1614.4 587.8L1612.9 583.3L1612.2 578.1L1612.2 572.1L1612.3 566.8L1612.6 562.3L1613.0 558.5L1613.6 555.4L1614.3 553.1L1615.1 551.5ZM1619.4 555.9L1620.3 555.8L1621.3 555.7L1622.3 555.6L1623.4 555.5L1624.5 555.4L1625.7 555.4L1626.9 555.3L1628.2 555.2L1629.6 555.2L1630.9 555.2L1632.2 555.2L1633.6 555.2L1634.9 555.2L1636.3 555.2L1637.6 555.2L1639.0 555.2L1640.3 555.2L1641.6 555.3L1642.8 555.5L1644.0 555.7L1645.1 555.9L1646.1 556.2L1647.1 556.5L1648.0 556.9L1648.9 557.3L1649.7 557.8L1650.4 558.3L1651.0 559.0L1651.6 559.6L1652.1 560.4L1652.6 561.2L1652.9 562.0L1653.2 563.0L1653.5 564.0L1653.8 565.2L1654.0 566.5L1654.2 567.9L1654.4 569.4L1654.6 571.1L1654.7 572.8L1654.9 574.7L1655.0 576.6L1655.1 578.5L1655.1 580.3L1655.2 582.2L1655.3 584.0L1655.4 585.9L1655.4 587.7L1655.4 589.6L1654.9 591.2L1653.7 592.6L1651.8 593.7L1649.4 594.6L1646.3 595.3L1642.7 595.8L1638.3 596.0L1633.4 596.0L1629.1 595.4L1625.4 594.1L1622.4 592.3L1619.9 589.8L1618.0 586.7L1616.8 583.0L1616.2 578.6L1616.2 573.7L1616.3 569.3L1616.5 565.6L1616.9 562.4L1617.3 559.9L1617.9 558.0L1618.6 556.6ZM1622.5 560.8L1623.2 560.7L1624.0 560.6L1624.8 560.6L1625.7 560.5L1626.6 560.4L1627.6 560.4L1628.5 560.3L1629.6 560.3L1630.7 560.3L1631.7 560.2L1632.8 560.2L1633.9 560.2L1635.0 560.2L1636.1 560.2L1637.2 560.2L1638.3 560.3L1639.3 560.3L1640.4 560.4L1641.4 560.5L1642.3 560.6L1643.2 560.8L1644.0 561.0L1644.8 561.3L1645.6 561.6L1646.2 561.9L1646.9 562.3L1647.5 562.8L1648.0 563.3L1648.4 563.8L1648.9 564.4L1649.2 565.1L1649.5 565.8L1649.8 566.5L1650.0 567.4L1650.2 568.3L1650.4 569.4L1650.6 570.5L1650.7 571.7L1650.9 573.0L1651.0 574.5L1651.1 576.0L1651.2 577.5L1651.2 579.0L1651.3 580.5L1651.4 582.0L1651.4 583.5L1651.5 585.0L1651.5 586.5L1651.5 588.0L1651.1 589.3L1650.1 590.4L1648.6 591.3L1646.7 592.0L1644.2 592.6L1641.2 593.0L1637.8 593.1L1633.8 593.1L1630.3 592.6L1627.3 591.6L1624.9 590.1L1622.9 588.1L1621.4 585.6L1620.4 582.6L1619.9 579.1L1619.9 575.1L1620.0 571.6L1620.2 568.6L1620.5 566.1L1620.8 564.0L1621.3 562.5L1621.8 561.4ZM1625.6 565.7L1626.1 565.7L1626.7 565.6L1627.3 565.5L1628.0 565.5L1628.7 565.4L1629.4 565.4L1630.2 565.4L1631.0 565.3L1631.8 565.3L1632.6 565.3L1633.4 565.3L1634.2 565.3L1635.1 565.3L1635.9 565.3L1636.7 565.3L1637.5 565.3L1638.4 565.3L1639.2 565.4L1639.9 565.5L1640.6 565.6L1641.3 565.7L1641.9 565.9L1642.5 566.1L1643.1 566.3L1643.6 566.6L1644.1 566.9L1644.5 567.2L1644.9 567.6L1645.3 568.0L1645.6 568.5L1645.9 569.0L1646.1 569.5L1646.3 570.1L1646.5 570.7L1646.6 571.4L1646.8 572.2L1646.9 573.1L1647.0 574.0L1647.1 575.0L1647.2 576.1L1647.3 577.3L1647.4 578.4L1647.4 579.6L1647.5 580.7L1647.5 581.8L1647.6 583.0L1647.6 584.1L1647.6 585.2L1647.6 586.4L1647.3 587.4L1646.6 588.2L1645.4 588.9L1643.9 589.5L1642.1 589.9L1639.8 590.2L1637.2 590.3L1634.2 590.3L1631.5 589.9L1629.3 589.2L1627.4 588.0L1625.9 586.5L1624.7 584.6L1624.0 582.3L1623.6 579.7L1623.6 576.6L1623.7 574.0L1623.8 571.7L1624.0 569.7L1624.3 568.2L1624.6 567.0L1625.1 566.2ZM1631.8 614.0L1639.7 614.0L1646.5 614.4L1652.3 615.3L1657.1 616.6L1661.0 618.4L1663.8 620.6L1665.7 623.2L1666.6 626.2L1666.4 629.8L1666.3 633.2L1666.1 636.7L1665.9 640.1L1665.6 643.4L1665.3 646.8L1665.0 650.1L1664.7 653.4L1664.3 656.6L1663.9 659.8L1663.5 662.9L1663.0 666.0L1662.5 668.9L1662.0 671.8L1661.4 674.6L1660.8 677.4L1660.2 680.1L1659.5 682.7L1658.7 685.2L1657.9 687.5L1657.0 689.8L1656.0 692.0L1655.0 694.1L1653.8 696.1L1652.7 697.9L1651.4 699.7L1650.0 701.3L1648.6 702.8L1647.1 704.1L1645.5 705.3L1643.8 706.4L1642.0 707.3L1640.1 708.2L1638.3 708.8L1636.5 709.2L1634.7 709.4L1632.9 709.4L1631.2 709.2L1629.5 708.8L1627.9 708.2L1626.2 707.3L1624.6 706.4L1623.1 705.3L1621.6 704.1L1620.2 702.8L1618.8 701.3L1617.4 699.7L1616.1 697.9L1614.9 696.1L1613.7 694.1L1612.6 692.0L1611.6 689.8L1610.7 687.5L1609.8 685.2L1609.0 682.7L1608.3 680.1L1607.7 677.4L1607.1 674.6L1606.6 671.7L1606.2 668.7L1605.8 665.6L1605.5 662.4L1605.2 659.1L1605.1 655.8L1604.9 652.2L1604.8 648.8L1604.7 645.3L1604.7 641.9L1604.6 638.6L1604.5 635.2L1604.5 631.9L1604.5 628.6L1604.5 625.4L1605.5 622.5L1607.4 620.1L1610.4 618.1L1614.3 616.4L1619.1 615.2L1625.0 614.4ZM1632.2 617.3L1639.2 617.3L1645.4 617.7L1650.6 618.5L1655.0 619.7L1658.4 621.3L1661.0 623.2L1662.7 625.6L1663.4 628.3L1663.3 631.5L1663.2 634.6L1663.0 637.7L1662.8 640.8L1662.6 643.8L1662.3 646.8L1662.1 649.8L1661.7 652.8L1661.4 655.7L1661.0 658.5L1660.7 661.3L1660.2 664.1L1659.8 666.7L1659.3 669.4L1658.8 671.9L1658.3 674.4L1657.7 676.8L1657.1 679.1L1656.4 681.4L1655.6 683.5L1654.8 685.6L1653.9 687.5L1653.0 689.4L1652.0 691.2L1650.9 692.9L1649.8 694.4L1648.6 695.9L1647.3 697.2L1645.9 698.4L1644.4 699.5L1642.9 700.5L1641.3 701.3L1639.6 702.1L1638.0 702.6L1636.4 703.0L1634.8 703.2L1633.2 703.2L1631.6 703.0L1630.1 702.6L1628.6 702.1L1627.1 701.3L1625.7 700.5L1624.3 699.5L1623.0 698.4L1621.7 697.2L1620.4 695.9L1619.2 694.4L1618.0 692.9L1616.9 691.2L1615.9 689.4L1614.9 687.5L1614.0 685.6L1613.1 683.5L1612.3 681.4L1611.6 679.1L1611.0 676.8L1610.4 674.4L1609.9 671.9L1609.5 669.3L1609.1 666.6L1608.8 663.8L1608.5 660.9L1608.3 658.0L1608.1 654.9L1608.0 651.7L1607.9 648.6L1607.8 645.5L1607.7 642.5L1607.7 639.4L1607.6 636.4L1607.6 633.4L1607.6 630.5L1607.6 627.6L1608.5 625.0L1610.2 622.8L1612.9 621.0L1616.4 619.5L1620.8 618.4L1626.0 617.7ZM1632.6 621.0L1638.7 621.0L1644.1 621.3L1648.7 622.0L1652.6 623.0L1655.6 624.4L1657.8 626.2L1659.3 628.2L1660.0 630.6L1659.9 633.4L1659.8 636.2L1659.6 638.9L1659.5 641.6L1659.3 644.2L1659.0 646.9L1658.8 649.5L1658.5 652.1L1658.2 654.6L1657.9 657.2L1657.6 659.6L1657.2 662.0L1656.8 664.4L1656.4 666.7L1655.9 668.9L1655.5 671.1L1655.0 673.2L1654.4 675.2L1653.8 677.2L1653.1 679.1L1652.4 680.9L1651.7 682.6L1650.8 684.2L1649.9 685.8L1649.0 687.3L1648.0 688.7L1646.9 689.9L1645.8 691.1L1644.6 692.2L1643.3 693.1L1642.0 694.0L1640.6 694.7L1639.1 695.4L1637.7 695.8L1636.2 696.2L1634.8 696.3L1633.4 696.3L1632.1 696.2L1630.7 695.8L1629.4 695.4L1628.1 694.7L1626.9 694.0L1625.7 693.1L1624.5 692.2L1623.3 691.1L1622.2 689.9L1621.2 688.7L1620.2 687.3L1619.2 685.8L1618.2 684.2L1617.4 682.6L1616.6 680.9L1615.8 679.1L1615.2 677.2L1614.5 675.2L1614.0 673.2L1613.5 671.1L1613.0 668.9L1612.6 666.6L1612.3 664.2L1612.0 661.8L1611.8 659.2L1611.6 656.6L1611.4 654.0L1611.3 651.2L1611.2 648.4L1611.2 645.7L1611.1 643.0L1611.0 640.4L1611.0 637.7L1611.0 635.1L1611.0 632.5L1611.0 630.0L1611.7 627.7L1613.3 625.8L1615.6 624.2L1618.7 622.9L1622.5 621.9L1627.2 621.3ZM1632.9 624.6L1638.3 624.6L1642.9 624.9L1646.9 625.5L1650.2 626.4L1652.8 627.6L1654.7 629.1L1656.0 630.9L1656.6 633.0L1656.5 635.3L1656.4 637.7L1656.2 640.0L1656.1 642.3L1655.9 644.6L1655.7 646.9L1655.5 649.2L1655.3 651.4L1655.0 653.6L1654.8 655.8L1654.5 657.9L1654.1 660.0L1653.8 662.0L1653.4 663.9L1653.1 665.9L1652.6 667.7L1652.2 669.6L1651.8 671.3L1651.2 673.0L1650.7 674.6L1650.0 676.2L1649.4 677.7L1648.7 679.1L1647.9 680.4L1647.1 681.7L1646.2 682.9L1645.3 684.0L1644.3 685.0L1643.3 685.9L1642.2 686.7L1641.1 687.5L1639.8 688.1L1638.6 688.7L1637.3 689.1L1636.1 689.3L1634.9 689.5L1633.7 689.5L1632.5 689.3L1631.4 689.1L1630.2 688.7L1629.1 688.1L1628.1 687.5L1627.0 686.7L1626.0 685.9L1625.0 685.0L1624.1 684.0L1623.1 682.9L1622.3 681.7L1621.4 680.4L1620.6 679.1L1619.9 677.7L1619.2 676.2L1618.5 674.6L1618.0 673.0L1617.4 671.3L1616.9 669.6L1616.5 667.7L1616.1 665.8L1615.8 663.9L1615.5 661.8L1615.2 659.7L1615.0 657.6L1614.9 655.3L1614.7 653.0L1614.7 650.6L1614.6 648.3L1614.5 645.9L1614.5 643.6L1614.4 641.3L1614.4 639.1L1614.4 636.8L1614.4 634.6L1614.4 632.4L1615.0 630.4L1616.3 628.8L1618.3 627.4L1621.0 626.3L1624.3 625.5L1628.3 624.9ZM1633.3 628.3L1637.8 628.3L1641.7 628.5L1645.0 629.0L1647.7 629.8L1649.9 630.8L1651.6 632.0L1652.6 633.5L1653.1 635.3L1653.0 637.3L1653.0 639.2L1652.9 641.2L1652.7 643.1L1652.6 645.1L1652.4 647.0L1652.2 648.8L1652.1 650.7L1651.8 652.6L1651.6 654.4L1651.4 656.2L1651.1 657.9L1650.8 659.6L1650.5 661.2L1650.2 662.8L1649.8 664.4L1649.5 665.9L1649.1 667.4L1648.7 668.8L1648.2 670.2L1647.7 671.5L1647.1 672.7L1646.5 673.9L1645.9 675.1L1645.2 676.1L1644.5 677.1L1643.7 678.0L1642.9 678.9L1642.0 679.6L1641.1 680.3L1640.1 680.9L1639.1 681.5L1638.0 681.9L1637.0 682.3L1636.0 682.5L1635.0 682.6L1634.0 682.6L1633.0 682.5L1632.0 682.3L1631.1 681.9L1630.1 681.5L1629.2 680.9L1628.3 680.3L1627.5 679.6L1626.7 678.9L1625.9 678.0L1625.1 677.1L1624.4 676.1L1623.7 675.1L1623.0 673.9L1622.4 672.7L1621.8 671.5L1621.3 670.2L1620.8 668.8L1620.3 667.4L1619.9 665.9L1619.6 664.4L1619.2 662.8L1619.0 661.2L1618.7 659.5L1618.5 657.7L1618.3 655.9L1618.2 654.0L1618.1 652.1L1618.0 650.1L1617.9 648.1L1617.9 646.1L1617.8 644.2L1617.8 642.3L1617.8 640.4L1617.8 638.5L1617.7 636.6L1617.7 634.8L1618.3 633.1L1619.4 631.7L1621.1 630.6L1623.3 629.7L1626.1 629.0L1629.4 628.5ZM1633.7 631.9L1637.3 631.9L1640.4 632.1L1643.1 632.5L1645.3 633.1L1647.1 633.9L1648.4 634.9L1649.3 636.2L1649.7 637.6L1649.6 639.2L1649.6 640.8L1649.5 642.3L1649.4 643.9L1649.2 645.5L1649.1 647.0L1649.0 648.5L1648.8 650.0L1648.6 651.5L1648.5 653.0L1648.3 654.4L1648.0 655.8L1647.8 657.2L1647.6 658.5L1647.3 659.8L1647.0 661.1L1646.7 662.3L1646.4 663.5L1646.1 664.7L1645.7 665.8L1645.3 666.8L1644.8 667.8L1644.3 668.8L1643.8 669.7L1643.3 670.5L1642.7 671.3L1642.1 672.1L1641.4 672.8L1640.7 673.4L1640.0 673.9L1639.2 674.4L1638.4 674.9L1637.5 675.2L1636.7 675.5L1635.8 675.7L1635.0 675.8L1634.2 675.8L1633.4 675.7L1632.6 675.5L1631.9 675.2L1631.1 674.9L1630.4 674.4L1629.7 673.9L1629.0 673.4L1628.3 672.8L1627.7 672.1L1627.1 671.3L1626.5 670.5L1625.9 669.7L1625.4 668.8L1624.9 667.8L1624.4 666.8L1624.0 665.8L1623.6 664.7L1623.2 663.5L1622.9 662.3L1622.6 661.1L1622.3 659.8L1622.1 658.5L1621.9 657.1L1621.7 655.7L1621.6 654.2L1621.5 652.7L1621.4 651.1L1621.3 649.5L1621.3 647.9L1621.2 646.3L1621.2 644.8L1621.2 643.2L1621.2 641.7L1621.1 640.2L1621.1 638.7L1621.1 637.2L1621.6 635.9L1622.5 634.7L1623.8 633.8L1625.6 633.0L1627.9 632.5L1630.6 632.1ZM1634.1 635.2L1636.9 635.2L1639.3 635.4L1641.4 635.7L1643.2 636.2L1644.5 636.8L1645.6 637.6L1646.2 638.6L1646.6 639.7L1646.5 640.9L1646.5 642.2L1646.4 643.4L1646.3 644.6L1646.2 645.8L1646.1 647.0L1646.0 648.2L1645.9 649.4L1645.7 650.6L1645.6 651.7L1645.4 652.9L1645.3 654.0L1645.1 655.0L1644.9 656.1L1644.7 657.1L1644.5 658.1L1644.3 659.0L1644.0 660.0L1643.7 660.9L1643.4 661.7L1643.1 662.5L1642.8 663.3L1642.4 664.1L1642.0 664.8L1641.5 665.5L1641.1 666.1L1640.6 666.7L1640.1 667.2L1639.5 667.7L1639.0 668.1L1638.3 668.5L1637.7 668.9L1637.0 669.1L1636.4 669.4L1635.7 669.5L1635.1 669.6L1634.5 669.6L1633.8 669.5L1633.2 669.4L1632.6 669.1L1632.0 668.9L1631.5 668.5L1630.9 668.1L1630.4 667.7L1629.9 667.2L1629.3 666.7L1628.9 666.1L1628.4 665.5L1627.9 664.8L1627.5 664.1L1627.1 663.3L1626.8 662.5L1626.4 661.7L1626.1 660.9L1625.8 660.0L1625.6 659.0L1625.4 658.1L1625.2 657.1L1625.0 656.0L1624.8 655.0L1624.7 653.8L1624.6 652.7L1624.5 651.5L1624.4 650.3L1624.4 649.0L1624.3 647.8L1624.3 646.5L1624.3 645.3L1624.2 644.1L1624.2 642.9L1624.2 641.7L1624.2 640.5L1624.2 639.3L1624.6 638.3L1625.3 637.4L1626.3 636.7L1627.7 636.1L1629.5 635.7L1631.6 635.4ZM1595.8 557.6L1596.2 558.4L1596.5 559.2L1596.8 560.2L1597.1 561.4L1597.3 562.6L1597.5 564.0L1597.6 565.5L1597.7 567.1L1597.8 568.9L1597.8 570.6L1597.9 572.2L1597.9 573.8L1597.9 575.2L1597.9 576.7L1597.8 578.1L1597.8 579.4L1597.7 580.6L1597.6 581.8L1597.5 582.8L1597.3 583.6L1597.1 584.4L1596.8 585.0L1596.5 585.5L1596.2 585.9L1595.8 586.1L1595.4 586.3L1595.1 586.3L1594.7 586.2L1594.3 586.0L1593.9 585.7L1593.6 585.3L1593.2 584.8L1592.8 584.2L1592.5 583.4L1592.2 582.4L1591.9 581.2L1591.7 579.8L1591.6 578.2L1591.4 576.5L1591.4 574.6L1591.3 572.4L1591.4 570.4L1591.4 568.5L1591.6 566.7L1591.7 565.0L1592.0 563.5L1592.3 562.0L1592.6 560.6L1593.1 559.4L1593.5 558.4L1593.9 557.6L1594.3 557.1L1594.7 556.9L1595.0 556.9L1595.4 557.1ZM1612.0 763.0L1612.1 762.1L1612.2 761.2L1612.6 760.4L1613.0 759.5L1613.5 758.7L1614.2 757.9L1614.9 757.1L1615.8 756.4L1616.8 755.7L1617.8 755.1L1619.0 754.5L1620.2 753.9L1621.5 753.5L1622.9 753.1L1624.3 752.7L1625.7 752.4L1627.2 752.2L1628.7 752.1L1630.2 752.0L1631.8 752.0L1633.3 752.1L1634.8 752.2L1636.3 752.4L1637.7 752.7L1639.1 753.1L1640.5 753.5L1641.8 753.9L1643.0 754.5L1644.2 755.1L1645.2 755.7L1646.2 756.4L1647.1 757.1L1647.8 757.9L1648.5 758.7L1649.0 759.5L1649.4 760.4L1649.8 761.2L1649.9 762.1L1650.0 763.0M1617.3 763.0L1617.4 762.4L1617.5 761.7L1617.7 761.1L1618.0 760.5L1618.4 759.9L1618.9 759.3L1619.4 758.8L1620.1 758.2L1620.8 757.7L1621.5 757.3L1622.3 756.9L1623.2 756.5L1624.2 756.1L1625.1 755.8L1626.1 755.6L1627.2 755.4L1628.3 755.2L1629.4 755.1L1630.4 755.1L1631.6 755.1L1632.6 755.1L1633.7 755.2L1634.8 755.4L1635.9 755.6L1636.9 755.8L1637.8 756.1L1638.8 756.5L1639.7 756.9L1640.5 757.3L1641.2 757.7L1641.9 758.2L1642.6 758.8L1643.1 759.3L1643.6 759.9L1644.0 760.5L1644.3 761.1L1644.5 761.7L1644.6 762.4L1644.7 763.0" stroke="#323a86" stroke-width="1.35" fill="none"/>
</g>
<rect x="1469.3" y="434.0" width="280.4" height="327.0" fill="none" stroke="#111" stroke-width="2"/>
<path d="M1601.0 434.0V761.0M1469.3 612.0L1749.7 609.6" stroke="#111" stroke-width="1.8" fill="none"/>
<path d="M1461.3 753.3H1469.3M1461.3 743.3H1469.3M1461.3 735.4H1469.3M1461.3 729.0H1469.3M1461.3 723.6H1469.3M1461.3 718.9H1469.3M1461.3 714.8H1469.3M1454.3 711.1H1469.3M1461.3 686.8H1469.3M1461.3 672.5H1469.3M1461.3 662.5H1469.3M1461.3 654.6H1469.3M1461.3 648.2H1469.3M1461.3 642.8H1469.3M1461.3 638.1H1469.3M1461.3 634.0H1469.3M1454.3 630.3H1469.3M1461.3 606.0H1469.3M1461.3 591.7H1469.3M1461.3 581.7H1469.3M1461.3 573.8H1469.3M1461.3 567.4H1469.3M1461.3 562.0H1469.3M1461.3 557.3H1469.3M1461.3 553.2H1469.3M1454.3 549.5H1469.3M1461.3 525.2H1469.3M1461.3 510.9H1469.3M1461.3 500.9H1469.3M1461.3 493.0H1469.3M1461.3 486.6H1469.3M1461.3 481.2H1469.3M1461.3 476.5H1469.3M1461.3 472.4H1469.3M1454.3 468.7H1469.3M1461.3 444.4H1469.3M1480.7 761.0V771.0M1487.5 761.0V771.0M1493.1 761.0V771.0M1497.8 761.0V771.0M1501.9 761.0V771.0M1505.6 761.0V771.0M1508.8 761.0V777.5M1530.1 761.0V771.0M1542.5 761.0V771.0M1551.4 761.0V771.0M1558.2 761.0V771.0M1563.8 761.0V771.0M1568.5 761.0V771.0M1572.6 761.0V771.0M1576.3 761.0V771.0M1579.5 761.0V777.5M1600.8 761.0V771.0M1613.2 761.0V771.0M1622.1 761.0V771.0M1628.9 761.0V771.0M1634.5 761.0V771.0M1639.2 761.0V771.0M1643.3 761.0V771.0M1647.0 761.0V771.0M1650.2 761.0V777.5M1671.5 761.0V771.0M1683.9 761.0V771.0M1692.8 761.0V771.0M1699.6 761.0V771.0M1705.2 761.0V771.0M1709.9 761.0V771.0M1714.0 761.0V771.0M1717.7 761.0V771.0M1720.9 761.0V777.5M1742.2 761.0V771.0" stroke="#111" stroke-width="2" fill="none"/>
<g transform="translate(1452.0 720.3) rotate(-90)">
<text x="-0.85" y="0.00" font-size="16.50" font-weight="bold" fill="#1a1a1a" textLength="15.00" lengthAdjust="spacingAndGlyphs">10</text>
<text x="14.10" y="-10.20" font-size="16.50" font-weight="bold" fill="#1a1a1a" textLength="9.59" lengthAdjust="spacingAndGlyphs">2</text>
</g>
<g transform="translate(1452.0 639.5) rotate(-90)">
<text x="-0.85" y="0.00" font-size="16.50" font-weight="bold" fill="#1a1a1a" textLength="15.00" lengthAdjust="spacingAndGlyphs">10</text>
<text x="14.32" y="-10.20" font-size="16.50" font-weight="bold" fill="#1a1a1a" textLength="9.29" lengthAdjust="spacingAndGlyphs">3</text>
</g>
<g transform="translate(1452.0 558.7) rotate(-90)">
<text x="-0.85" y="0.00" font-size="16.50" font-weight="bold" fill="#1a1a1a" textLength="15.00" lengthAdjust="spacingAndGlyphs">10</text>
<text x="14.47" y="-10.20" font-size="16.50" font-weight="bold" fill="#1a1a1a" textLength="8.62" lengthAdjust="spacingAndGlyphs">4</text>
</g>
<g transform="translate(1452.0 477.9) rotate(-90)">
<text x="-0.85" y="0.00" font-size="16.50" font-weight="bold" fill="#1a1a1a" textLength="15.00" lengthAdjust="spacingAndGlyphs">10</text>
<text x="14.19" y="-10.20" font-size="16.50" font-weight="bold" fill="#1a1a1a" textLength="9.28" lengthAdjust="spacingAndGlyphs">5</text>
</g>
<text x="1497.23" y="795.60" font-size="16.00" font-weight="bold" fill="#1a1a1a" textLength="15.44" lengthAdjust="spacingAndGlyphs">10</text>
<text x="1512.31" y="785.70" font-size="14.00" font-weight="bold" fill="#1a1a1a" textLength="9.47" lengthAdjust="spacingAndGlyphs">2</text>
<text x="1567.93" y="795.60" font-size="16.00" font-weight="bold" fill="#1a1a1a" textLength="15.44" lengthAdjust="spacingAndGlyphs">10</text>
<text x="1583.22" y="785.70" font-size="14.00" font-weight="bold" fill="#1a1a1a" textLength="9.17" lengthAdjust="spacingAndGlyphs">3</text>
<text x="1638.63" y="795.60" font-size="16.00" font-weight="bold" fill="#1a1a1a" textLength="15.44" lengthAdjust="spacingAndGlyphs">10</text>
<text x="1654.07" y="785.70" font-size="14.00" font-weight="bold" fill="#1a1a1a" textLength="8.51" lengthAdjust="spacingAndGlyphs">4</text>
<text x="1709.33" y="795.60" font-size="16.00" font-weight="bold" fill="#1a1a1a" textLength="15.44" lengthAdjust="spacingAndGlyphs">10</text>
<text x="1724.49" y="785.70" font-size="14.00" font-weight="bold" fill="#1a1a1a" textLength="9.17" lengthAdjust="spacingAndGlyphs">5</text>
<clipPath id="fc3"><rect x="1825.8" y="431.7" width="281.6" height="326.9"/></clipPath><g clip-path="url(#fc3)">
<path d="M1932 460h2m30 39h2m-98 9h2m56 0h2m-5 2h2m30 12h2m15 1h2m-66 4h2m54 1h2m-8 2h2m-51 2h2m21 0h2m-63 3h2m68 1h2m-10 1h2m-86 1h2m89 0h2m12 0h2m-9 2h2m-101 1h2m29 0h2m70 0h2m-33 1h2m34 0h2m-24 1h2m-34 2h2m50 0h2m1 0h2m3 0h2m-24 1h2m22 0h2m-36 1h2m-14 1h2m0 0h2m-24 1h2m54 0h2m-55 1h2m26 0h2m10 2h2m5 0h2m23 0h2m86 0h2m4 0h2m-213 1h2m73 0h2m-56 1h2m5 0h2m8 0h2m10 0h2m4 0h2m15 0h2m21 0h2m-40 1h2m27 0h2m2 0h2m12 0h2m41 0h2m-137 1h2m44 0h2m40 0h2m-39 1h2m47 0h2m-64 1h2m21 0h2m28 0h2m-1 0h2m2 0h2m-22 1h2m3 0h2m4 0h2m-70 1h2m17 0h2m37 0h2m17 0h2m-100 1h2m38 0h2m25 0h2m-26 1h2m22 0h2m8 0h2m6 0h2m-69 1h2m24 0h2m12 0h2m3 0h2m-22 1h2m11 0h2m4 0h2m8 0h2m39 0h2m19 0h2m-145 1h2m17 0h2m73 0h2m-91 1h2m49 0h2m14 0h2m37 0h2m-73 1h2m5 0h2m35 0h2m11 0h2m4 0h2m117 0h2m-181 1h2m12 0h2m3 0h2m-21 1h2m19 0h2m2 0h2m4 0h2m14 0h2m1 0h2m11 0h2m15 0h2m-107 1h2m3 0h2m17 0h2m7 0h2m-1 0h2m3 0h2m1 0h2m36 0h2m-68 1h2m17 0h2m-1 0h2m12 0h2m23 0h2m-54 1h2m20 0h2m1 0h2m12 0h2m1 0h2m2 0h2m7 0h2m-60 1h2m15 0h2m4 0h2m15 0h2m4 0h2m16 0h2m2 0h2m1 0h2m-97 1h2m13 0h2m11 0h2m1 0h2m-1 0h2m6 0h2m5 0h2m9 0h2m45 0h2m-69 1h2m21 0h2m15 0h2m5 0h2m-77 1h2m12 0h2m12 0h2m21 0h2m3 0h2m4 0h2m3 0h2m0 0h2m3 0h2m2 0h2m-83 1h2m8 0h2m4 0h2m0 0h2m1 0h2m26 0h2m6 0h2m23 0h2m13 0h2m-101 1h2m25 0h2m7 0h2m2 0h2m-1 0h2m2 0h2m-1 0h2m5 0h2m5 0h2m22 0h2m38 0h2m-117 1h2m22 0h2m6 0h2m4 0h2m-1 0h2m5 0h2m22 0h2m-1 0h2m17 0h2m19 0h2m-114 1h2m22 0h2m2 0h2m-1 0h2m16 0h2m9 0h2m0 0h2m6 0h2m0 0h2m1 0h2m10 0h2m4 0h2m-128 1h2m12 0h2m47 0h2m-1 0h2m0 0h2m10 0h2m12 0h2m1 0h2m0 0h2m8 0h2m4 0h2m-88 1h2m17 0h2m2 0h2m4 0h2m0 0h2m-1 0h2m0 0h2m0 0h2m1 0h2m4 0h2m1 0h2m17 0h2m0 0h2m1 0h2m9 0h2m4 0h2m4 0h2m-94 1h2m11 0h2m0 0h2m1 0h2m4 0h2m3 0h2m6 0h2m1 0h2m4 0h2m-1 0h2m8 0h2m5 0h2m3 0h2m-1 0h2m3 0h2m1 0h2m-1 0h2m0 0h2m6 0h2m21 0h2m18 0h2m21 0h2m-179 1h2m41 0h2m9 0h2m3 0h2m2 0h2m6 0h2m2 0h2m5 0h2m2 0h2m3 0h2m4 0h2m0 0h2m-89 1h2m-1 0h2m0 0h2m12 0h2m2 0h2m15 0h2m13 0h2m3 0h2m4 0h2m3 0h2m14 0h2m11 0h2m11 0h2m20 0h2m22 0h2m-188 1h2m22 0h2m9 0h2m26 0h2m-1 0h2m-1 0h2m-1 0h2m2 0h2m0 0h2m8 0h2m0 0h2m4 0h2m4 0h2m8 0h2m1 0h2m5 0h2m1 0h2m0 0h2m0 0h2m15 0h2m6 0h2m-130 1h2m12 0h2m0 0h2m2 0h2m2 0h2m3 0h2m13 0h2m2 0h2m8 0h2m3 0h2m-1 0h2m2 0h2m8 0h2m-1 0h2m9 0h2m1 0h2m0 0h2m1 0h2m6 0h2m-1 0h2m0 0h2m6 0h2m10 0h2m2 0h2m-140 1h2m32 0h2m0 0h2m3 0h2m8 0h2m0 0h2m1 0h2m2 0h2m0 0h2m1 0h2m-1 0h2m-1 0h2m0 0h2m1 0h2m2 0h2m0 0h2m1 0h2m1 0h2m15 0h2m-1 0h2m8 0h2m6 0h2m-90 1h2m6 0h2m3 0h2m1 0h2m-1 0h2m-1 0h2m5 0h2m-1 0h2m-1 0h2m2 0h2m4 0h2m1 0h2m2 0h2m3 0h2m-1 0h2m0 0h2m5 0h2m-1 0h2m0 0h2m1 0h2m1 0h2m-1 0h2m-1 0h2m0 0h2m2 0h2m-1 0h2m7 0h2m5 0h2m57 0h2m-160 1h2m2 0h2m10 0h2m-1 0h2m-1 0h2m3 0h2m1 0h2m-1 0h2m-1 0h2m0 0h2m0 0h2m-1 0h2m-1 0h2m0 0h2m3 0h2m1 0h2m2 0h2m2 0h2m5 0h2m0 0h2m1 0h2m0 0h2m2 0h2m4 0h2m7 0h2m4 0h2m11 0h2m4 0h2m-147 1h2m17 0h2m20 0h2m3 0h2m-1 0h2m7 0h2m0 0h2m1 0h2m0 0h2m2 0h2m-1 0h2m-1 0h2m5 0h2m-1 0h2m2 0h2m0 0h2m-1 0h2m-1 0h2m-1 0h2m2 0h2m2 0h2m-1 0h2m2 0h2m2 0h2m0 0h2m0 0h2m-1 0h2m5 0h2m2 0h2m-1 0h2m6 0h2m14 0h2m-120 1h2m15 0h2m11 0h2m-1 0h2m0 0h2m0 0h2m2 0h2m1 0h2m0 0h2m-1 0h2m0 0h2m1 0h2m-1 0h2m0 0h2m-1 0h2m0 0h2m2 0h2m1 0h2m2 0h2m2 0h2m-1 0h2m1 0h2m2 0h2m0 0h2m0 0h2m0 0h2m13 0h2m6 0h2m-100 1h2m6 0h2m-1 0h2m7 0h2m0 0h2m0 0h2m-1 0h2m0 0h2m-1 0h2m1 0h2m-1 0h2m4 0h2m-1 0h2m-1 0h2m1 0h2m3 0h2m-1 0h2m1 0h2m-1 0h2m0 0h2m4 0h2m2 0h2m-1 0h2m2 0h2m-1 0h2m2 0h2m1 0h2m0 0h2m7 0h2m2 0h2m46 0h2m-158 1h2m8 0h2m1 0h2m8 0h2m0 0h2m2 0h2m0 0h2m5 0h2m-1 0h2m5 0h2m1 0h2m-1 0h2m-1 0h2m1 0h2m0 0h2m2 0h2m-1 0h2m0 0h2m1 0h2m3 0h2m2 0h2m0 0h2m-1 0h2m0 0h2m1 0h2m0 0h2m-1 0h2m-1 0h2m2 0h2m1 0h2m-1 0h2m1 0h2m1 0h2m-1 0h2m3 0h2m33 0h2m22 0h2m10 0h2m-170 1h2m1 0h2m1 0h2m0 0h2m3 0h2m0 0h2m2 0h2m0 0h2m4 0h2m-1 0h2m3 0h2m1 0h2m-1 0h2m-1 0h2m-1 0h2m-1 0h2m2 0h2m-1 0h2m-1 0h2m0 0h2m-1 0h2m-1 0h2m-1 0h2m-1 0h2m-1 0h2m0 0h2m5 0h2m-1 0h2m6 0h2m0 0h2m-1 0h2m1 0h2m-1 0h2m-1 0h2m0 0h2m1 0h2m6 0h2m-1 0h2m0 0h2m0 0h2m4 0h2m12 0h2m-107 1h2m-1 0h2m5 0h2m1 0h2m3 0h2m3 0h2m-1 0h2m11 0h2m0 0h2m2 0h2m5 0h2m-1 0h2m2 0h2m15 0h2m-1 0h2m0 0h2m-1 0h2m8 0h2m-1 0h2m7 0h2m-116 1h2m-1 0h2m3 0h2m15 0h2m1 0h2m1 0h2m5 0h2m2 0h2m-1 0h2m-1 0h2m-1 0h2m-1 0h2m10 0h2m-1 0h2m-1 0h2m0 0h2m0 0h2m4 0h2m-1 0h2m2 0h2m-1 0h2m1 0h2m-1 0h2m0 0h2m-1 0h2m0 0h2m1 0h2m-1 0h2m2 0h2m5 0h2m1 0h2m-1 0h2m9 0h2m8 0h2m-125 1h2m2 0h2m18 0h2m11 0h2m-1 0h2m-1 0h2m0 0h2m0 0h2m11 0h2m-1 0h2m0 0h2m7 0h2m1 0h2m-1 0h2m-1 0h2m1 0h2m1 0h2m0 0h2m3 0h2m5 0h2m1 0h2m-1 0h2m-1 0h2m0 0h2m-1 0h2m8 0h2m27 0h2m3 0h2m-146 1h2m4 0h2m2 0h2m4 0h2m5 0h2m0 0h2m2 0h2m4 0h2m-1 0h2m0 0h2m0 0h2m0 0h2m11 0h2m0 0h2m7 0h2m-1 0h2m0 0h2m-1 0h2m4 0h2m2 0h2m2 0h2m-1 0h2m2 0h2m3 0h2m0 0h2m3 0h2m12 0h2m-1 0h2m-106 1h2m4 0h2m7 0h2m4 0h2m-1 0h2m-1 0h2m1 0h2m0 0h2m-1 0h2m13 0h2m0 0h2m-1 0h2m-1 0h2m-1 0h2m-1 0h2m1 0h2m-1 0h2m0 0h2m0 0h2m3 0h2m1 0h2m-1 0h2m-1 0h2m4 0h2m-1 0h2m2 0h2m3 0h2m1 0h2m6 0h2m19 0h2m-122 1h2m18 0h2m0 0h2m0 0h2m2 0h2m3 0h2m13 0h2m0 0h2m-1 0h2m0 0h2m3 0h2m10 0h2m8 0h2m9 0h2m1 0h2m-1 0h2m3 0h2m-108 1h2m18 0h2m4 0h2m-1 0h2m-1 0h2m0 0h2m-1 0h2m-1 0h2m2 0h2m-1 0h2m0 0h2m13 0h2m1 0h2m7 0h2m-1 0h2m0 0h2m0 0h2m-1 0h2m2 0h2m12 0h2m3 0h2m-1 0h2m29 0h2m-137 1h2m25 0h2m1 0h2m2 0h2m-1 0h2m4 0h2m0 0h2m17 0h2m0 0h2m1 0h2m-1 0h2m3 0h2m0 0h2m-1 0h2m-1 0h2m0 0h2m4 0h2m1 0h2m2 0h2m2 0h2m-1 0h2m1 0h2m1 0h2m2 0h2m2 0h2m6 0h2m-119 1h2m18 0h2m6 0h2m0 0h2m4 0h2m1 0h2m0 0h2m1 0h2m16 0h2m-1 0h2m1 0h2m-1 0h2m0 0h2m1 0h2m1 0h2m-1 0h2m0 0h2m8 0h2m2 0h2m5 0h2m4 0h2m-99 1h2m23 0h2m5 0h2m-1 0h2m17 0h2m1 0h2m-1 0h2m1 0h2m5 0h2m2 0h2m0 0h2m1 0h2m6 0h2m1 0h2m-1 0h2m1 0h2m-1 0h2m2 0h2m0 0h2m3 0h2m9 0h2m1 0h2m-138 1h2m25 0h2m4 0h2m-1 0h2m0 0h2m3 0h2m2 0h2m0 0h2m0 0h2m1 0h2m-1 0h2m0 0h2m-1 0h2m14 0h2m-1 0h2m-1 0h2m-1 0h2m8 0h2m-1 0h2m-1 0h2m8 0h2m1 0h2m4 0h2m1 0h2m3 0h2m6 0h2m6 0h2m-145 1h2m29 0h2m12 0h2m2 0h2m1 0h2m3 0h2m1 0h2m-1 0h2m-1 0h2m-1 0h2m-1 0h2m-1 0h2m0 0h2m0 0h2m15 0h2m-1 0h2m7 0h2m1 0h2m-1 0h2m1 0h2m-1 0h2m7 0h2m5 0h2m0 0h2m-1 0h2m2 0h2m3 0h2m5 0h2m-135 1h2m34 0h2m1 0h2m9 0h2m-1 0h2m0 0h2m0 0h2m3 0h2m-1 0h2m15 0h2m0 0h2m-1 0h2m-1 0h2m5 0h2m-1 0h2m5 0h2m3 0h2m2 0h2m-1 0h2m1 0h2m1 0h2m0 0h2m1 0h2m62 0h2m0 0h2m-186 1h2m17 0h2m8 0h2m10 0h2m-1 0h2m1 0h2m-1 0h2m6 0h2m0 0h2m3 0h2m2 0h2m9 0h2m1 0h2m1 0h2m-1 0h2m1 0h2m-1 0h2m3 0h2m0 0h2m1 0h2m0 0h2m-1 0h2m3 0h2m10 0h2m3 0h2m19 0h2m-122 1h2m21 0h2m0 0h2m4 0h2m1 0h2m0 0h2m2 0h2m-1 0h2m-1 0h2m-1 0h2m-1 0h2m-1 0h2m-1 0h2m5 0h2m0 0h2m-1 0h2m-1 0h2m-1 0h2m-1 0h2m0 0h2m-1 0h2m-1 0h2m-1 0h2m-1 0h2m0 0h2m5 0h2m-1 0h2m0 0h2m2 0h2m-1 0h2m2 0h2m5 0h2m7 0h2m-88 1h2m0 0h2m8 0h2m2 0h2m-1 0h2m2 0h2m4 0h2m-1 0h2m-1 0h2m2 0h2m0 0h2m-1 0h2m-1 0h2m0 0h2m-1 0h2m-1 0h2m-1 0h2m2 0h2m0 0h2m-1 0h2m1 0h2m1 0h2m4 0h2m0 0h2m-1 0h2m2 0h2m-1 0h2m0 0h2m2 0h2m3 0h2m1 0h2m-94 1h2m-1 0h2m-1 0h2m1 0h2m8 0h2m7 0h2m6 0h2m-1 0h2m-1 0h2m15 0h2m-1 0h2m-1 0h2m0 0h2m1 0h2m-1 0h2m3 0h2m2 0h2m4 0h2m2 0h2m2 0h2m6 0h2m-1 0h2m-116 1h2m8 0h2m2 0h2m5 0h2m3 0h2m3 0h2m-1 0h2m1 0h2m-1 0h2m2 0h2m4 0h2m-1 0h2m-1 0h2m-1 0h2m-1 0h2m2 0h2m24 0h2m2 0h2m1 0h2m-1 0h2m4 0h2m2 0h2m2 0h2m-1 0h2m0 0h2m0 0h2m2 0h2m1 0h2m9 0h2m19 0h2m-150 1h2m35 0h2m5 0h2m39 0h2m-1 0h2m-1 0h2m0 0h2m3 0h2m2 0h2m-1 0h2m1 0h2m1 0h2m38 0h2m-118 1h2m1 0h2m4 0h2m-1 0h2m0 0h2m5 0h2m-1 0h2m36 0h2m-1 0h2m0 0h2m0 0h2m0 0h2m2 0h2m3 0h2m2 0h2m58 0h2m3 0h2m-164 1h2m7 0h2m13 0h2m0 0h2m0 0h2m5 0h2m-1 0h2m-1 0h2m-1 0h2m-1 0h2m-1 0h2m37 0h2m-1 0h2m2 0h2m-1 0h2m5 0h2m-1 0h2m0 0h2m3 0h2m12 0h2m17 0h2m30 0h2m-199 1h2m52 0h2m7 0h2m-1 0h2m-1 0h2m-1 0h2m-1 0h2m1 0h2m40 0h2m3 0h2m0 0h2m1 0h2m5 0h2m-1 0h2m13 0h2m0 0h2m27 0h2m11 0h2m57 0h2m-196 1h2m1 0h2m8 0h2m-1 0h2m-1 0h2m43 0h2m0 0h2m4 0h2m-1 0h2m-1 0h2m1 0h2m5 0h2m0 0h2m6 0h2m3 0h2m4 0h2m51 0h2m12 0h2m-183 1h2m6 0h2m4 0h2m3 0h2m5 0h2m-1 0h2m47 0h2m0 0h2m-1 0h2m9 0h2m-1 0h2m10 0h2m69 0h2m-158 1h2m1 0h2m-1 0h2m2 0h2m49 0h2m-1 0h2m3 0h2m-1 0h2m1 0h2m-1 0h2m-1 0h2m-1 0h2m7 0h2m2 0h2m87 0h2m-213 1h2m28 0h2m10 0h2m54 0h2m-1 0h2m-1 0h2m-1 0h2m0 0h2m0 0h2m7 0h2m1 0h2m1 0h2m-117 1h2m2 0h2m27 0h2m-1 0h2m-1 0h2m0 0h2m-1 0h2m52 0h2m1 0h2m4 0h2m6 0h2m1 0h2m7 0h2m6 0h2m35 0h2m-168 1h2m14 0h2m8 0h2m5 0h2m-1 0h2m0 0h2m-1 0h2m53 0h2m-1 0h2m1 0h2m-1 0h2m1 0h2m-1 0h2m-1 0h2m-1 0h2m0 0h2m-1 0h2m-1 0h2m-1 0h2m-1 0h2m-1 0h2m18 0h2m-138 1h2m31 0h2m4 0h2m0 0h2m56 0h2m0 0h2m-1 0h2m1 0h2m-1 0h2m1 0h2m-1 0h2m0 0h2m10 0h2m11 0h2m0 0h2m-135 1h2m7 0h2m5 0h2m-1 0h2m0 0h2m3 0h2m1 0h2m-1 0h2m-1 0h2m-1 0h2m0 0h2m-1 0h2m0 0h2m56 0h2m-1 0h2m-1 0h2m-1 0h2m1 0h2m1 0h2m7 0h2m4 0h2m2 0h2m41 0h2m-186 1h2m7 0h2m33 0h2m4 0h2m-1 0h2m-1 0h2m-1 0h2m0 0h2m57 0h2m2 0h2m-1 0h2m3 0h2m1 0h2m14 0h2m38 0h2m-157 1h2m18 0h2m65 0h2m2 0h2m-1 0h2m-1 0h2m-1 0h2m0 0h2m-1 0h2m-1 0h2m17 0h2m-133 1h2m21 0h2m0 0h2m1 0h2m3 0h2m0 0h2m65 0h2m4 0h2m2 0h2m4 0h2m24 0h2m17 0h2m84 0h2m-264 1h2m28 0h2m0 0h2m10 0h2m3 0h2m0 0h2m61 0h2m-1 0h2m-1 0h2m0 0h2m-1 0h2m0 0h2m-1 0h2m-1 0h2m3 0h2m5 0h2m0 0h2m1 0h2m-123 1h2m4 0h2m14 0h2m2 0h2m0 0h2m1 0h2m-1 0h2m-1 0h2m60 0h2m-1 0h2m-1 0h2m0 0h2m-1 0h2m3 0h2m0 0h2m-1 0h2m0 0h2m1 0h2m0 0h2m-108 1h2m3 0h2m1 0h2m7 0h2m70 0h2m0 0h2m2 0h2m1 0h2m-1 0h2m0 0h2m0 0h2m4 0h2m0 0h2m-144 1h2m7 0h2m24 0h2m0 0h2m3 0h2m1 0h2m1 0h2m-1 0h2m-1 0h2m66 0h2m0 0h2m-1 0h2m0 0h2m0 0h2m-1 0h2m3 0h2m0 0h2m9 0h2m1 0h2m0 0h2m-121 1h2m10 0h2m5 0h2m-1 0h2m1 0h2m63 0h2m-1 0h2m1 0h2m0 0h2m1 0h2m-1 0h2m0 0h2m-1 0h2m2 0h2m-1 0h2m11 0h2m3 0h2m-133 1h2m3 0h2m10 0h2m6 0h2m-1 0h2m68 0h2m0 0h2m-1 0h2m0 0h2m-1 0h2m-1 0h2m-1 0h2m2 0h2m1 0h2m-1 0h2m-123 1h2m29 0h2m0 0h2m1 0h2m0 0h2m65 0h2m-1 0h2m1 0h2m-1 0h2m-1 0h2m0 0h2m-1 0h2m1 0h2m2 0h2m-1 0h2m0 0h2m64 0h2m-192 1h2m30 0h2m71 0h2m0 0h2m-1 0h2m-1 0h2m2 0h2m-1 0h2m-1 0h2m-1 0h2m0 0h2m2 0h2m-124 1h2m13 0h2m-1 0h2m13 0h2m2 0h2m-1 0h2m0 0h2m68 0h2m-1 0h2m-1 0h2m-1 0h2m-1 0h2m0 0h2m-1 0h2m-1 0h2m-1 0h2m19 0h2m28 0h2m-175 1h2m11 0h2m19 0h2m3 0h2m-1 0h2m70 0h2m-1 0h2m-1 0h2m-1 0h2m-1 0h2m-1 0h2m-1 0h2m2 0h2m20 0h2m-143 1h2m12 0h2m11 0h2m6 0h2m2 0h2m67 0h2m-1 0h2m0 0h2m-1 0h2m-1 0h2m-1 0h2m-1 0h2m-1 0h2m-1 0h2m0 0h2m3 0h2m1 0h2m0 0h2m25 0h2m-153 1h2m16 0h2m6 0h2m75 0h2m0 0h2m1 0h2m-1 0h2m-1 0h2m-1 0h2m-1 0h2m-1 0h2m9 0h2m4 0h2m-137 1h2m33 0h2m-1 0h2m-1 0h2m-1 0h2m68 0h2m0 0h2m0 0h2m-1 0h2m-1 0h2m4 0h2m0 0h2m-105 1h2m0 0h2m14 0h2m-1 0h2m69 0h2m-1 0h2m0 0h2m1 0h2m0 0h2m1 0h2m-1 0h2m10 0h2m21 0h2m8 0h2m-169 1h2m9 0h2m12 0h2m1 0h2m6 0h2m72 0h2m0 0h2m-1 0h2m-1 0h2m-1 0h2m-1 0h2m-1 0h2m-1 0h2m0 0h2m0 0h2m3 0h2m51 0h2m-170 1h2m13 0h2m3 0h2m3 0h2m-1 0h2m72 0h2m0 0h2m-1 0h2m1 0h2m0 0h2m4 0h2m1 0h2m-100 1h2m77 0h2m0 0h2m-1 0h2m-1 0h2m-1 0h2m2 0h2m0 0h2m-1 0h2m3 0h2m1 0h2m23 0h2m-144 1h2m7 0h2m0 0h2m1 0h2m5 0h2m-1 0h2m1 0h2m-1 0h2m70 0h2m0 0h2m-1 0h2m0 0h2m0 0h2m-1 0h2m-1 0h2m-1 0h2m0 0h2m1 0h2m-1 0h2m33 0h2m-129 1h2m0 0h2m-1 0h2m70 0h2m1 0h2m-1 0h2m-1 0h2m0 0h2m-1 0h2m-1 0h2m59 0h2m-174 1h2m9 0h2m-1 0h2m10 0h2m2 0h2m-1 0h2m72 0h2m-1 0h2m-1 0h2m3 0h2m3 0h2m3 0h2m29 0h2m25 0h2m-199 1h2m14 0h2m6 0h2m5 0h2m2 0h2m3 0h2m6 0h2m71 0h2m0 0h2m0 0h2m0 0h2m-1 0h2m-1 0h2m-1 0h2m0 0h2m-13 1h2m0 0h2m0 0h2m-1 0h2m0 0h2m-1 0h2m1 0h2m-1 0h2m9 0h2m0 0h2m4 0h2m-1 0h2m40 0h2m-165 1h2m12 0h2m74 0h2m0 0h2m-1 0h2m0 0h2m-1 0h2m-1 0h2m-1 0h2m2 0h2m3 0h2m28 0h2m0 0h2m31 0h2m-196 1h2m29 0h2m0 0h2m-1 0h2m2 0h2m72 0h2m-1 0h2m2 0h2m-1 0h2m1 0h2m-1 0h2m3 0h2m36 0h2m-150 1h2m17 0h2m-1 0h2m73 0h2m-1 0h2m0 0h2m0 0h2m1 0h2m-1 0h2m4 0h2m-1 0h2m-1 0h2m-1 0h2m-125 1h2m17 0h2m2 0h2m3 0h2m0 0h2m-1 0h2m72 0h2m-1 0h2m1 0h2m-1 0h2m-1 0h2m1 0h2m0 0h2m0 0h2m4 0h2m34 0h2m-158 1h2m5 0h2m12 0h2m-1 0h2m-1 0h2m76 0h2m2 0h2m-1 0h2m2 0h2m-1 0h2m11 0h2m2 0h2m60 0h2m-187 1h2m16 0h2m0 0h2m73 0h2m-1 0h2m-1 0h2m-1 0h2m2 0h2m-1 0h2m-1 0h2m-1 0h2m-1 0h2m-1 0h2m1 0h2m17 0h2m-154 1h2m5 0h2m31 0h2m0 0h2m-1 0h2m73 0h2m-1 0h2m0 0h2m4 0h2m6 0h2m-1 0h2m-1 0h2m23 0h2m-130 1h2m6 0h2m75 0h2m-1 0h2m2 0h2m-1 0h2m3 0h2m0 0h2m2 0h2m0 0h2m2 0h2m-1 0h2m2 0h2m21 0h2m20 0h2m-160 1h2m-1 0h2m0 0h2m0 0h2m-1 0h2m76 0h2m-1 0h2m0 0h2m-1 0h2m0 0h2m-1 0h2m-1 0h2m-1 0h2m2 0h2m2 0h2m1 0h2m14 0h2m29 0h2m-174 1h2m1 0h2m20 0h2m79 0h2m0 0h2m-1 0h2m0 0h2m2 0h2m-1 0h2m0 0h2m1 0h2m-1 0h2m78 0h2m-174 1h2m73 0h2m4 0h2m0 0h2m-1 0h2m2 0h2m-1 0h2m4 0h2m-1 0h2m12 0h2m-128 1h2m6 0h2m1 0h2m0 0h2m2 0h2m72 0h2m-1 0h2m-1 0h2m-1 0h2m-1 0h2m1 0h2m-1 0h2m2 0h2m1 0h2m13 0h2m61 0h2m-195 1h2m9 0h2m8 0h2m-1 0h2m76 0h2m0 0h2m0 0h2m-1 0h2m-1 0h2m-1 0h2m-1 0h2m0 0h2m-1 0h2m0 0h2m-1 0h2m1 0h2m-1 0h2m32 0h2m2 0h2m31 0h2m-191 1h2m1 0h2m8 0h2m6 0h2m2 0h2m73 0h2m-1 0h2m-1 0h2m-1 0h2m0 0h2m7 0h2m-1 0h2m0 0h2m1 0h2m-1 0h2m-120 1h2m3 0h2m10 0h2m78 0h2m-1 0h2m0 0h2m0 0h2m-1 0h2m-1 0h2m3 0h2m-1 0h2m21 0h2m-121 1h2m1 0h2m0 0h2m-1 0h2m1 0h2m76 0h2m-1 0h2m0 0h2m8 0h2m-1 0h2m-1 0h2m101 0h2m-243 1h2m41 0h2m-1 0h2m73 0h2m-1 0h2m-1 0h2m-1 0h2m-1 0h2m-1 0h2m1 0h2m-1 0h2m0 0h2m-1 0h2m-1 0h2m1 0h2m13 0h2m-130 1h2m6 0h2m1 0h2m5 0h2m2 0h2m73 0h2m-1 0h2m-1 0h2m-1 0h2m-1 0h2m2 0h2m2 0h2m7 0h2m12 0h2m20 0h2m-177 1h2m1 0h2m10 0h2m0 0h2m1 0h2m10 0h2m2 0h2m-1 0h2m1 0h2m1 0h2m72 0h2m-1 0h2m-1 0h2m-1 0h2m0 0h2m-1 0h2m-1 0h2m-1 0h2m-1 0h2m5 0h2m-1 0h2m12 0h2m49 0h2m9 0h2m-201 1h2m13 0h2m1 0h2m0 0h2m7 0h2m-1 0h2m-1 0h2m-1 0h2m73 0h2m-1 0h2m1 0h2m0 0h2m-1 0h2m1 0h2m-1 0h2m0 0h2m0 0h2m5 0h2m24 0h2m-132 1h2m5 0h2m74 0h2m-1 0h2m2 0h2m-1 0h2m2 0h2m2 0h2m-1 0h2m1 0h2m3 0h2m78 0h2m-202 1h2m-1 0h2m3 0h2m4 0h2m-1 0h2m1 0h2m77 0h2m1 0h2m0 0h2m-1 0h2m-1 0h2m-1 0h2m-1 0h2m-1 0h2m-1 0h2m-1 0h2m3 0h2m4 0h2m6 0h2m8 0h2m7 0h2m-154 1h2m0 0h2m8 0h2m1 0h2m1 0h2m0 0h2m2 0h2m77 0h2m1 0h2m0 0h2m1 0h2m1 0h2m-1 0h2m-1 0h2m2 0h2m-1 0h2m0 0h2m26 0h2m17 0h2m15 0h2m-178 1h2m3 0h2m-1 0h2m2 0h2m-1 0h2m3 0h2m-1 0h2m72 0h2m0 0h2m-1 0h2m2 0h2m-1 0h2m-1 0h2m7 0h2m1 0h2m3 0h2m13 0h2m-148 1h2m18 0h2m6 0h2m-1 0h2m73 0h2m0 0h2m0 0h2m0 0h2m0 0h2m1 0h2m-1 0h2m-1 0h2m1 0h2m11 0h2m15 0h2m9 0h2m-169 1h2m14 0h2m2 0h2m5 0h2m2 0h2m0 0h2m0 0h2m73 0h2m2 0h2m0 0h2m3 0h2m1 0h2m2 0h2m0 0h2m7 0h2m4 0h2m25 0h2m31 0h2m-210 1h2m4 0h2m24 0h2m2 0h2m3 0h2m72 0h2m-1 0h2m-1 0h2m6 0h2m1 0h2m0 0h2m14 0h2m27 0h2m10 0h2m-165 1h2m4 0h2m1 0h2m3 0h2m74 0h2m-1 0h2m-1 0h2m-1 0h2m-1 0h2m1 0h2m-1 0h2m-1 0h2m19 0h2m2 0h2m15 0h2m4 0h2m14 0h2m1 0h2m-79 1h2m-1 0h2m-1 0h2m-1 0h2m2 0h2m0 0h2m1 0h2m5 0h2m8 0h2m-145 1h2m-1 0h2m4 0h2m16 0h2m1 0h2m8 0h2m1 0h2m-1 0h2m69 0h2m2 0h2m-1 0h2m-1 0h2m1 0h2m4 0h2m-1 0h2m-1 0h2m14 0h2m16 0h2m-145 1h2m12 0h2m4 0h2m-1 0h2m69 0h2m1 0h2m0 0h2m-1 0h2m-1 0h2m-1 0h2m0 0h2m-1 0h2m-1 0h2m0 0h2m3 0h2m9 0h2m7 0h2m-138 1h2m-1 0h2m-1 0h2m2 0h2m1 0h2m1 0h2m7 0h2m2 0h2m-1 0h2m71 0h2m-1 0h2m-1 0h2m1 0h2m1 0h2m0 0h2m7 0h2m103 0h2m-231 1h2m25 0h2m0 0h2m1 0h2m69 0h2m0 0h2m7 0h2m0 0h2m2 0h2m6 0h2m3 0h2m23 0h2m-147 1h2m2 0h2m3 0h2m3 0h2m-1 0h2m-1 0h2m0 0h2m-1 0h2m74 0h2m0 0h2m0 0h2m-1 0h2m-1 0h2m1 0h2m3 0h2m1 0h2m5 0h2m7 0h2m23 0h2m-154 1h2m0 0h2m86 0h2m-1 0h2m-1 0h2m-1 0h2m-1 0h2m-1 0h2m3 0h2m7 0h2m48 0h2m11 0h2m9 0h2m-182 1h2m1 0h2m4 0h2m0 0h2m1 0h2m68 0h2m-1 0h2m-1 0h2m-1 0h2m-1 0h2m12 0h2m2 0h2m0 0h2m1 0h2m17 0h2m-136 1h2m1 0h2m10 0h2m0 0h2m0 0h2m67 0h2m-1 0h2m1 0h2m1 0h2m0 0h2m0 0h2m0 0h2m0 0h2m4 0h2m13 0h2m8 0h2m18 0h2m46 0h2m-197 1h2m3 0h2m3 0h2m69 0h2m-1 0h2m0 0h2m1 0h2m-1 0h2m0 0h2m1 0h2m2 0h2m1 0h2m6 0h2m1 0h2m26 0h2m37 0h2m-213 1h2m23 0h2m11 0h2m4 0h2m67 0h2m-1 0h2m-1 0h2m-1 0h2m-1 0h2m-1 0h2m2 0h2m0 0h2m3 0h2m6 0h2m0 0h2m3 0h2m3 0h2m12 0h2m8 0h2m2 0h2m-167 1h2m23 0h2m1 0h2m71 0h2m-1 0h2m0 0h2m-1 0h2m-1 0h2m0 0h2m-1 0h2m-1 0h2m0 0h2m1 0h2m-1 0h2m-1 0h2m-1 0h2m40 0h2m-152 1h2m5 0h2m11 0h2m2 0h2m65 0h2m-1 0h2m0 0h2m0 0h2m0 0h2m0 0h2m-1 0h2m1 0h2m0 0h2m-1 0h2m4 0h2m17 0h2m5 0h2m-166 1h2m21 0h2m3 0h2m4 0h2m0 0h2m77 0h2m-1 0h2m-1 0h2m-1 0h2m2 0h2m2 0h2m-1 0h2m0 0h2m0 0h2m2 0h2m6 0h2m-118 1h2m2 0h2m2 0h2m4 0h2m2 0h2m0 0h2m67 0h2m-1 0h2m1 0h2m6 0h2m0 0h2m5 0h2m-1 0h2m14 0h2m1 0h2m-156 1h2m10 0h2m24 0h2m3 0h2m-1 0h2m0 0h2m63 0h2m1 0h2m1 0h2m0 0h2m3 0h2m1 0h2m-1 0h2m0 0h2m6 0h2m0 0h2m3 0h2m12 0h2m13 0h2m29 0h2m-193 1h2m6 0h2m1 0h2m8 0h2m1 0h2m6 0h2m63 0h2m0 0h2m0 0h2m3 0h2m0 0h2m1 0h2m-1 0h2m-1 0h2m2 0h2m-1 0h2m46 0h2m-151 1h2m6 0h2m0 0h2m70 0h2m-1 0h2m-1 0h2m2 0h2m0 0h2m0 0h2m7 0h2m1 0h2m19 0h2m-1 0h2m18 0h2m-155 1h2m3 0h2m-1 0h2m3 0h2m-1 0h2m-1 0h2m4 0h2m1 0h2m62 0h2m-1 0h2m-1 0h2m0 0h2m-1 0h2m1 0h2m0 0h2m-1 0h2m7 0h2m1 0h2m27 0h2m-160 1h2m-1 0h2m16 0h2m9 0h2m2 0h2m0 0h2m3 0h2m64 0h2m3 0h2m1 0h2m-1 0h2m-1 0h2m2 0h2m-1 0h2m0 0h2m30 0h2m-152 1h2m-1 0h2m8 0h2m8 0h2m0 0h2m0 0h2m0 0h2m70 0h2m0 0h2m-1 0h2m-1 0h2m-1 0h2m0 0h2m-1 0h2m1 0h2m0 0h2m0 0h2m4 0h2m4 0h2m-1 0h2m5 0h2m77 0h2m-206 1h2m20 0h2m3 0h2m0 0h2m62 0h2m-1 0h2m0 0h2m1 0h2m11 0h2m0 0h2m-113 1h2m5 0h2m10 0h2m2 0h2m-1 0h2m63 0h2m0 0h2m-1 0h2m-1 0h2m1 0h2m2 0h2m4 0h2m2 0h2m2 0h2m4 0h2m14 0h2m18 0h2m-170 1h2m11 0h2m17 0h2m4 0h2m58 0h2m1 0h2m0 0h2m1 0h2m-1 0h2m0 0h2m0 0h2m1 0h2m-1 0h2m-1 0h2m2 0h2m1 0h2m1 0h2m4 0h2m35 0h2m-150 1h2m3 0h2m10 0h2m-1 0h2m56 0h2m0 0h2m-1 0h2m0 0h2m-1 0h2m2 0h2m0 0h2m0 0h2m1 0h2m43 0h2m21 0h2m-145 1h2m56 0h2m-1 0h2m0 0h2m2 0h2m-1 0h2m-1 0h2m-1 0h2m0 0h2m0 0h2m1 0h2m0 0h2m-1 0h2m3 0h2m7 0h2m17 0h2m-114 1h2m-1 0h2m59 0h2m-1 0h2m6 0h2m3 0h2m0 0h2m-1 0h2m-1 0h2m1 0h2m36 0h2m-146 1h2m-1 0h2m13 0h2m3 0h2m58 0h2m-1 0h2m-1 0h2m0 0h2m0 0h2m0 0h2m0 0h2m-1 0h2m-1 0h2m-1 0h2m-1 0h2m-1 0h2m3 0h2m1 0h2m7 0h2m3 0h2m13 0h2m14 0h2m22 0h2m-181 1h2m8 0h2m2 0h2m-1 0h2m3 0h2m0 0h2m7 0h2m55 0h2m-1 0h2m-1 0h2m-1 0h2m-1 0h2m0 0h2m1 0h2m0 0h2m-1 0h2m0 0h2m4 0h2m-1 0h2m0 0h2m7 0h2m19 0h2m1 0h2m5 0h2m-149 1h2m-1 0h2m11 0h2m4 0h2m3 0h2m-1 0h2m55 0h2m2 0h2m2 0h2m3 0h2m0 0h2m-1 0h2m6 0h2m0 0h2m0 0h2m5 0h2m-134 1h2m21 0h2m8 0h2m0 0h2m58 0h2m1 0h2m1 0h2m-1 0h2m0 0h2m2 0h2m-1 0h2m0 0h2m-1 0h2m5 0h2m0 0h2m1 0h2m10 0h2m36 0h2m-158 1h2m12 0h2m-1 0h2m-1 0h2m2 0h2m2 0h2m51 0h2m-1 0h2m0 0h2m0 0h2m2 0h2m0 0h2m0 0h2m0 0h2m-1 0h2m-1 0h2m-1 0h2m3 0h2m6 0h2m1 0h2m-1 0h2m-1 0h2m5 0h2m11 0h2m-162 1h2m5 0h2m23 0h2m8 0h2m3 0h2m-1 0h2m0 0h2m51 0h2m-1 0h2m2 0h2m-1 0h2m-1 0h2m-1 0h2m1 0h2m0 0h2m0 0h2m-1 0h2m4 0h2m1 0h2m39 0h2m28 0h2m-178 1h2m2 0h2m4 0h2m3 0h2m4 0h2m-1 0h2m2 0h2m-1 0h2m54 0h2m0 0h2m1 0h2m-1 0h2m0 0h2m1 0h2m2 0h2m0 0h2m2 0h2m-1 0h2m5 0h2m-138 1h2m18 0h2m15 0h2m3 0h2m1 0h2m1 0h2m0 0h2m0 0h2m49 0h2m-1 0h2m-1 0h2m1 0h2m-1 0h2m6 0h2m0 0h2m-1 0h2m-1 0h2m-1 0h2m18 0h2m-140 1h2m13 0h2m10 0h2m8 0h2m8 0h2m-1 0h2m48 0h2m-1 0h2m0 0h2m3 0h2m0 0h2m2 0h2m-1 0h2m-1 0h2m1 0h2m4 0h2m42 0h2m29 0h2m-200 1h2m4 0h2m13 0h2m4 0h2m5 0h2m6 0h2m2 0h2m1 0h2m47 0h2m0 0h2m-1 0h2m4 0h2m-1 0h2m0 0h2m1 0h2m-1 0h2m0 0h2m1 0h2m-1 0h2m-1 0h2m4 0h2m-1 0h2m-1 0h2m11 0h2m26 0h2m45 0h2m-215 1h2m5 0h2m26 0h2m-1 0h2m4 0h2m-1 0h2m0 0h2m46 0h2m-1 0h2m-1 0h2m-1 0h2m0 0h2m0 0h2m1 0h2m0 0h2m1 0h2m1 0h2m2 0h2m0 0h2m4 0h2m-104 1h2m16 0h2m0 0h2m3 0h2m48 0h2m-1 0h2m0 0h2m-1 0h2m-1 0h2m0 0h2m-1 0h2m1 0h2m3 0h2m-1 0h2m-1 0h2m0 0h2m1 0h2m-1 0h2m3 0h2m-1 0h2m-1 0h2m0 0h2m1 0h2m-94 1h2m3 0h2m0 0h2m44 0h2m2 0h2m-1 0h2m5 0h2m2 0h2m-1 0h2m1 0h2m-1 0h2m-1 0h2m2 0h2m-1 0h2m-1 0h2m2 0h2m2 0h2m2 0h2m30 0h2m-158 1h2m23 0h2m56 0h2m-1 0h2m0 0h2m-1 0h2m0 0h2m1 0h2m1 0h2m-1 0h2m5 0h2m-1 0h2m-1 0h2m1 0h2m-1 0h2m7 0h2m95 0h2m-222 1h2m4 0h2m17 0h2m10 0h2m-1 0h2m-1 0h2m-1 0h2m0 0h2m44 0h2m-1 0h2m-1 0h2m-1 0h2m-1 0h2m-1 0h2m4 0h2m0 0h2m4 0h2m0 0h2m3 0h2m-1 0h2m3 0h2m2 0h2m2 0h2m-109 1h2m-1 0h2m8 0h2m4 0h2m46 0h2m0 0h2m0 0h2m-1 0h2m1 0h2m-1 0h2m5 0h2m1 0h2m3 0h2m6 0h2m-1 0h2m-1 0h2m-1 0h2m-1 0h2m-1 0h2m-1 0h2m24 0h2m29 0h2m10 0h2m-169 1h2m9 0h2m1 0h2m2 0h2m42 0h2m0 0h2m0 0h2m1 0h2m-1 0h2m1 0h2m-1 0h2m3 0h2m0 0h2m-1 0h2m-1 0h2m9 0h2m13 0h2m-119 1h2m5 0h2m1 0h2m5 0h2m-1 0h2m2 0h2m-1 0h2m-1 0h2m41 0h2m2 0h2m7 0h2m3 0h2m0 0h2m0 0h2m2 0h2m0 0h2m2 0h2m35 0h2m-156 1h2m7 0h2m2 0h2m-1 0h2m2 0h2m3 0h2m5 0h2m1 0h2m0 0h2m6 0h2m39 0h2m-1 0h2m0 0h2m0 0h2m1 0h2m1 0h2m-1 0h2m-1 0h2m-1 0h2m0 0h2m-1 0h2m3 0h2m-1 0h2m0 0h2m3 0h2m0 0h2m3 0h2m52 0h2m27 0h2m-188 1h2m21 0h2m0 0h2m0 0h2m41 0h2m0 0h2m1 0h2m2 0h2m1 0h2m-1 0h2m-1 0h2m2 0h2m1 0h2m-1 0h2m5 0h2m2 0h2m39 0h2m0 0h2m57 0h2m-228 1h2m6 0h2m17 0h2m4 0h2m5 0h2m-1 0h2m1 0h2m0 0h2m-1 0h2m-1 0h2m36 0h2m1 0h2m-1 0h2m0 0h2m-1 0h2m-1 0h2m0 0h2m2 0h2m-1 0h2m4 0h2m1 0h2m1 0h2m3 0h2m1 0h2m3 0h2m-1 0h2m-144 1h2m31 0h2m7 0h2m1 0h2m14 0h2m-1 0h2m-1 0h2m-1 0h2m34 0h2m2 0h2m0 0h2m3 0h2m1 0h2m-1 0h2m4 0h2m0 0h2m-1 0h2m2 0h2m0 0h2m4 0h2m1 0h2m-1 0h2m-1 0h2m-99 1h2m55 0h2m-1 0h2m3 0h2m-1 0h2m-1 0h2m3 0h2m-1 0h2m0 0h2m0 0h2m2 0h2m0 0h2m-1 0h2m-1 0h2m2 0h2m0 0h2m-1 0h2m8 0h2m-116 1h2m11 0h2m-1 0h2m4 0h2m2 0h2m3 0h2m38 0h2m-1 0h2m1 0h2m-1 0h2m0 0h2m0 0h2m1 0h2m1 0h2m-1 0h2m-1 0h2m0 0h2m3 0h2m-1 0h2m0 0h2m-1 0h2m1 0h2m-1 0h2m36 0h2m-143 1h2m26 0h2m0 0h2m2 0h2m35 0h2m0 0h2m0 0h2m1 0h2m0 0h2m1 0h2m5 0h2m3 0h2m0 0h2m3 0h2m1 0h2m17 0h2m-131 1h2m22 0h2m0 0h2m0 0h2m1 0h2m5 0h2m0 0h2m0 0h2m32 0h2m2 0h2m1 0h2m4 0h2m-1 0h2m3 0h2m-1 0h2m0 0h2m0 0h2m2 0h2m5 0h2m0 0h2m0 0h2m-1 0h2m-132 1h2m37 0h2m-1 0h2m5 0h2m5 0h2m1 0h2m-1 0h2m28 0h2m1 0h2m2 0h2m4 0h2m0 0h2m-1 0h2m2 0h2m0 0h2m-1 0h2m0 0h2m5 0h2m3 0h2m1 0h2m4 0h2m1 0h2m-119 1h2m6 0h2m5 0h2m11 0h2m-1 0h2m3 0h2m-1 0h2m0 0h2m-1 0h2m27 0h2m0 0h2m3 0h2m-1 0h2m1 0h2m1 0h2m0 0h2m0 0h2m3 0h2m-1 0h2m3 0h2m13 0h2m2 0h2m-1 0h2m1 0h2m24 0h2m-146 1h2m11 0h2m13 0h2m1 0h2m1 0h2m0 0h2m33 0h2m-1 0h2m0 0h2m1 0h2m0 0h2m-1 0h2m1 0h2m0 0h2m1 0h2m2 0h2m0 0h2m-1 0h2m-1 0h2m3 0h2m-1 0h2m7 0h2m-122 1h2m9 0h2m5 0h2m2 0h2m3 0h2m0 0h2m2 0h2m9 0h2m27 0h2m6 0h2m1 0h2m-1 0h2m0 0h2m-1 0h2m0 0h2m0 0h2m-1 0h2m0 0h2m1 0h2m-1 0h2m1 0h2m-1 0h2m-1 0h2m0 0h2m2 0h2m3 0h2m17 0h2m-153 1h2m48 0h2m2 0h2m0 0h2m4 0h2m0 0h2m24 0h2m-1 0h2m-1 0h2m2 0h2m-1 0h2m1 0h2m0 0h2m-1 0h2m2 0h2m-1 0h2m3 0h2m1 0h2m0 0h2m-1 0h2m-1 0h2m-1 0h2m-1 0h2m-1 0h2m0 0h2m1 0h2m4 0h2m-1 0h2m0 0h2m2 0h2m-99 1h2m3 0h2m0 0h2m-1 0h2m-1 0h2m4 0h2m0 0h2m1 0h2m23 0h2m10 0h2m-1 0h2m3 0h2m-1 0h2m1 0h2m-1 0h2m-1 0h2m2 0h2m-1 0h2m0 0h2m0 0h2m3 0h2m2 0h2m7 0h2m-103 1h2m18 0h2m0 0h2m-1 0h2m-1 0h2m0 0h2m24 0h2m-1 0h2m-1 0h2m3 0h2m-1 0h2m-1 0h2m1 0h2m-1 0h2m1 0h2m-1 0h2m-1 0h2m-1 0h2m2 0h2m3 0h2m0 0h2m-1 0h2m9 0h2m-126 1h2m1 0h2m17 0h2m4 0h2m-1 0h2m1 0h2m21 0h2m-1 0h2m23 0h2m1 0h2m-1 0h2m1 0h2m-1 0h2m-1 0h2m1 0h2m1 0h2m-1 0h2m-1 0h2m-1 0h2m-1 0h2m-1 0h2m6 0h2m-1 0h2m0 0h2m1 0h2m0 0h2m-1 0h2m1 0h2m0 0h2m13 0h2m0 0h2m2 0h2m-128 1h2m17 0h2m8 0h2m2 0h2m0 0h2m0 0h2m1 0h2m31 0h2m0 0h2m-1 0h2m-1 0h2m2 0h2m-1 0h2m2 0h2m3 0h2m-1 0h2m-1 0h2m0 0h2m-1 0h2m-1 0h2m-1 0h2m0 0h2m0 0h2m-1 0h2m1 0h2m-1 0h2m2 0h2m10 0h2m31 0h2m-167 1h2m24 0h2m-1 0h2m0 0h2m-1 0h2m8 0h2m0 0h2m4 0h2m39 0h2m-1 0h2m0 0h2m-1 0h2m-1 0h2m-1 0h2m0 0h2m0 0h2m8 0h2m11 0h2m-1 0h2m-1 0h2m-148 1h2m51 0h2m6 0h2m-1 0h2m1 0h2m-1 0h2m-1 0h2m48 0h2m0 0h2m-1 0h2m-1 0h2m0 0h2m2 0h2m0 0h2m-103 1h2m13 0h2m1 0h2m1 0h2m2 0h2m0 0h2m1 0h2m0 0h2m1 0h2m54 0h2m-1 0h2m-1 0h2m-1 0h2m0 0h2m0 0h2m-1 0h2m15 0h2m30 0h2m59 0h2m-197 1h2m4 0h2m1 0h2m7 0h2m61 0h2m-1 0h2m0 0h2m-1 0h2m0 0h2m1 0h2m-1 0h2m0 0h2m0 0h2m4 0h2m40 0h2m-145 1h2m1 0h2m-1 0h2m2 0h2m2 0h2m-1 0h2m0 0h2m68 0h2m-1 0h2m-1 0h2m7 0h2m20 0h2m-122 1h2m0 0h2m-1 0h2m0 0h2m-1 0h2m-1 0h2m2 0h2m76 0h2m1 0h2m-1 0h2m2 0h2m1 0h2m7 0h2m21 0h2m-156 1h2m25 0h2m-1 0h2m-1 0h2m0 0h2m1 0h2m77 0h2m6 0h2m2 0h2m-1 0h2m-144 1h2m37 0h2m-1 0h2m1 0h2m2 0h2m0 0h2m80 0h2m-1 0h2m13 0h2m-128 1h2m9 0h2m2 0h2m0 0h2m97 0h2m7 0h2m49 0h2m-172 1h2m11 0h2m93 0h2m-1 0h2m-1 0h2m-99 1h2m-1 0h2m0 0h2m-1 0h2m93 0h2m0 0h2m0 0h2m-134 1h2m29 0h2m97 0h2m8 0h2m-140 1h2m11 0h2m5 0h2m1 0h2m-1 0h2m3 0h2m93 0h2m0 0h2m0 0h2m1 0h2m-106 1h2m-1 0h2m102 0h2m9 0h2m-153 1h2m24 0h2m106 0h2m2 0h2m8 0h2m-135 1h2m4 0h2m2 0h2m1 0h2m112 0h2" stroke="#3a47a2" stroke-width="2" fill="none"/>
<path d="M1900.7 614.8L1899.0 615.9L1897.3 617.1L1895.8 618.5L1894.3 620.0L1892.8 621.6L1891.5 623.3L1890.3 625.2L1889.1 627.3L1888.0 629.4L1887.0 631.7L1886.0 634.2L1885.1 636.7L1884.2 639.4L1883.4 642.3L1882.6 645.3L1881.9 648.4L1881.3 651.6L1880.7 654.9L1880.3 658.1L1879.9 661.4L1879.6 664.6L1879.5 667.9L1879.4 671.1L1879.4 674.4L1879.6 677.6L1879.8 680.8L1880.0 684.0L1880.4 687.1L1880.8 690.1L1881.4 693.1L1882.0 696.0L1882.6 698.9L1883.4 701.8L1884.2 704.6L1885.0 707.4L1885.9 710.1L1886.8 712.8L1887.8 715.5L1888.8 718.2L1889.8 720.8L1890.9 723.4L1892.0 725.9L1893.0 728.2L1894.0 730.4L1895.0 732.5L1895.9 734.4L1896.8 736.2L1897.7 737.8L1898.6 739.4L1899.5 740.7L1900.6 741.8L1901.7 742.8L1902.9 743.6L1904.1 744.1L1905.5 744.5L1906.9 744.7L1908.5 744.7L1910.0 744.5L1911.5 744.0L1913.0 743.2L1914.5 742.2L1916.0 741.0L1917.4 739.5L1918.9 737.8L1920.4 735.9L1921.9 733.8L1923.4 731.6L1925.0 729.3L1926.7 727.0L1928.3 724.5L1930.1 721.9L1931.8 719.2L1933.7 716.3L1935.4 713.5L1937.1 710.5L1938.8 707.6L1940.4 704.5L1941.9 701.4L1943.4 698.3L1944.8 695.1L1946.2 691.8L1947.4 688.6L1948.6 685.3L1949.6 682.0L1950.4 678.8L1951.2 675.5L1951.8 672.3L1952.3 669.0L1952.7 665.8L1953.0 662.6L1953.2 659.4L1953.3 656.3L1953.3 653.3L1953.3 650.3L1953.1 647.4L1952.9 644.5L1952.6 641.7L1952.2 639.0L1951.6 636.4L1950.9 633.9L1950.1 631.5L1949.2 629.2L1948.1 627.0L1946.9 625.0L1945.6 623.0L1944.2 621.2L1942.8 619.6L1941.2 618.2L1939.6 616.9L1938.0 615.7L1936.2 614.7L1934.4 613.9L1932.6 613.3L1930.6 612.7L1928.6 612.2L1926.5 611.8L1924.4 611.5L1922.2 611.2L1919.9 611.1L1917.6 611.0L1915.2 611.0L1912.9 611.1L1910.6 611.4L1908.5 611.8L1906.4 612.4L1904.4 613.0L1902.5 613.9ZM1908.0 603.3L1908.5 601.7L1909.0 600.2L1909.5 598.9L1910.1 597.8L1910.8 596.8L1911.5 596.0L1912.2 595.4L1913.1 594.9L1913.9 594.6L1914.8 594.4L1915.6 594.3L1916.4 594.3L1917.1 594.4L1917.8 594.5L1918.5 594.8L1919.2 595.1L1919.8 595.5L1920.4 596.1L1920.9 596.8L1921.4 597.6L1921.9 598.6L1922.3 599.7L1922.6 600.9L1923.0 602.2L1923.2 603.8L1923.2 605.1L1922.9 606.2L1922.2 607.1L1921.2 607.9L1919.9 608.4L1918.4 608.8L1916.5 609.0L1914.2 609.0L1912.4 608.8L1910.8 608.4L1909.6 607.8L1908.7 607.0L1908.2 606.0L1907.9 604.7ZM1901.2 616.5L1899.6 617.5L1898.1 618.6L1896.6 619.9L1895.3 621.3L1893.9 622.8L1892.7 624.5L1891.6 626.3L1890.5 628.2L1889.5 630.3L1888.5 632.5L1887.6 634.8L1886.8 637.3L1886.0 639.9L1885.2 642.7L1884.5 645.6L1883.8 648.7L1883.2 651.8L1882.7 655.0L1882.2 658.2L1881.9 661.4L1881.6 664.6L1881.5 667.8L1881.4 671.0L1881.4 674.2L1881.6 677.3L1881.8 680.5L1882.0 683.6L1882.4 686.6L1882.8 689.6L1883.4 692.6L1884.0 695.5L1884.6 698.3L1885.4 701.2L1886.2 703.9L1887.0 706.7L1887.8 709.4L1888.7 712.1L1889.6 714.8L1890.5 717.4L1891.5 720.0L1892.5 722.5L1893.5 724.9L1894.4 727.2L1895.4 729.3L1896.3 731.3L1897.1 733.1L1898.0 734.8L1898.8 736.3L1899.7 737.7L1900.5 738.9L1901.5 739.9L1902.5 740.8L1903.5 741.5L1904.7 742.0L1905.8 742.3L1907.1 742.5L1908.4 742.5L1909.7 742.3L1911.1 741.8L1912.4 741.1L1913.7 740.2L1915.1 739.1L1916.4 737.7L1917.8 736.2L1919.2 734.3L1920.6 732.4L1922.1 730.3L1923.6 728.2L1925.2 725.8L1926.9 723.4L1928.6 720.8L1930.3 718.2L1932.2 715.3L1933.9 712.5L1935.6 709.6L1937.2 706.6L1938.8 703.6L1940.3 700.6L1941.7 697.5L1943.1 694.3L1944.4 691.2L1945.6 688.0L1946.7 684.8L1947.6 681.6L1948.5 678.4L1949.2 675.2L1949.8 672.0L1950.3 668.8L1950.7 665.6L1951.0 662.5L1951.2 659.4L1951.3 656.3L1951.3 653.4L1951.3 650.5L1951.1 647.6L1950.9 644.8L1950.6 642.1L1950.2 639.5L1949.6 637.0L1949.0 634.6L1948.2 632.3L1947.4 630.1L1946.4 628.1L1945.3 626.2L1944.2 624.3L1942.9 622.7L1941.5 621.2L1940.1 619.8L1938.6 618.6L1937.0 617.5L1935.4 616.6L1933.7 615.8L1931.8 615.2L1930.0 614.6L1928.0 614.2L1926.0 613.8L1923.9 613.5L1921.8 613.2L1919.6 613.1L1917.3 613.0L1915.0 613.0L1912.7 613.1L1910.6 613.4L1908.5 613.8L1906.6 614.2L1904.7 614.9L1902.9 615.6ZM1902.9 622.2L1901.5 623.0L1900.2 624.0L1898.9 625.1L1897.8 626.3L1896.6 627.7L1895.6 629.1L1894.6 630.7L1893.6 632.4L1892.8 634.1L1891.9 636.1L1891.1 638.1L1890.4 640.3L1889.7 642.5L1889.0 645.0L1888.4 647.5L1887.8 650.1L1887.3 652.9L1886.8 655.7L1886.4 658.5L1886.1 661.2L1885.9 664.0L1885.8 666.8L1885.7 669.5L1885.7 672.3L1885.8 675.1L1886.0 677.8L1886.3 680.5L1886.6 683.2L1887.0 685.8L1887.4 688.3L1887.9 690.9L1888.5 693.4L1889.2 695.8L1889.8 698.2L1890.5 700.6L1891.3 703.0L1892.0 705.3L1892.8 707.6L1893.6 709.9L1894.5 712.2L1895.4 714.4L1896.2 716.5L1897.0 718.5L1897.8 720.3L1898.6 722.0L1899.4 723.6L1900.2 725.1L1900.9 726.4L1901.6 727.6L1902.3 728.6L1903.2 729.5L1904.0 730.3L1905.0 730.9L1905.9 731.3L1907.0 731.6L1908.1 731.8L1909.2 731.8L1910.3 731.6L1911.5 731.2L1912.7 730.6L1913.8 729.8L1915.0 728.8L1916.2 727.6L1917.4 726.3L1918.6 724.7L1919.8 723.0L1921.1 721.2L1922.5 719.3L1923.8 717.3L1925.3 715.2L1926.8 712.9L1928.3 710.6L1929.9 708.1L1931.4 705.7L1932.9 703.1L1934.3 700.6L1935.6 698.0L1936.9 695.3L1938.2 692.6L1939.4 689.9L1940.5 687.1L1941.6 684.3L1942.5 681.6L1943.3 678.8L1944.1 676.0L1944.7 673.2L1945.2 670.4L1945.7 667.7L1946.0 664.9L1946.2 662.1L1946.4 659.5L1946.5 656.8L1946.5 654.2L1946.5 651.7L1946.4 649.2L1946.2 646.8L1945.9 644.4L1945.5 642.1L1945.1 639.9L1944.5 637.9L1943.9 635.9L1943.1 634.0L1942.3 632.2L1941.3 630.6L1940.3 629.0L1939.2 627.5L1938.0 626.2L1936.8 625.0L1935.5 624.0L1934.1 623.0L1932.7 622.2L1931.2 621.6L1929.6 621.0L1928.0 620.5L1926.3 620.1L1924.5 619.8L1922.7 619.5L1920.8 619.3L1918.9 619.2L1917.0 619.1L1914.9 619.1L1913.0 619.2L1911.1 619.4L1909.3 619.8L1907.6 620.2L1906.0 620.7L1904.4 621.4ZM1904.7 627.8L1903.5 628.5L1902.3 629.4L1901.3 630.3L1900.3 631.4L1899.3 632.5L1898.4 633.7L1897.5 635.1L1896.7 636.5L1896.0 638.0L1895.3 639.6L1894.6 641.4L1894.0 643.2L1893.4 645.2L1892.8 647.2L1892.3 649.4L1891.8 651.6L1891.3 654.0L1890.9 656.3L1890.6 658.7L1890.4 661.0L1890.2 663.4L1890.1 665.8L1890.0 668.1L1890.0 670.5L1890.1 672.8L1890.3 675.2L1890.5 677.4L1890.8 679.7L1891.1 681.9L1891.5 684.1L1891.9 686.3L1892.4 688.4L1892.9 690.5L1893.5 692.5L1894.1 694.5L1894.8 696.6L1895.4 698.5L1896.1 700.5L1896.8 702.5L1897.5 704.4L1898.2 706.3L1898.9 708.1L1899.6 709.7L1900.3 711.3L1901.0 712.8L1901.7 714.1L1902.3 715.3L1902.9 716.5L1903.5 717.5L1904.2 718.4L1904.9 719.1L1905.6 719.8L1906.4 720.3L1907.2 720.7L1908.1 720.9L1909.0 721.0L1910.0 721.0L1911.0 720.9L1912.0 720.5L1912.9 720.0L1913.9 719.4L1914.9 718.5L1915.9 717.5L1917.0 716.4L1918.0 715.0L1919.0 713.6L1920.1 712.1L1921.3 710.4L1922.4 708.7L1923.7 706.9L1924.9 705.0L1926.2 703.0L1927.6 701.0L1928.9 698.8L1930.1 696.7L1931.3 694.5L1932.5 692.3L1933.6 690.0L1934.6 687.7L1935.7 685.4L1936.6 683.1L1937.5 680.7L1938.3 678.3L1939.0 676.0L1939.6 673.6L1940.2 671.2L1940.6 668.9L1941.0 666.5L1941.3 664.1L1941.5 661.8L1941.6 659.5L1941.7 657.3L1941.8 655.1L1941.7 652.9L1941.6 650.8L1941.4 648.8L1941.2 646.7L1940.9 644.8L1940.5 642.9L1940.0 641.2L1939.5 639.5L1938.8 637.9L1938.1 636.4L1937.3 635.0L1936.4 633.6L1935.5 632.4L1934.5 631.3L1933.5 630.2L1932.4 629.3L1931.2 628.6L1930.0 627.9L1928.7 627.3L1927.3 626.8L1925.9 626.4L1924.5 626.1L1923.0 625.8L1921.5 625.6L1919.9 625.4L1918.3 625.3L1916.6 625.2L1914.9 625.2L1913.2 625.3L1911.6 625.5L1910.1 625.8L1908.6 626.1L1907.2 626.6L1905.9 627.2ZM1906.4 633.5L1905.4 634.1L1904.5 634.8L1903.6 635.5L1902.8 636.4L1902.0 637.3L1901.2 638.3L1900.5 639.4L1899.9 640.6L1899.2 641.9L1898.7 643.2L1898.1 644.6L1897.6 646.2L1897.1 647.8L1896.6 649.4L1896.2 651.2L1895.8 653.1L1895.4 655.0L1895.1 657.0L1894.8 658.9L1894.6 660.9L1894.4 662.8L1894.4 664.7L1894.3 666.7L1894.3 668.6L1894.4 670.6L1894.5 672.5L1894.7 674.4L1894.9 676.2L1895.2 678.1L1895.5 679.9L1895.9 681.6L1896.3 683.4L1896.7 685.1L1897.2 686.8L1897.7 688.5L1898.2 690.1L1898.8 691.8L1899.3 693.4L1899.9 695.0L1900.5 696.6L1901.1 698.1L1901.7 699.6L1902.3 701.0L1902.8 702.3L1903.4 703.5L1903.9 704.6L1904.4 705.6L1904.9 706.6L1905.4 707.4L1906.0 708.1L1906.6 708.8L1907.2 709.3L1907.8 709.7L1908.5 710.0L1909.2 710.2L1910.0 710.3L1910.8 710.3L1911.6 710.2L1912.4 709.9L1913.2 709.5L1914.0 708.9L1914.9 708.3L1915.7 707.4L1916.5 706.5L1917.4 705.3L1918.2 704.2L1919.1 702.9L1920.1 701.6L1921.0 700.2L1922.1 698.7L1923.1 697.1L1924.2 695.5L1925.3 693.8L1926.3 692.0L1927.4 690.2L1928.4 688.4L1929.3 686.6L1930.2 684.8L1931.1 682.9L1931.9 680.9L1932.7 679.0L1933.5 677.1L1934.1 675.1L1934.7 673.2L1935.2 671.2L1935.7 669.3L1936.0 667.3L1936.3 665.4L1936.6 663.4L1936.8 661.5L1936.9 659.6L1936.9 657.8L1937.0 656.0L1936.9 654.2L1936.8 652.4L1936.7 650.7L1936.5 649.1L1936.3 647.5L1935.9 645.9L1935.5 644.5L1935.1 643.1L1934.6 641.8L1934.0 640.5L1933.3 639.4L1932.6 638.2L1931.8 637.2L1931.0 636.3L1930.1 635.5L1929.2 634.7L1928.3 634.1L1927.2 633.5L1926.2 633.0L1925.1 632.7L1923.9 632.3L1922.7 632.0L1921.5 631.8L1920.3 631.6L1919.0 631.5L1917.6 631.4L1916.2 631.3L1914.8 631.3L1913.4 631.4L1912.1 631.6L1910.9 631.8L1909.7 632.1L1908.5 632.5L1907.4 632.9ZM1908.1 639.1L1907.3 639.6L1906.6 640.1L1905.9 640.8L1905.3 641.4L1904.6 642.2L1904.0 643.0L1903.5 643.8L1903.0 644.7L1902.5 645.7L1902.0 646.8L1901.6 647.9L1901.2 649.1L1900.8 650.4L1900.4 651.7L1900.1 653.1L1899.8 654.6L1899.5 656.1L1899.2 657.6L1899.0 659.1L1898.8 660.7L1898.7 662.2L1898.6 663.7L1898.6 665.3L1898.6 666.8L1898.7 668.3L1898.8 669.8L1898.9 671.3L1899.1 672.8L1899.3 674.2L1899.6 675.6L1899.8 677.0L1900.2 678.4L1900.5 679.8L1900.9 681.1L1901.3 682.4L1901.7 683.7L1902.1 685.0L1902.5 686.3L1903.0 687.5L1903.5 688.8L1903.9 690.0L1904.4 691.2L1904.9 692.3L1905.3 693.3L1905.7 694.2L1906.2 695.1L1906.6 695.9L1907.0 696.6L1907.4 697.3L1907.8 697.9L1908.2 698.4L1908.7 698.8L1909.2 699.1L1909.8 699.4L1910.3 699.5L1910.9 699.6L1911.6 699.6L1912.2 699.5L1912.8 699.3L1913.5 698.9L1914.1 698.5L1914.8 698.0L1915.4 697.3L1916.1 696.6L1916.8 695.7L1917.4 694.8L1918.1 693.8L1918.9 692.7L1919.7 691.6L1920.4 690.4L1921.3 689.2L1922.1 687.9L1923.0 686.6L1923.8 685.2L1924.6 683.8L1925.4 682.4L1926.2 680.9L1926.9 679.5L1927.6 678.0L1928.2 676.5L1928.9 675.0L1929.4 673.4L1929.9 671.9L1930.4 670.4L1930.8 668.8L1931.2 667.3L1931.5 665.8L1931.7 664.2L1931.9 662.7L1932.0 661.2L1932.1 659.7L1932.2 658.2L1932.2 656.8L1932.2 655.4L1932.1 654.1L1932.0 652.7L1931.8 651.4L1931.6 650.1L1931.4 648.9L1931.1 647.8L1930.7 646.7L1930.3 645.7L1929.8 644.7L1929.3 643.8L1928.7 642.9L1928.1 642.1L1927.5 641.4L1926.8 640.7L1926.1 640.1L1925.3 639.6L1924.5 639.2L1923.7 638.8L1922.8 638.5L1921.9 638.2L1921.0 638.0L1920.0 637.8L1919.0 637.7L1918.0 637.6L1916.9 637.5L1915.9 637.4L1914.7 637.4L1913.7 637.5L1912.6 637.6L1911.6 637.8L1910.7 638.0L1909.8 638.3L1908.9 638.7ZM1909.7 644.3L1909.1 644.7L1908.6 645.1L1908.1 645.6L1907.6 646.1L1907.1 646.6L1906.7 647.2L1906.2 647.9L1905.9 648.6L1905.5 649.3L1905.2 650.1L1904.8 650.9L1904.5 651.8L1904.2 652.8L1904.0 653.8L1903.7 654.8L1903.5 655.9L1903.2 657.1L1903.0 658.2L1902.9 659.4L1902.8 660.5L1902.7 661.7L1902.6 662.8L1902.6 663.9L1902.6 665.1L1902.6 666.2L1902.7 667.4L1902.8 668.5L1902.9 669.6L1903.1 670.7L1903.3 671.7L1903.5 672.8L1903.7 673.8L1904.0 674.8L1904.3 675.8L1904.6 676.8L1904.9 677.8L1905.2 678.8L1905.5 679.7L1905.9 680.7L1906.2 681.6L1906.6 682.5L1906.9 683.4L1907.3 684.2L1907.6 685.0L1907.9 685.7L1908.3 686.3L1908.6 686.9L1908.9 687.5L1909.2 688.0L1909.5 688.4L1909.8 688.8L1910.2 689.1L1910.6 689.3L1911.0 689.5L1911.4 689.6L1911.8 689.7L1912.3 689.7L1912.8 689.6L1913.3 689.5L1913.7 689.2L1914.2 688.9L1914.7 688.5L1915.2 688.0L1915.7 687.4L1916.2 686.8L1916.7 686.1L1917.2 685.3L1917.8 684.5L1918.4 683.7L1919.0 682.8L1919.6 681.9L1920.2 680.9L1920.9 679.9L1921.5 678.9L1922.1 677.8L1922.7 676.8L1923.2 675.7L1923.8 674.6L1924.3 673.5L1924.8 672.4L1925.3 671.2L1925.7 670.1L1926.1 668.9L1926.4 667.8L1926.7 666.6L1927.0 665.5L1927.2 664.3L1927.4 663.2L1927.5 662.0L1927.6 660.9L1927.7 659.8L1927.7 658.7L1927.8 657.6L1927.7 656.6L1927.7 655.5L1927.6 654.5L1927.5 653.5L1927.3 652.6L1927.2 651.7L1926.9 650.8L1926.7 650.0L1926.3 649.2L1926.0 648.5L1925.6 647.8L1925.2 647.2L1924.7 646.6L1924.2 646.0L1923.7 645.5L1923.2 645.1L1922.6 644.7L1922.0 644.4L1921.4 644.1L1920.7 643.9L1920.1 643.7L1919.4 643.5L1918.6 643.4L1917.9 643.2L1917.1 643.2L1916.3 643.1L1915.5 643.1L1914.7 643.1L1913.9 643.1L1913.1 643.2L1912.3 643.4L1911.6 643.5L1911.0 643.8L1910.3 644.0ZM1911.2 649.1L1910.8 649.4L1910.4 649.7L1910.0 650.0L1909.7 650.3L1909.4 650.7L1909.1 651.1L1908.8 651.6L1908.5 652.1L1908.2 652.6L1908.0 653.1L1907.8 653.7L1907.6 654.3L1907.4 655.0L1907.2 655.7L1907.0 656.4L1906.8 657.2L1906.7 658.0L1906.5 658.8L1906.4 659.6L1906.3 660.4L1906.3 661.1L1906.2 661.9L1906.2 662.7L1906.2 663.5L1906.3 664.3L1906.3 665.1L1906.4 665.9L1906.5 666.7L1906.6 667.4L1906.7 668.1L1906.9 668.9L1907.0 669.6L1907.2 670.3L1907.4 671.0L1907.6 671.7L1907.8 672.4L1908.0 673.0L1908.3 673.7L1908.5 674.3L1908.8 675.0L1909.0 675.6L1909.2 676.2L1909.5 676.8L1909.7 677.3L1909.9 677.8L1910.2 678.3L1910.4 678.7L1910.6 679.1L1910.8 679.4L1911.0 679.7L1911.2 680.0L1911.5 680.2L1911.8 680.4L1912.0 680.5L1912.3 680.6L1912.6 680.6L1913.0 680.6L1913.3 680.6L1913.6 680.5L1914.0 680.3L1914.3 680.1L1914.6 679.8L1915.0 679.4L1915.3 679.0L1915.7 678.6L1916.0 678.1L1916.4 677.6L1916.8 677.0L1917.2 676.5L1917.6 675.9L1918.0 675.2L1918.5 674.5L1918.9 673.8L1919.4 673.1L1919.8 672.4L1920.2 671.7L1920.6 670.9L1920.9 670.1L1921.3 669.4L1921.6 668.6L1922.0 667.8L1922.3 667.0L1922.5 666.2L1922.8 665.4L1923.0 664.6L1923.2 663.8L1923.3 663.0L1923.5 662.2L1923.5 661.4L1923.6 660.6L1923.7 659.8L1923.7 659.1L1923.7 658.3L1923.7 657.6L1923.7 656.9L1923.6 656.2L1923.5 655.5L1923.4 654.9L1923.3 654.2L1923.1 653.6L1922.9 653.1L1922.7 652.5L1922.5 652.0L1922.2 651.5L1921.9 651.1L1921.6 650.7L1921.3 650.3L1920.9 649.9L1920.5 649.6L1920.1 649.4L1919.7 649.1L1919.3 649.0L1918.8 648.8L1918.4 648.7L1917.9 648.5L1917.4 648.4L1916.9 648.4L1916.3 648.3L1915.8 648.3L1915.2 648.2L1914.6 648.2L1914.1 648.3L1913.5 648.3L1913.0 648.4L1912.5 648.6L1912.0 648.7L1911.6 648.9ZM1908.8 604.2L1909.2 602.8L1909.6 601.6L1910.1 600.5L1910.6 599.5L1911.2 598.7L1911.9 598.0L1912.6 597.4L1913.3 596.9L1914.2 596.6L1914.9 596.4L1915.7 596.3L1916.4 596.2L1917.0 596.3L1917.6 596.4L1918.2 596.6L1918.8 596.9L1919.2 597.2L1919.7 597.7L1920.2 598.3L1920.6 599.0L1920.9 599.9L1921.3 600.8L1921.6 601.9L1921.9 603.1L1922.1 604.4L1922.1 605.6L1921.8 606.5L1921.2 607.4L1920.4 608.0L1919.3 608.5L1917.9 608.8L1916.2 609.0L1914.3 609.0L1912.6 608.8L1911.3 608.5L1910.2 608.0L1909.4 607.3L1908.9 606.4L1908.7 605.4ZM1911.9 603.6L1912.1 602.9L1912.3 602.3L1912.6 601.7L1912.8 601.2L1913.1 600.8L1913.4 600.5L1913.8 600.2L1914.2 600.0L1914.6 599.8L1915.0 599.7L1915.3 599.6L1915.7 599.6L1916.0 599.6L1916.3 599.7L1916.6 599.8L1916.9 599.9L1917.1 600.1L1917.4 600.4L1917.6 600.7L1917.8 601.0L1918.0 601.4L1918.1 601.9L1918.3 602.5L1918.4 603.0L1918.6 603.7L1918.6 604.3L1918.4 604.8L1918.1 605.2L1917.7 605.5L1917.1 605.8L1916.4 605.9L1915.6 606.0L1914.6 606.0L1913.8 605.9L1913.1 605.7L1912.6 605.5L1912.2 605.1L1912.0 604.7L1911.9 604.2ZM1867.0 762.0L1867.2 760.1L1867.7 758.3L1868.5 756.5L1869.7 754.7L1871.2 753.0L1873.0 751.3L1875.1 749.7L1877.4 748.2L1880.1 746.7L1883.0 745.4L1886.1 744.2L1889.5 743.1L1893.0 742.1L1896.7 741.2L1900.6 740.5L1904.5 739.9L1908.6 739.5L1912.7 739.2L1916.9 739.0L1921.1 739.0L1925.3 739.2L1929.4 739.5L1933.5 739.9L1937.4 740.5L1941.3 741.2L1945.0 742.1L1948.5 743.1L1951.9 744.2L1955.0 745.4L1957.9 746.7L1960.6 748.2L1962.9 749.7L1965.0 751.3L1966.8 753.0L1968.3 754.7L1969.5 756.5L1970.3 758.3L1970.8 760.1L1971.0 762.0M1881.6 762.0L1881.7 760.7L1882.0 759.3L1882.6 758.0L1883.5 756.8L1884.6 755.5L1885.8 754.3L1887.4 753.1L1889.1 752.1L1891.0 751.0L1893.1 750.1L1895.3 749.2L1897.7 748.4L1900.3 747.7L1902.9 747.0L1905.7 746.5L1908.6 746.1L1911.5 745.8L1914.5 745.6L1917.5 745.5L1920.5 745.5L1923.5 745.6L1926.5 745.8L1929.4 746.1L1932.3 746.5L1935.1 747.0L1937.7 747.7L1940.3 748.4L1942.7 749.2L1944.9 750.1L1947.0 751.0L1948.9 752.1L1950.6 753.1L1952.2 754.3L1953.4 755.5L1954.5 756.8L1955.4 758.0L1956.0 759.3L1956.3 760.7L1956.4 762.0M1896.1 762.0L1896.2 761.2L1896.4 760.4L1896.8 759.6L1897.3 758.8L1898.0 758.0L1898.7 757.3L1899.7 756.6L1900.7 755.9L1901.9 755.3L1903.2 754.7L1904.5 754.2L1906.0 753.7L1907.6 753.2L1909.2 752.9L1910.9 752.5L1912.6 752.3L1914.4 752.1L1916.2 752.0L1918.1 751.9L1919.9 751.9L1921.8 752.0L1923.6 752.1L1925.4 752.3L1927.1 752.5L1928.8 752.9L1930.4 753.2L1932.0 753.7L1933.5 754.2L1934.8 754.7L1936.1 755.3L1937.3 755.9L1938.3 756.6L1939.3 757.3L1940.0 758.0L1940.7 758.8L1941.2 759.6L1941.6 760.4L1941.8 761.2L1941.9 762.0" stroke="#323a86" stroke-width="1.35" fill="none"/>
</g>
<rect x="1825.8" y="431.7" width="281.6" height="326.9" fill="none" stroke="#111" stroke-width="2"/>
<path d="M1958.0 431.7V758.6M1825.8 609.6L2107.4 605.4" stroke="#111" stroke-width="1.8" fill="none"/>
<path d="M1817.8 751.0H1825.8M1817.8 741.0H1825.8M1817.8 733.1H1825.8M1817.8 726.7H1825.8M1817.8 721.3H1825.8M1817.8 716.6H1825.8M1817.8 712.5H1825.8M1810.8 708.8H1825.8M1817.8 684.5H1825.8M1817.8 670.2H1825.8M1817.8 660.2H1825.8M1817.8 652.3H1825.8M1817.8 645.9H1825.8M1817.8 640.5H1825.8M1817.8 635.8H1825.8M1817.8 631.7H1825.8M1810.8 628.0H1825.8M1817.8 603.7H1825.8M1817.8 589.4H1825.8M1817.8 579.4H1825.8M1817.8 571.5H1825.8M1817.8 565.1H1825.8M1817.8 559.7H1825.8M1817.8 555.0H1825.8M1817.8 550.9H1825.8M1810.8 547.2H1825.8M1817.8 522.9H1825.8M1817.8 508.6H1825.8M1817.8 498.6H1825.8M1817.8 490.7H1825.8M1817.8 484.3H1825.8M1817.8 478.9H1825.8M1817.8 474.2H1825.8M1817.8 470.1H1825.8M1810.8 466.4H1825.8M1817.8 442.1H1825.8M1837.2 758.6V768.6M1844.0 758.6V768.6M1849.6 758.6V768.6M1854.3 758.6V768.6M1858.4 758.6V768.6M1862.1 758.6V768.6M1865.3 758.6V775.1M1886.6 758.6V768.6M1899.0 758.6V768.6M1907.9 758.6V768.6M1914.7 758.6V768.6M1920.3 758.6V768.6M1925.0 758.6V768.6M1929.1 758.6V768.6M1932.8 758.6V768.6M1936.0 758.6V775.1M1957.3 758.6V768.6M1969.7 758.6V768.6M1978.6 758.6V768.6M1985.4 758.6V768.6M1991.0 758.6V768.6M1995.7 758.6V768.6M1999.8 758.6V768.6M2003.5 758.6V768.6M2006.7 758.6V775.1M2028.0 758.6V768.6M2040.4 758.6V768.6M2049.3 758.6V768.6M2056.1 758.6V768.6M2061.7 758.6V768.6M2066.4 758.6V768.6M2070.5 758.6V768.6M2074.2 758.6V768.6M2077.4 758.6V775.1M2098.7 758.6V768.6" stroke="#111" stroke-width="2" fill="none"/>
<g transform="translate(1808.5 718.0) rotate(-90)">
<text x="-0.85" y="0.00" font-size="16.50" font-weight="bold" fill="#1a1a1a" textLength="15.00" lengthAdjust="spacingAndGlyphs">10</text>
<text x="14.10" y="-10.20" font-size="16.50" font-weight="bold" fill="#1a1a1a" textLength="9.59" lengthAdjust="spacingAndGlyphs">2</text>
</g>
<g transform="translate(1808.5 637.2) rotate(-90)">
<text x="-0.85" y="0.00" font-size="16.50" font-weight="bold" fill="#1a1a1a" textLength="15.00" lengthAdjust="spacingAndGlyphs">10</text>
<text x="14.32" y="-10.20" font-size="16.50" font-weight="bold" fill="#1a1a1a" textLength="9.29" lengthAdjust="spacingAndGlyphs">3</text>
</g>
<g transform="translate(1808.5 556.4) rotate(-90)">
<text x="-0.85" y="0.00" font-size="16.50" font-weight="bold" fill="#1a1a1a" textLength="15.00" lengthAdjust="spacingAndGlyphs">10</text>
<text x="14.47" y="-10.20" font-size="16.50" font-weight="bold" fill="#1a1a1a" textLength="8.62" lengthAdjust="spacingAndGlyphs">4</text>
</g>
<g transform="translate(1808.5 475.6) rotate(-90)">
<text x="-0.85" y="0.00" font-size="16.50" font-weight="bold" fill="#1a1a1a" textLength="15.00" lengthAdjust="spacingAndGlyphs">10</text>
<text x="14.19" y="-10.20" font-size="16.50" font-weight="bold" fill="#1a1a1a" textLength="9.28" lengthAdjust="spacingAndGlyphs">5</text>
</g>
<text x="1853.73" y="793.20" font-size="16.00" font-weight="bold" fill="#1a1a1a" textLength="15.44" lengthAdjust="spacingAndGlyphs">10</text>
<text x="1868.81" y="783.30" font-size="14.00" font-weight="bold" fill="#1a1a1a" textLength="9.47" lengthAdjust="spacingAndGlyphs">2</text>
<text x="1924.43" y="793.20" font-size="16.00" font-weight="bold" fill="#1a1a1a" textLength="15.44" lengthAdjust="spacingAndGlyphs">10</text>
<text x="1939.72" y="783.30" font-size="14.00" font-weight="bold" fill="#1a1a1a" textLength="9.17" lengthAdjust="spacingAndGlyphs">3</text>
<text x="1995.13" y="793.20" font-size="16.00" font-weight="bold" fill="#1a1a1a" textLength="15.44" lengthAdjust="spacingAndGlyphs">10</text>
<text x="2010.57" y="783.30" font-size="14.00" font-weight="bold" fill="#1a1a1a" textLength="8.51" lengthAdjust="spacingAndGlyphs">4</text>
<text x="2065.83" y="793.20" font-size="16.00" font-weight="bold" fill="#1a1a1a" textLength="15.44" lengthAdjust="spacingAndGlyphs">10</text>
<text x="2080.99" y="783.30" font-size="14.00" font-weight="bold" fill="#1a1a1a" textLength="9.17" lengthAdjust="spacingAndGlyphs">5</text>
<text x="1539.62" y="203.80" font-size="18.50" fill="#111" textLength="24.79" lengthAdjust="spacingAndGlyphs">Q1</text>
<text x="1634.62" y="199.80" font-size="18.50" fill="#111" textLength="24.82" lengthAdjust="spacingAndGlyphs">Q2</text>
<text x="1541.42" y="295.20" font-size="18.50" fill="#111" textLength="24.69" lengthAdjust="spacingAndGlyphs">Q3</text>
<text x="1635.63" y="292.40" font-size="18.50" fill="#111" textLength="24.40" lengthAdjust="spacingAndGlyphs">Q4</text>
<text x="1897.12" y="202.80" font-size="18.50" fill="#111" textLength="24.79" lengthAdjust="spacingAndGlyphs">Q1</text>
<text x="1991.62" y="200.80" font-size="18.50" fill="#111" textLength="24.82" lengthAdjust="spacingAndGlyphs">Q2</text>
<text x="1897.12" y="298.30" font-size="18.50" fill="#111" textLength="24.69" lengthAdjust="spacingAndGlyphs">Q3</text>
<text x="1991.63" y="293.80" font-size="18.50" fill="#111" textLength="24.40" lengthAdjust="spacingAndGlyphs">Q4</text>
<text x="1539.12" y="577.80" font-size="18.50" fill="#111" textLength="24.79" lengthAdjust="spacingAndGlyphs">Q1</text>
<text x="1634.32" y="574.80" font-size="18.50" fill="#111" textLength="24.82" lengthAdjust="spacingAndGlyphs">Q2</text>
<text x="1539.62" y="671.30" font-size="18.50" fill="#111" textLength="24.69" lengthAdjust="spacingAndGlyphs">Q3</text>
<text x="1634.33" y="667.80" font-size="18.50" fill="#111" textLength="24.40" lengthAdjust="spacingAndGlyphs">Q4</text>
<text x="1897.02" y="575.30" font-size="18.50" fill="#111" textLength="24.79" lengthAdjust="spacingAndGlyphs">Q1</text>
<text x="1991.22" y="571.80" font-size="18.50" fill="#111" textLength="24.82" lengthAdjust="spacingAndGlyphs">Q2</text>
<text x="1897.02" y="667.80" font-size="18.50" fill="#111" textLength="24.69" lengthAdjust="spacingAndGlyphs">Q3</text>
<text x="1991.23" y="663.80" font-size="18.50" fill="#111" textLength="24.40" lengthAdjust="spacingAndGlyphs">Q4</text>
<text x="1654.07" y="111.80" font-size="32.00" fill="#000" textLength="94.11" lengthAdjust="spacingAndGlyphs">14.7%</text>
<text x="1675.81" y="356.00" font-size="32.00" fill="#000" textLength="75.06" lengthAdjust="spacingAndGlyphs">7.9%</text>
<text x="2024.20" y="111.80" font-size="32.00" fill="#000" textLength="75.99" lengthAdjust="spacingAndGlyphs">0.1%</text>
<text x="2026.47" y="356.00" font-size="32.00" fill="#000" textLength="75.71" lengthAdjust="spacingAndGlyphs">1.0%</text>
<text x="1652.67" y="484.80" font-size="32.00" fill="#000" textLength="94.52" lengthAdjust="spacingAndGlyphs">50.8%</text>
<text x="1653.24" y="734.40" font-size="32.00" fill="#000" textLength="93.94" lengthAdjust="spacingAndGlyphs">40.6%</text>
<text x="2023.16" y="484.50" font-size="32.00" fill="#000" textLength="76.02" lengthAdjust="spacingAndGlyphs">5.4%</text>
<text x="2023.20" y="734.40" font-size="32.00" fill="#000" textLength="75.99" lengthAdjust="spacingAndGlyphs">0.5%</text>
<text x="-1.21" y="548.60" font-size="60.00" font-weight="bold" fill="#111" textLength="34.32" lengthAdjust="spacingAndGlyphs">c</text>
<ellipse cx="609.7" cy="723.4" rx="172" ry="185.3" fill="none" stroke="#111" stroke-width="3.8"/>
<ellipse cx="781" cy="723.3" rx="172.6" ry="185.3" fill="none" stroke="#111" stroke-width="3.8"/>
<text x="171.99" y="671.60" font-size="44.00" fill="#000" textLength="254.35" lengthAdjust="spacingAndGlyphs">Mesp1 peaks</text>
<text x="269.32" y="727.00" font-size="44.00" fill="#000" textLength="63.82" lengthAdjust="spacingAndGlyphs">WT</text>
<text x="477.27" y="704.80" font-size="44.00" fill="#000" textLength="91.44" lengthAdjust="spacingAndGlyphs">1671</text>
<text x="655.59" y="742.00" font-size="44.00" fill="#000" textLength="70.56" lengthAdjust="spacingAndGlyphs">340</text>
<text x="843.21" y="704.80" font-size="44.00" fill="#000" textLength="72.03" lengthAdjust="spacingAndGlyphs">109</text>
<text x="990.95" y="695.00" font-size="44.00" fill="#000" textLength="257.62" lengthAdjust="spacingAndGlyphs">Mesp1 peaks</text>
<text x="1012.12" y="750.40" font-size="44.00" fill="#000" textLength="217.36" lengthAdjust="spacingAndGlyphs">Zic2/3 dKO</text>
<text x="-2.10" y="970.50" font-size="60.00" font-weight="bold" fill="#111" textLength="38.67" lengthAdjust="spacingAndGlyphs">d</text>
<rect x="187.3" y="971.8" width="217.0" height="263.6" fill="#fff"/>
<path d="M187.3 1193.2H404.3" stroke="#f2f2f2" stroke-width="1.3"/>
<path d="M187.3 1133.2H404.3" stroke="#f2f2f2" stroke-width="1.3"/>
<path d="M187.3 1073.1H404.3" stroke="#f2f2f2" stroke-width="1.3"/>
<path d="M187.3 1013.1H404.3" stroke="#f2f2f2" stroke-width="1.3"/>
<path d="M187.3 1223.2H404.3" stroke="#ebebeb" stroke-width="2.6"/>
<path d="M187.3 1163.2H404.3" stroke="#ebebeb" stroke-width="2.6"/>
<path d="M187.3 1103.2H404.3" stroke="#ebebeb" stroke-width="2.6"/>
<path d="M187.3 1043.1H404.3" stroke="#ebebeb" stroke-width="2.6"/>
<path d="M187.3 983.1H404.3" stroke="#ebebeb" stroke-width="2.6"/>
<path d="M246.4 971.8V1235.4" stroke="#ebebeb" stroke-width="2.6"/>
<path d="M345.5 971.8V1235.4" stroke="#ebebeb" stroke-width="2.6"/>
<rect x="202.0" y="983.1" width="88.8" height="23.5" fill="#e6dc23"/>
<rect x="202.0" y="1006.6" width="88.8" height="199.6" fill="#9cc53d"/>
<rect x="202.0" y="1206.2" width="88.8" height="17.0" fill="#088c38"/>
<rect x="300.9" y="983.1" width="89.2" height="3.5" fill="#e6dc23"/>
<rect x="300.9" y="986.6" width="89.2" height="174.1" fill="#9cc53d"/>
<rect x="300.9" y="1160.7" width="89.2" height="62.5" fill="#088c38"/>
<rect x="187.3" y="971.8" width="217.0" height="263.6" fill="none" stroke="#333" stroke-width="2.2"/>
<path d="M176.4 1223.2H187.3M176.4 1163.2H187.3M176.4 1103.2H187.3M176.4 1043.1H187.3M176.4 983.1H187.3M245.7 1235.4V1246.7M345.1 1235.4V1246.7" stroke="#333" stroke-width="2.6" fill="none"/>
<text x="98.00" y="1234.40" font-size="31.00" fill="#4d4d4d" textLength="69.70" lengthAdjust="spacingAndGlyphs">0.00</text>
<text x="98.00" y="1174.38" font-size="31.00" fill="#4d4d4d" textLength="69.81" lengthAdjust="spacingAndGlyphs">0.25</text>
<text x="98.00" y="1114.35" font-size="31.00" fill="#4d4d4d" textLength="69.70" lengthAdjust="spacingAndGlyphs">0.50</text>
<text x="98.00" y="1054.33" font-size="31.00" fill="#4d4d4d" textLength="69.81" lengthAdjust="spacingAndGlyphs">0.75</text>
<text x="96.62" y="994.30" font-size="31.00" fill="#4d4d4d" textLength="71.11" lengthAdjust="spacingAndGlyphs">1.00</text>
<path d="M245.3 952.8H347.7" stroke="#111" stroke-width="2"/>
<text x="269.16" y="955.00" font-size="40.40" fill="#111" textLength="53.56" lengthAdjust="spacingAndGlyphs" stroke="#111" stroke-width="0.5">***</text>
<rect x="471.6" y="1015.6" width="62.4" height="62.0" fill="#e6dc23"/>
<rect x="471.6" y="1083.3" width="62.4" height="62.0" fill="#9cc53d"/>
<rect x="471.6" y="1150.6" width="62.4" height="61.6" fill="#088c38"/>
<text x="555.84" y="1059.00" font-size="33.00" fill="#000" textLength="82.23" lengthAdjust="spacingAndGlyphs">Early</text>
<text x="557.00" y="1126.30" font-size="33.00" fill="#000" textLength="141.76" lengthAdjust="spacingAndGlyphs">Constant</text>
<text x="555.84" y="1194.00" font-size="33.00" fill="#000" textLength="70.27" lengthAdjust="spacingAndGlyphs">Late</text>
<g transform="translate(268.9 1268.2) rotate(-60)"><text x="0" y="0" font-size="35.1" fill="#4d4d4d" text-anchor="end">Mesp1 in Zic2/3 dKO</text></g>
<g transform="translate(358.5 1271.9) rotate(-60)"><text x="0" y="0" font-size="35.1" fill="#4d4d4d" text-anchor="end">Mesp1 in WT</text></g>
<text x="781.71" y="979.50" font-size="60.00" font-weight="bold" fill="#111" textLength="35.47" lengthAdjust="spacingAndGlyphs">e</text>
<rect x="959.5" y="993.0" width="206.4" height="362.6" fill="#fff"/>
<path d="M959.5 1280.1H1165.9" stroke="#f2f2f2" stroke-width="1.3"/>
<path d="M959.5 1161.2H1165.9" stroke="#f2f2f2" stroke-width="1.3"/>
<path d="M959.5 1042.3H1165.9" stroke="#f2f2f2" stroke-width="1.3"/>
<path d="M959.5 1339.6H1165.9" stroke="#ebebeb" stroke-width="2.4"/>
<path d="M959.5 1220.7H1165.9" stroke="#ebebeb" stroke-width="2.4"/>
<path d="M959.5 1101.8H1165.9" stroke="#ebebeb" stroke-width="2.4"/>
<path d="M1015.0 993.0V1355.6" stroke="#ebebeb" stroke-width="2.4"/>
<path d="M1109.8 993.0V1355.6" stroke="#ebebeb" stroke-width="2.4"/>
<rect x="973.0" y="1051.9" width="27.4" height="287.7" fill="#f2a51e"/>
<rect x="1000.4" y="1009.0" width="29.4" height="330.6" fill="#e0292a"/>
<rect x="1029.8" y="1338.6" width="28.1" height="1.0" fill="#3b3a8c"/>
<rect x="1067.7" y="1334.4" width="28.1" height="5.2" fill="#f2a51e"/>
<rect x="1095.8" y="1338.6" width="28.2" height="1.0" fill="#e0292a"/>
<rect x="1123.9" y="1257.2" width="28.7" height="82.4" fill="#3b3a8c"/>
<rect x="959.5" y="993.0" width="206.4" height="362.6" fill="none" stroke="#333" stroke-width="2"/>
<path d="M951.9 1339.6H959.5M951.9 1220.7H959.5M951.9 1101.8H959.5M1015.0 1355.6V1362.5M1109.8 1355.6V1362.5" stroke="#333" stroke-width="2.4" fill="none"/>
<text x="915.06" y="1347.60" font-size="21.50" fill="#4d4d4d" textLength="33.59" lengthAdjust="spacingAndGlyphs">0.0</text>
<text x="915.05" y="1228.70" font-size="21.50" fill="#4d4d4d" textLength="33.88" lengthAdjust="spacingAndGlyphs">0.2</text>
<text x="915.06" y="1109.80" font-size="21.50" fill="#4d4d4d" textLength="33.34" lengthAdjust="spacingAndGlyphs">0.4</text>
<path d="M990.4 975.8H1079.7M1019.5 960.4H1107.1M1048.5 944.8H1136.2" stroke="#111" stroke-width="1.6"/>
<text x="950.27" y="983.90" font-size="40.40" fill="#111" textLength="52.94" lengthAdjust="spacingAndGlyphs" stroke="#111" stroke-width="0.5">***</text>
<text x="990.27" y="966.30" font-size="40.40" fill="#111" textLength="52.94" lengthAdjust="spacingAndGlyphs" stroke="#111" stroke-width="0.5">***</text>
<text x="1033.47" y="947.70" font-size="40.40" fill="#111" textLength="53.04" lengthAdjust="spacingAndGlyphs" stroke="#111" stroke-width="0.5">***</text>
<rect x="1174.7" y="1124.6" width="38.6" height="37.9" fill="#f2a51e"/>
<rect x="1174.7" y="1167.0" width="38.6" height="37.6" fill="#e0292a"/>
<rect x="1174.7" y="1209.0" width="38.6" height="38.4" fill="#453796"/>
<text x="1227.18" y="1152.00" font-size="22.00" fill="#000" textLength="165.44" lengthAdjust="spacingAndGlyphs">Mesp1 ChIP-seq</text>
<text x="1228.96" y="1194.00" font-size="22.00" fill="#000" textLength="131.14" lengthAdjust="spacingAndGlyphs">ATAC-seq UP</text>
<text x="1228.96" y="1236.80" font-size="22.00" fill="#000" textLength="170.26" lengthAdjust="spacingAndGlyphs">ATAC-seq DOWN</text>
<g transform="translate(869.5 1339.6) rotate(-90)">
<text x="-2.20" y="0.00" font-size="28.00" fill="#000" textLength="367.03" lengthAdjust="spacingAndGlyphs">Fraction of peaks misregulated</text>
</g>
<g transform="translate(902.8 1331) rotate(-90)">
<text x="-1.81" y="0.00" font-size="28.00" fill="#000" textLength="296.10" lengthAdjust="spacingAndGlyphs">in ATAC-seq Zic2/3 dKO</text>
</g>
<g transform="translate(1014.7 1379.5) rotate(-60)"><text x="0" y="0" font-size="31.1" fill="#111" text-anchor="end">Down in</text></g>
<g transform="translate(1052.7 1390.6) rotate(-60)"><text x="0" y="0" font-size="31.1" fill="#111" text-anchor="end">Zic2/3 dKO</text></g>
<g transform="translate(1111.8 1385.8) rotate(-60)"><text x="0" y="0" font-size="31.4" fill="#111" text-anchor="end">UP in</text></g>
<g transform="translate(1148.2 1387.4) rotate(-60)"><text x="0" y="0" font-size="31.4" fill="#111" text-anchor="end">Zic2/3 dKO</text></g>
<text x="23.51" y="1763.00" font-size="60.00" font-weight="bold" fill="#111" textLength="23.15" lengthAdjust="spacingAndGlyphs">f</text>
<text transform="translate(487.20 1840.60) scale(0.5575 0.5883)" x="-2.49" y="68.80" font-size="100" font-weight="bold" fill="#2ea836">A</text>
<text transform="translate(487.20 1881.75) scale(0.5542 0.3716)" x="-4.10" y="69.82" font-size="100" font-weight="bold" fill="#f2a21c">G</text>
<text transform="translate(487.20 1908.05) scale(0.5720 0.0572)" x="-4.10" y="69.82" font-size="100" font-weight="bold" fill="#2d4fa8">C</text>
<text transform="translate(487.20 1912.10) scale(0.6351 0.0294)" x="-1.12" y="68.80" font-size="100" font-weight="bold" fill="#e0261f">T</text>
<text transform="translate(525.40 1840.60) scale(0.5575 0.4575)" x="-2.49" y="68.80" font-size="100" font-weight="bold" fill="#2ea836">A</text>
<text transform="translate(525.40 1873.65) scale(0.5720 0.2953)" x="-4.10" y="69.82" font-size="100" font-weight="bold" fill="#2d4fa8">C</text>
<text transform="translate(525.40 1895.69) scale(0.5542 0.2382)" x="-4.10" y="69.82" font-size="100" font-weight="bold" fill="#f2a21c">G</text>
<text transform="translate(525.40 1912.55) scale(0.6351 0.0229)" x="-1.12" y="68.80" font-size="100" font-weight="bold" fill="#e0261f">T</text>
<text transform="translate(563.60 1840.60) scale(0.5720 1.0480)" x="-4.10" y="69.82" font-size="100" font-weight="bold" fill="#2d4fa8">C</text>
<text transform="translate(601.80 1840.60) scale(0.5575 1.0785)" x="-2.49" y="68.80" font-size="100" font-weight="bold" fill="#2ea836">A</text>
<text transform="translate(640.00 1840.60) scale(0.5575 0.8497)" x="-2.49" y="68.80" font-size="100" font-weight="bold" fill="#2ea836">A</text>
<text transform="translate(640.00 1899.06) scale(0.5542 0.1429)" x="-4.10" y="69.82" font-size="100" font-weight="bold" fill="#f2a21c">G</text>
<text transform="translate(640.00 1909.18) scale(0.6351 0.0654)" x="-1.12" y="68.80" font-size="100" font-weight="bold" fill="#e0261f">T</text>
<text transform="translate(678.20 1840.60) scale(0.5575 1.0295)" x="-2.49" y="68.80" font-size="100" font-weight="bold" fill="#2ea836">A</text>
<text transform="translate(678.20 1911.43) scale(0.6351 0.0327)" x="-1.12" y="68.80" font-size="100" font-weight="bold" fill="#e0261f">T</text>
<text transform="translate(716.40 1840.60) scale(0.6351 0.9968)" x="-1.12" y="68.80" font-size="100" font-weight="bold" fill="#e0261f">T</text>
<text transform="translate(716.40 1909.18) scale(0.5575 0.0490)" x="-2.49" y="68.80" font-size="100" font-weight="bold" fill="#2ea836">A</text>
<text transform="translate(716.40 1912.55) scale(0.5542 0.0222)" x="-4.10" y="69.82" font-size="100" font-weight="bold" fill="#f2a21c">G</text>
<text transform="translate(754.60 1840.60) scale(0.5542 1.0163)" x="-4.10" y="69.82" font-size="100" font-weight="bold" fill="#f2a21c">G</text>
<text transform="translate(792.80 1840.60) scale(0.5542 0.9305)" x="-4.10" y="69.82" font-size="100" font-weight="bold" fill="#f2a21c">G</text>
<text transform="translate(792.80 1906.48) scale(0.6351 0.0556)" x="-1.12" y="68.80" font-size="100" font-weight="bold" fill="#e0261f">T</text>
<text transform="translate(792.80 1910.30) scale(0.5720 0.0476)" x="-4.10" y="69.82" font-size="100" font-weight="bold" fill="#2d4fa8">C</text>
<text transform="translate(831.00 1840.60) scale(0.5720 0.4764)" x="-4.10" y="69.82" font-size="100" font-weight="bold" fill="#2d4fa8">C</text>
<text transform="translate(831.00 1874.33) scale(0.6351 0.3595)" x="-1.12" y="68.80" font-size="100" font-weight="bold" fill="#e0261f">T</text>
<text transform="translate(831.00 1899.06) scale(0.5542 0.1112)" x="-4.10" y="69.82" font-size="100" font-weight="bold" fill="#f2a21c">G</text>
<text transform="translate(831.00 1906.93) scale(0.5575 0.1144)" x="-2.49" y="68.80" font-size="100" font-weight="bold" fill="#2ea836">A</text>
<text transform="translate(294.90 1924.60) scale(0.5555 0.4175)" x="-4.10" y="69.82" font-size="100" font-weight="bold" fill="#f2a21c">G</text>
<text transform="translate(294.90 1956.79) scale(0.6366 0.2244)" x="-1.12" y="68.80" font-size="100" font-weight="bold" fill="#e0261f">T</text>
<text transform="translate(294.90 1972.22) scale(0.5588 0.1910)" x="-2.49" y="68.80" font-size="100" font-weight="bold" fill="#2ea836">A</text>
<text transform="translate(294.90 1985.36) scale(0.5734 0.1624)" x="-4.10" y="69.82" font-size="100" font-weight="bold" fill="#2d4fa8">C</text>
<text transform="translate(333.19 1924.60) scale(0.5555 0.4871)" x="-4.10" y="69.82" font-size="100" font-weight="bold" fill="#f2a21c">G</text>
<text transform="translate(333.19 1960.73) scale(0.5734 0.2319)" x="-4.10" y="69.82" font-size="100" font-weight="bold" fill="#2d4fa8">C</text>
<text transform="translate(333.19 1977.15) scale(0.5588 0.2148)" x="-2.49" y="68.80" font-size="100" font-weight="bold" fill="#2ea836">A</text>
<text transform="translate(333.19 1991.93) scale(0.6366 0.0955)" x="-1.12" y="68.80" font-size="100" font-weight="bold" fill="#e0261f">T</text>
<text transform="translate(371.47 1924.60) scale(0.5734 0.5103)" x="-4.10" y="69.82" font-size="100" font-weight="bold" fill="#2d4fa8">C</text>
<text transform="translate(371.47 1962.37) scale(0.5555 0.1624)" x="-4.10" y="69.82" font-size="100" font-weight="bold" fill="#f2a21c">G</text>
<text transform="translate(371.47 1975.51) scale(0.5588 0.1671)" x="-2.49" y="68.80" font-size="100" font-weight="bold" fill="#2ea836">A</text>
<text transform="translate(371.47 1987.00) scale(0.6366 0.1671)" x="-1.12" y="68.80" font-size="100" font-weight="bold" fill="#e0261f">T</text>
<text transform="translate(409.76 1924.60) scale(0.5734 0.5335)" x="-4.10" y="69.82" font-size="100" font-weight="bold" fill="#2d4fa8">C</text>
<text transform="translate(409.76 1964.01) scale(0.6366 0.2387)" x="-1.12" y="68.80" font-size="100" font-weight="bold" fill="#e0261f">T</text>
<text transform="translate(409.76 1980.44) scale(0.5588 0.1432)" x="-2.49" y="68.80" font-size="100" font-weight="bold" fill="#2ea836">A</text>
<text transform="translate(409.76 1990.29) scale(0.5555 0.1160)" x="-4.10" y="69.82" font-size="100" font-weight="bold" fill="#f2a21c">G</text>
<text transform="translate(448.05 1924.60) scale(0.5734 0.4407)" x="-4.10" y="69.82" font-size="100" font-weight="bold" fill="#2d4fa8">C</text>
<text transform="translate(448.05 1957.44) scale(0.6366 0.3342)" x="-1.12" y="68.80" font-size="100" font-weight="bold" fill="#e0261f">T</text>
<text transform="translate(448.05 1982.08) scale(0.5588 0.1432)" x="-2.49" y="68.80" font-size="100" font-weight="bold" fill="#2ea836">A</text>
<text transform="translate(448.05 1991.93) scale(0.5555 0.0928)" x="-4.10" y="69.82" font-size="100" font-weight="bold" fill="#f2a21c">G</text>
<text transform="translate(486.33 1924.60) scale(0.5734 1.0438)" x="-4.10" y="69.82" font-size="100" font-weight="bold" fill="#2d4fa8">C</text>
<text transform="translate(524.62 1924.60) scale(0.5734 0.9974)" x="-4.10" y="69.82" font-size="100" font-weight="bold" fill="#2d4fa8">C</text>
<text transform="translate(524.62 1995.22) scale(0.5588 0.0477)" x="-2.49" y="68.80" font-size="100" font-weight="bold" fill="#2ea836">A</text>
<text transform="translate(562.91 1924.60) scale(0.6366 0.6684)" x="-1.12" y="68.80" font-size="100" font-weight="bold" fill="#e0261f">T</text>
<text transform="translate(562.91 1972.22) scale(0.5734 0.2319)" x="-4.10" y="69.82" font-size="100" font-weight="bold" fill="#2d4fa8">C</text>
<text transform="translate(562.91 1988.65) scale(0.5588 0.1193)" x="-2.49" y="68.80" font-size="100" font-weight="bold" fill="#2ea836">A</text>
<text transform="translate(601.19 1924.60) scale(0.5555 0.9974)" x="-4.10" y="69.82" font-size="100" font-weight="bold" fill="#f2a21c">G</text>
<text transform="translate(601.19 1995.22) scale(0.5588 0.0477)" x="-2.49" y="68.80" font-size="100" font-weight="bold" fill="#2ea836">A</text>
<text transform="translate(639.48 1924.60) scale(0.5734 0.9974)" x="-4.10" y="69.82" font-size="100" font-weight="bold" fill="#2d4fa8">C</text>
<text transform="translate(639.48 1995.22) scale(0.5588 0.0477)" x="-2.49" y="68.80" font-size="100" font-weight="bold" fill="#2ea836">A</text>
<text transform="translate(677.77 1924.60) scale(0.6366 0.8116)" x="-1.12" y="68.80" font-size="100" font-weight="bold" fill="#e0261f">T</text>
<text transform="translate(677.77 1982.08) scale(0.5588 0.1671)" x="-2.49" y="68.80" font-size="100" font-weight="bold" fill="#2ea836">A</text>
<text transform="translate(677.77 1993.57) scale(0.5555 0.0696)" x="-4.10" y="69.82" font-size="100" font-weight="bold" fill="#f2a21c">G</text>
<text transform="translate(716.05 1924.60) scale(0.5555 1.0438)" x="-4.10" y="69.82" font-size="100" font-weight="bold" fill="#f2a21c">G</text>
<text transform="translate(754.34 1924.60) scale(0.6366 0.3819)" x="-1.12" y="68.80" font-size="100" font-weight="bold" fill="#e0261f">T</text>
<text transform="translate(754.34 1950.88) scale(0.5555 0.2783)" x="-4.10" y="69.82" font-size="100" font-weight="bold" fill="#f2a21c">G</text>
<text transform="translate(754.34 1972.22) scale(0.5588 0.1910)" x="-2.49" y="68.80" font-size="100" font-weight="bold" fill="#2ea836">A</text>
<text transform="translate(754.34 1987.00) scale(0.5734 0.1624)" x="-4.10" y="69.82" font-size="100" font-weight="bold" fill="#2d4fa8">C</text>
<text transform="translate(792.63 1924.60) scale(0.5555 0.8350)" x="-4.10" y="69.82" font-size="100" font-weight="bold" fill="#f2a21c">G</text>
<text transform="translate(792.63 1983.72) scale(0.6366 0.0716)" x="-1.12" y="68.80" font-size="100" font-weight="bold" fill="#e0261f">T</text>
<text transform="translate(792.63 1988.65) scale(0.5734 0.1392)" x="-4.10" y="69.82" font-size="100" font-weight="bold" fill="#2d4fa8">C</text>
<text transform="translate(830.91 1924.60) scale(0.5734 0.3247)" x="-4.10" y="69.82" font-size="100" font-weight="bold" fill="#2d4fa8">C</text>
<text transform="translate(830.91 1950.88) scale(0.5588 0.2864)" x="-2.49" y="68.80" font-size="100" font-weight="bold" fill="#2ea836">A</text>
<text transform="translate(830.91 1972.22) scale(0.6366 0.2387)" x="-1.12" y="68.80" font-size="100" font-weight="bold" fill="#e0261f">T</text>
<text transform="translate(830.91 1988.65) scale(0.5555 0.1392)" x="-4.10" y="69.82" font-size="100" font-weight="bold" fill="#f2a21c">G</text>
<text transform="translate(487.90 2007.60) scale(0.6339 0.3595)" x="-1.12" y="68.80" font-size="100" font-weight="bold" fill="#e0261f">T</text>
<text transform="translate(487.90 2032.33) scale(0.5710 0.3176)" x="-4.10" y="69.82" font-size="100" font-weight="bold" fill="#2d4fa8">C</text>
<text transform="translate(487.90 2054.82) scale(0.5532 0.2223)" x="-4.10" y="69.82" font-size="100" font-weight="bold" fill="#f2a21c">G</text>
<text transform="translate(487.90 2070.56) scale(0.5564 0.1634)" x="-2.49" y="68.80" font-size="100" font-weight="bold" fill="#2ea836">A</text>
<text transform="translate(526.03 2007.60) scale(0.5710 0.3970)" x="-4.10" y="69.82" font-size="100" font-weight="bold" fill="#2d4fa8">C</text>
<text transform="translate(526.03 2035.71) scale(0.6339 0.2941)" x="-1.12" y="68.80" font-size="100" font-weight="bold" fill="#e0261f">T</text>
<text transform="translate(526.03 2055.94) scale(0.5532 0.3493)" x="-4.10" y="69.82" font-size="100" font-weight="bold" fill="#f2a21c">G</text>
<text transform="translate(564.16 2007.60) scale(0.5710 0.8416)" x="-4.10" y="69.82" font-size="100" font-weight="bold" fill="#2d4fa8">C</text>
<text transform="translate(564.16 2067.18) scale(0.5532 0.1588)" x="-4.10" y="69.82" font-size="100" font-weight="bold" fill="#f2a21c">G</text>
<text transform="translate(564.16 2078.43) scale(0.6339 0.0490)" x="-1.12" y="68.80" font-size="100" font-weight="bold" fill="#e0261f">T</text>
<text transform="translate(602.29 2007.60) scale(0.6339 1.0785)" x="-1.12" y="68.80" font-size="100" font-weight="bold" fill="#e0261f">T</text>
<text transform="translate(640.42 2007.60) scale(0.6339 1.0785)" x="-1.12" y="68.80" font-size="100" font-weight="bold" fill="#e0261f">T</text>
<text transform="translate(678.55 2007.60) scale(0.5564 1.0785)" x="-2.49" y="68.80" font-size="100" font-weight="bold" fill="#2ea836">A</text>
<text transform="translate(716.68 2007.60) scale(0.6339 1.0785)" x="-1.12" y="68.80" font-size="100" font-weight="bold" fill="#e0261f">T</text>
<text transform="translate(754.81 2007.60) scale(0.5710 1.0480)" x="-4.10" y="69.82" font-size="100" font-weight="bold" fill="#2d4fa8">C</text>
<text transform="translate(792.94 2007.60) scale(0.6339 0.7517)" x="-1.12" y="68.80" font-size="100" font-weight="bold" fill="#e0261f">T</text>
<text transform="translate(792.94 2059.32) scale(0.5564 0.2941)" x="-2.49" y="68.80" font-size="100" font-weight="bold" fill="#2ea836">A</text>
<text transform="translate(792.94 2079.55) scale(0.5532 0.0318)" x="-4.10" y="69.82" font-size="100" font-weight="bold" fill="#f2a21c">G</text>
<text transform="translate(831.07 2007.60) scale(0.5710 0.3970)" x="-4.10" y="69.82" font-size="100" font-weight="bold" fill="#2d4fa8">C</text>
<text transform="translate(831.07 2035.71) scale(0.5532 0.3970)" x="-4.10" y="69.82" font-size="100" font-weight="bold" fill="#f2a21c">G</text>
<text transform="translate(831.07 2063.81) scale(0.6339 0.1798)" x="-1.12" y="68.80" font-size="100" font-weight="bold" fill="#e0261f">T</text>
<text transform="translate(831.07 2076.18) scale(0.5564 0.0817)" x="-2.49" y="68.80" font-size="100" font-weight="bold" fill="#2ea836">A</text>
<text transform="translate(487.90 2092.90) scale(0.5564 0.3917)" x="-2.49" y="68.80" font-size="100" font-weight="bold" fill="#2ea836">A</text>
<text transform="translate(487.90 2120.97) scale(0.5532 0.3330)" x="-4.10" y="69.82" font-size="100" font-weight="bold" fill="#f2a21c">G</text>
<text transform="translate(487.90 2144.55) scale(0.6339 0.2285)" x="-1.12" y="68.80" font-size="100" font-weight="bold" fill="#e0261f">T</text>
<text transform="translate(487.90 2160.26) scale(0.5710 0.0951)" x="-4.10" y="69.82" font-size="100" font-weight="bold" fill="#2d4fa8">C</text>
<text transform="translate(526.03 2092.90) scale(0.5710 0.6977)" x="-4.10" y="69.82" font-size="100" font-weight="bold" fill="#2d4fa8">C</text>
<text transform="translate(526.03 2142.30) scale(0.5564 0.1958)" x="-2.49" y="68.80" font-size="100" font-weight="bold" fill="#2ea836">A</text>
<text transform="translate(526.03 2155.77) scale(0.5532 0.1427)" x="-4.10" y="69.82" font-size="100" font-weight="bold" fill="#f2a21c">G</text>
<text transform="translate(564.16 2092.90) scale(0.5710 0.8246)" x="-4.10" y="69.82" font-size="100" font-weight="bold" fill="#2d4fa8">C</text>
<text transform="translate(564.16 2151.28) scale(0.5564 0.2121)" x="-2.49" y="68.80" font-size="100" font-weight="bold" fill="#2ea836">A</text>
<text transform="translate(602.29 2092.90) scale(0.5564 0.8159)" x="-2.49" y="68.80" font-size="100" font-weight="bold" fill="#2ea836">A</text>
<text transform="translate(602.29 2149.04) scale(0.6339 0.1632)" x="-1.12" y="68.80" font-size="100" font-weight="bold" fill="#e0261f">T</text>
<text transform="translate(602.29 2160.26) scale(0.5532 0.0951)" x="-4.10" y="69.82" font-size="100" font-weight="bold" fill="#f2a21c">G</text>
<text transform="translate(640.42 2092.90) scale(0.6339 0.6854)" x="-1.12" y="68.80" font-size="100" font-weight="bold" fill="#e0261f">T</text>
<text transform="translate(640.42 2140.05) scale(0.5532 0.3647)" x="-4.10" y="69.82" font-size="100" font-weight="bold" fill="#f2a21c">G</text>
<text transform="translate(678.55 2092.90) scale(0.5710 0.5392)" x="-4.10" y="69.82" font-size="100" font-weight="bold" fill="#2d4fa8">C</text>
<text transform="translate(678.55 2131.07) scale(0.5564 0.3917)" x="-2.49" y="68.80" font-size="100" font-weight="bold" fill="#2ea836">A</text>
<text transform="translate(678.55 2159.14) scale(0.6339 0.0979)" x="-1.12" y="68.80" font-size="100" font-weight="bold" fill="#e0261f">T</text>
<text transform="translate(716.68 2092.90) scale(0.6339 1.0281)" x="-1.12" y="68.80" font-size="100" font-weight="bold" fill="#e0261f">T</text>
<text transform="translate(716.68 2163.63) scale(0.5710 0.0476)" x="-4.10" y="69.82" font-size="100" font-weight="bold" fill="#2d4fa8">C</text>
<text transform="translate(754.81 2092.90) scale(0.5532 1.0149)" x="-4.10" y="69.82" font-size="100" font-weight="bold" fill="#f2a21c">G</text>
<text transform="translate(792.94 2092.90) scale(0.6339 0.5222)" x="-1.12" y="68.80" font-size="100" font-weight="bold" fill="#e0261f">T</text>
<text transform="translate(792.94 2131.07) scale(0.5532 0.2537)" x="-4.10" y="69.82" font-size="100" font-weight="bold" fill="#f2a21c">G</text>
<text transform="translate(792.94 2151.28) scale(0.5710 0.1744)" x="-4.10" y="69.82" font-size="100" font-weight="bold" fill="#2d4fa8">C</text>
<text transform="translate(831.07 2092.90) scale(0.6339 0.4896)" x="-1.12" y="68.80" font-size="100" font-weight="bold" fill="#e0261f">T</text>
<text transform="translate(831.07 2128.83) scale(0.5710 0.3013)" x="-4.10" y="69.82" font-size="100" font-weight="bold" fill="#2d4fa8">C</text>
<text transform="translate(831.07 2150.16) scale(0.5564 0.1632)" x="-2.49" y="68.80" font-size="100" font-weight="bold" fill="#2ea836">A</text>
<text transform="translate(831.07 2161.39) scale(0.5532 0.0793)" x="-4.10" y="69.82" font-size="100" font-weight="bold" fill="#f2a21c">G</text>
<text transform="translate(488.40 2177.00) scale(0.5557 0.8637)" x="-2.49" y="68.80" font-size="100" font-weight="bold" fill="#2ea836">A</text>
<text transform="translate(488.40 2236.42) scale(0.5525 0.1267)" x="-4.10" y="69.82" font-size="100" font-weight="bold" fill="#f2a21c">G</text>
<text transform="translate(488.40 2245.39) scale(0.6331 0.0815)" x="-1.12" y="68.80" font-size="100" font-weight="bold" fill="#e0261f">T</text>
<text transform="translate(526.48 2177.00) scale(0.5702 0.4434)" x="-4.10" y="69.82" font-size="100" font-weight="bold" fill="#2d4fa8">C</text>
<text transform="translate(526.48 2209.52) scale(0.5525 0.3167)" x="-4.10" y="69.82" font-size="100" font-weight="bold" fill="#f2a21c">G</text>
<text transform="translate(526.48 2234.18) scale(0.6331 0.2445)" x="-1.12" y="68.80" font-size="100" font-weight="bold" fill="#e0261f">T</text>
<text transform="translate(564.56 2177.00) scale(0.5557 0.5215)" x="-2.49" y="68.80" font-size="100" font-weight="bold" fill="#2ea836">A</text>
<text transform="translate(564.56 2214.00) scale(0.6331 0.5215)" x="-1.12" y="68.80" font-size="100" font-weight="bold" fill="#e0261f">T</text>
<text transform="translate(564.56 2249.88) scale(0.5702 0.0158)" x="-4.10" y="69.82" font-size="100" font-weight="bold" fill="#2d4fa8">C</text>
<text transform="translate(602.64 2177.00) scale(0.6331 1.0267)" x="-1.12" y="68.80" font-size="100" font-weight="bold" fill="#e0261f">T</text>
<text transform="translate(602.64 2247.64) scale(0.5557 0.0489)" x="-2.49" y="68.80" font-size="100" font-weight="bold" fill="#2ea836">A</text>
<text transform="translate(640.72 2177.00) scale(0.5702 0.9502)" x="-4.10" y="69.82" font-size="100" font-weight="bold" fill="#2d4fa8">C</text>
<text transform="translate(640.72 2244.27) scale(0.5525 0.0950)" x="-4.10" y="69.82" font-size="100" font-weight="bold" fill="#f2a21c">G</text>
<text transform="translate(678.80 2178.12) scale(0.5557 1.0593)" x="-2.49" y="68.80" font-size="100" font-weight="bold" fill="#2ea836">A</text>
<text transform="translate(716.88 2177.00) scale(0.5557 1.0756)" x="-2.49" y="68.80" font-size="100" font-weight="bold" fill="#2ea836">A</text>
<text transform="translate(754.96 2177.00) scale(0.5557 1.0756)" x="-2.49" y="68.80" font-size="100" font-weight="bold" fill="#2ea836">A</text>
<text transform="translate(793.04 2177.00) scale(0.5525 0.9502)" x="-4.10" y="69.82" font-size="100" font-weight="bold" fill="#f2a21c">G</text>
<text transform="translate(793.04 2244.27) scale(0.5557 0.0978)" x="-2.49" y="68.80" font-size="100" font-weight="bold" fill="#2ea836">A</text>
<text transform="translate(831.12 2177.00) scale(0.5525 0.5226)" x="-4.10" y="69.82" font-size="100" font-weight="bold" fill="#f2a21c">G</text>
<text transform="translate(831.12 2215.12) scale(0.5702 0.3642)" x="-4.10" y="69.82" font-size="100" font-weight="bold" fill="#2d4fa8">C</text>
<text transform="translate(831.12 2240.91) scale(0.5557 0.1141)" x="-2.49" y="68.80" font-size="100" font-weight="bold" fill="#2ea836">A</text>
<text transform="translate(831.12 2248.76) scale(0.6331 0.0326)" x="-1.12" y="68.80" font-size="100" font-weight="bold" fill="#e0261f">T</text>
<text transform="translate(564.80 2260.00) scale(0.6326 0.4726)" x="-1.12" y="68.80" font-size="100" font-weight="bold" fill="#e0261f">T</text>
<text transform="translate(564.80 2292.52) scale(0.5552 0.2282)" x="-2.49" y="68.80" font-size="100" font-weight="bold" fill="#2ea836">A</text>
<text transform="translate(564.80 2308.21) scale(0.5520 0.2217)" x="-4.10" y="69.82" font-size="100" font-weight="bold" fill="#f2a21c">G</text>
<text transform="translate(564.80 2323.91) scale(0.5697 0.1425)" x="-4.10" y="69.82" font-size="100" font-weight="bold" fill="#2d4fa8">C</text>
<text transform="translate(602.85 2260.00) scale(0.5520 1.0135)" x="-4.10" y="69.82" font-size="100" font-weight="bold" fill="#f2a21c">G</text>
<text transform="translate(602.85 2331.76) scale(0.5552 0.0326)" x="-2.49" y="68.80" font-size="100" font-weight="bold" fill="#2ea836">A</text>
<text transform="translate(640.90 2260.00) scale(0.6326 1.0593)" x="-1.12" y="68.80" font-size="100" font-weight="bold" fill="#e0261f">T</text>
<text transform="translate(678.95 2260.00) scale(0.5552 1.0756)" x="-2.49" y="68.80" font-size="100" font-weight="bold" fill="#2ea836">A</text>
<text transform="translate(717.00 2260.00) scale(0.5552 1.0756)" x="-2.49" y="68.80" font-size="100" font-weight="bold" fill="#2ea836">A</text>
<text transform="translate(755.05 2260.00) scale(0.5552 1.0756)" x="-2.49" y="68.80" font-size="100" font-weight="bold" fill="#2ea836">A</text>
<text transform="translate(793.10 2260.00) scale(0.5697 1.0452)" x="-4.10" y="69.82" font-size="100" font-weight="bold" fill="#2d4fa8">C</text>
<text transform="translate(831.15 2260.00) scale(0.5552 1.0756)" x="-2.49" y="68.80" font-size="100" font-weight="bold" fill="#2ea836">A</text>
<path d="M123.3 1732.8V2340.1M878.5 1732.8V2340.1M1044.1 1732.8V2340.1M1191.9 1732.8V2340.1M1359.8 1732.8V2340.1M1641.7 1732.8V2340.1M121.6 1734.5H1643.4M121.6 1837.5H1643.4M121.6 1920.8H1643.4M121.6 2004.0H1643.4M121.6 2088.6H1643.4M121.6 2171.0H1643.4M121.6 2255.2H1643.4M121.6 2338.4H1643.4" stroke="#0a0a0a" stroke-width="3.6" fill="none"/>
<text x="501.04" y="1793.70" font-size="34.00" fill="#4f52a3" textLength="78.31" lengthAdjust="spacingAndGlyphs">Motif</text>
<text x="901.51" y="1794.50" font-size="34.00" fill="#4f52a3" textLength="116.57" lengthAdjust="spacingAndGlyphs">p-value</text>
<text x="1105.16" y="1779.20" font-size="34.00" fill="#4f52a3" textLength="30.98" lengthAdjust="spacingAndGlyphs">%</text>
<text x="1066.47" y="1820.00" font-size="34.00" fill="#4f52a3" textLength="107.40" lengthAdjust="spacingAndGlyphs">targets</text>
<text x="1212.94" y="1779.20" font-size="34.00" fill="#4f52a3" textLength="127.83" lengthAdjust="spacingAndGlyphs">% back-</text>
<text x="1221.52" y="1820.00" font-size="34.00" fill="#4f52a3" textLength="109.75" lengthAdjust="spacingAndGlyphs">ground</text>
<text x="1436.69" y="1794.50" font-size="34.00" fill="#4f52a3" textLength="177.52" lengthAdjust="spacingAndGlyphs">Best match</text>
<text x="904.60" y="1894.50" font-size="34.00" fill="#111" textLength="110.29" lengthAdjust="spacingAndGlyphs">1e-775</text>
<text x="1085.61" y="1894.50" font-size="34.00" fill="#111" textLength="67.59" lengthAdjust="spacingAndGlyphs">53.1</text>
<text x="1246.70" y="1894.50" font-size="34.00" fill="#111" textLength="66.38" lengthAdjust="spacingAndGlyphs">11.8</text>
<text x="1380.30" y="1894.50" font-size="34.00" fill="#111" textLength="232.42" lengthAdjust="spacingAndGlyphs">bHLH (Mesp1)</text>
<text x="901.09" y="1980.90" font-size="34.00" fill="#111" textLength="110.88" lengthAdjust="spacingAndGlyphs">1e-206</text>
<text x="1082.26" y="1980.90" font-size="34.00" fill="#111" textLength="68.41" lengthAdjust="spacingAndGlyphs">35.0</text>
<text x="1240.86" y="1980.90" font-size="34.00" fill="#111" textLength="70.13" lengthAdjust="spacingAndGlyphs">14.3</text>
<text x="1468.23" y="1980.90" font-size="34.00" fill="#111" textLength="49.04" lengthAdjust="spacingAndGlyphs">Zic</text>
<text x="901.12" y="2065.80" font-size="34.00" fill="#111" textLength="109.60" lengthAdjust="spacingAndGlyphs">1e-151</text>
<text x="1082.25" y="2065.80" font-size="34.00" fill="#111" textLength="68.83" lengthAdjust="spacingAndGlyphs">30.7</text>
<text x="1240.86" y="2065.80" font-size="34.00" fill="#111" textLength="70.13" lengthAdjust="spacingAndGlyphs">13.6</text>
<text x="1453.64" y="2065.80" font-size="34.00" fill="#111" textLength="75.76" lengthAdjust="spacingAndGlyphs">Gata</text>
<text x="901.09" y="2147.70" font-size="34.00" fill="#111" textLength="110.59" lengthAdjust="spacingAndGlyphs">1e-149</text>
<text x="1081.18" y="2147.70" font-size="34.00" fill="#111" textLength="69.51" lengthAdjust="spacingAndGlyphs">47.9</text>
<text x="1240.18" y="2147.70" font-size="34.00" fill="#111" textLength="70.41" lengthAdjust="spacingAndGlyphs">27.3</text>
<text x="1445.94" y="2147.70" font-size="34.00" fill="#111" textLength="93.54" lengthAdjust="spacingAndGlyphs">bHLH</text>
<text x="902.35" y="2228.00" font-size="34.00" fill="#111" textLength="108.30" lengthAdjust="spacingAndGlyphs">1e-119</text>
<text x="1082.33" y="2228.00" font-size="34.00" fill="#111" textLength="68.14" lengthAdjust="spacingAndGlyphs">17.5</text>
<text x="1250.19" y="2228.00" font-size="34.00" fill="#111" textLength="49.61" lengthAdjust="spacingAndGlyphs">6.2</text>
<text x="1440.19" y="2228.00" font-size="34.00" fill="#111" textLength="102.76" lengthAdjust="spacingAndGlyphs">Lcf/Tcf</text>
<text x="901.09" y="2307.00" font-size="34.00" fill="#111" textLength="110.70" lengthAdjust="spacingAndGlyphs">1e-102</text>
<text x="1080.18" y="2307.00" font-size="34.00" fill="#111" textLength="70.39" lengthAdjust="spacingAndGlyphs">28.8</text>
<text x="1240.85" y="2307.00" font-size="34.00" fill="#111" textLength="70.37" lengthAdjust="spacingAndGlyphs">14.7</text>
<text x="1462.08" y="2307.00" font-size="34.00" fill="#111" textLength="59.30" lengthAdjust="spacingAndGlyphs">Fox</text>
</svg>
</body></html>
